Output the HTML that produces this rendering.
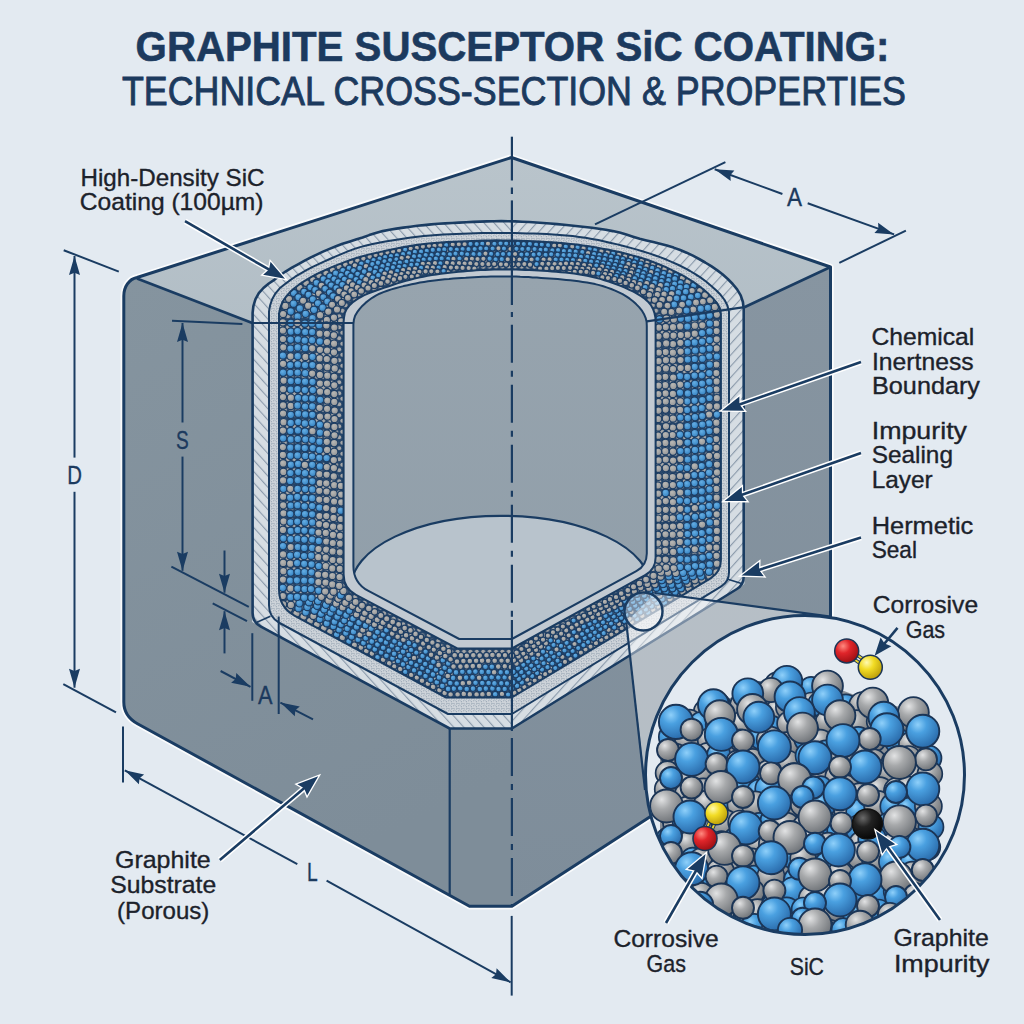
<!DOCTYPE html><html><head><meta charset="utf-8"><style>html,body{margin:0;padding:0;background:#e3eaf1;}svg{display:block;}text{font-family:"Liberation Sans",sans-serif;}</style></head><body>
<svg width="1024" height="1024" viewBox="0 0 1024 1024">
<defs>
<linearGradient id="gleft" x1="0" y1="0" x2="0.3" y2="1"><stop offset="0" stop-color="#85949f"/><stop offset="1" stop-color="#7e8d99"/></linearGradient>
<linearGradient id="gright" x1="0" y1="0" x2="0" y2="1"><stop offset="0" stop-color="#8795a1"/><stop offset="1" stop-color="#7e8d9a"/></linearGradient>
<linearGradient id="gtop" x1="0" y1="0" x2="0" y2="1"><stop offset="0" stop-color="#b9c4cb"/><stop offset="1" stop-color="#b2bec6"/></linearGradient>
<linearGradient id="gcav" x1="0" y1="0" x2="0" y2="1"><stop offset="0" stop-color="#97a4ae"/><stop offset="1" stop-color="#909ea9"/></linearGradient>
<pattern id="hatchL" patternUnits="userSpaceOnUse" width="7.5" height="8" patternTransform="rotate(-42)"><rect width="7.5" height="8" fill="#d6dde3"/><line x1="0.6" y1="0" x2="0.6" y2="8" stroke="#8292a4" stroke-width="1"/></pattern><pattern id="hatchR" patternUnits="userSpaceOnUse" width="7.5" height="8" patternTransform="rotate(42)"><rect width="7.5" height="8" fill="#d6dde3"/><line x1="0.6" y1="0" x2="0.6" y2="8" stroke="#8292a4" stroke-width="1"/></pattern>
<pattern id="stip" patternUnits="userSpaceOnUse" width="5" height="5"><rect width="5" height="5" fill="#cdd3d9"/><path d="M0.5,0.8 L2,2.2 M3.2,1 L4.4,0.2 M1,4.2 L2.6,3.4 M3.6,3 L4.6,4.4" stroke="#6e8196" stroke-width="0.6"/></pattern>
<radialGradient id="sb" cx="0.35" cy="0.3" r="0.75"><stop offset="0" stop-color="#8fd0fa"/><stop offset="0.35" stop-color="#4aa0e0"/><stop offset="1" stop-color="#2868a8"/></radialGradient>
<radialGradient id="sg" cx="0.35" cy="0.3" r="0.75"><stop offset="0" stop-color="#e2e3e4"/><stop offset="0.4" stop-color="#a7a9ab"/><stop offset="1" stop-color="#6d7176"/></radialGradient>
<radialGradient id="sr" cx="0.35" cy="0.3" r="0.75"><stop offset="0" stop-color="#ff8a80"/><stop offset="0.4" stop-color="#e0252a"/><stop offset="1" stop-color="#9a0e12"/></radialGradient>
<radialGradient id="sy" cx="0.35" cy="0.3" r="0.75"><stop offset="0" stop-color="#fffab0"/><stop offset="0.4" stop-color="#f2dc25"/><stop offset="1" stop-color="#b89a08"/></radialGradient>
<radialGradient id="sk" cx="0.35" cy="0.3" r="0.75"><stop offset="0" stop-color="#6a6a6a"/><stop offset="0.4" stop-color="#222"/><stop offset="1" stop-color="#050505"/></radialGradient>
<pattern id="cells" patternUnits="userSpaceOnUse" width="6.4" height="11"><rect width="6.4" height="11" fill="#234469"/><circle cx="3.2" cy="2.75" r="2.5" fill="#a6a7a8" stroke="#1d3d63" stroke-width="0.8"/><circle cx="0" cy="8.25" r="2.5" fill="#a6a7a8" stroke="#1d3d63" stroke-width="0.8"/><circle cx="6.4" cy="8.25" r="2.5" fill="#a6a7a8" stroke="#1d3d63" stroke-width="0.8"/></pattern>
<radialGradient id="pb" cx="0.4" cy="0.35" r="0.7"><stop offset="0" stop-color="#66aee3"/><stop offset="1" stop-color="#3280c0"/></radialGradient>
<radialGradient id="pg" cx="0.4" cy="0.35" r="0.7"><stop offset="0" stop-color="#b9b8b5"/><stop offset="1" stop-color="#929496"/></radialGradient>
<clipPath id="cb0"><path d="M252.6,313 L253.4,306 L255.4,299.3 L258.8,293.2 L263.4,288 L268.8,283.5 L274.6,279.6 L280.1,275.3 L285.9,271.3 L291.9,267.7 L298,264.3 L304.2,260.9 L310.4,257.6 L316.7,254.6 L323,251.6 L329.5,248.9 L336,246.3 L342.5,243.8 L349.2,241.7 L355.9,239.6 L362.6,237.5 L369.2,235.1 L375.8,232.9 L382.6,231.1 L389.5,229.8 L396.4,228.6 L403.3,227.6 L410.3,226.7 L417.2,225.8 L424.2,225.1 L431.2,224.4 L438.2,223.8 L445.1,223.4 L452.1,223 L459.1,222.6 L466.1,222.2 L473.1,221.9 L480.1,221.6 L487.1,221.4 L494.2,221.2 L501.2,221.1 L508.2,221.2 L515.2,221.4 L522.2,221.7 L529.2,222 L536.2,222.5 L543.2,223 L550.1,223.5 L557.1,224.1 L564.1,224.8 L571.1,225.5 L578,226.2 L585,227 L592,227.8 L598.9,228.7 L605.8,229.8 L612.7,231.1 L619.6,232.6 L626.3,234.6 L633,236.7 L639.7,238.7 L646.5,240.4 L653.3,242.1 L660.1,243.7 L666.9,245.5 L673.6,247.6 L680.2,250 L686.6,252.7 L692.9,255.7 L699.1,259 L705.2,262.5 L711.2,266.2 L717,270.1 L722.5,274.3 L727.8,279 L732.7,284 L737.1,289.4 L740.7,295.4 L742.9,302 L743.7,309 L743.7,576.8 Q743.7,584.8 736.9,589 L511.9,728.5 L449.7,728.5 L260.5,626.3 Q252.6,622.1 252.6,613.1 Z"/></clipPath>
<clipPath id="cb1"><path d="M269,311.4 L270.2,305 L272.3,298.9 L275.5,293.3 L279.7,288.3 L284.7,284.3 L289.9,280.4 L295.2,276.7 L300.8,273.3 L306.4,270.2 L312.2,267.2 L318,264.4 L323.9,261.6 L329.8,259 L335.8,256.4 L341.8,253.9 L347.8,251.4 L353.8,249.1 L360,247.1 L366.2,245.5 L372.6,244.1 L378.9,242.8 L385.3,241.6 L391.7,240.5 L398.1,239.5 L404.5,238.5 L410.9,237.6 L417.4,236.8 L423.8,236.1 L430.2,235.5 L436.7,234.9 L443.2,234.5 L449.7,234.2 L456.1,233.9 L462.6,233.7 L469.1,233.4 L475.6,233.2 L482,233 L488.5,232.9 L495,232.9 L501.5,232.9 L508,232.9 L514.5,233.1 L520.9,233.2 L527.4,233.4 L533.9,233.6 L540.4,233.8 L546.8,234.1 L553.3,234.5 L559.8,234.9 L566.2,235.4 L572.7,236.1 L579.1,236.9 L585.5,237.8 L591.9,238.9 L598.3,240.1 L604.6,241.5 L611,242.9 L617.3,244.4 L623.6,246 L629.8,247.6 L636.1,249.4 L642.3,251.2 L648.5,253.1 L654.6,255.2 L660.7,257.4 L666.8,259.8 L672.7,262.3 L678.6,265 L684.4,267.9 L690.1,271 L695.7,274.3 L701.1,277.9 L706.3,281.8 L711.3,285.9 L716.1,290.2 L720.6,294.8 L724.6,300 L727.5,305.7 L729,312 L729,572.6 Q729,581.6 721.3,586.3 L511.9,714 L448,714 L279.6,623 Q269,617.3 269,605.3 Z"/></clipPath>
<clipPath id="cb2"><path d="M279,313.8 L280.3,307.7 L282.5,301.9 L285.9,296.8 L290,292.1 L294.6,288 L299.6,284.2 L304.8,280.9 L310.1,277.7 L315.5,274.7 L321.1,272 L326.7,269.3 L332.4,266.9 L338.1,264.6 L343.9,262.4 L349.7,260.3 L355.6,258.3 L361.5,256.5 L367.5,254.9 L373.5,253.5 L379.6,252.1 L385.6,250.8 L391.7,249.5 L397.7,248.3 L403.8,247.1 L409.9,246.1 L416,245.1 L422.2,244.2 L428.3,243.5 L434.5,242.9 L440.7,242.4 L446.9,242 L453,241.7 L459.2,241.5 L465.4,241.2 L471.6,240.9 L477.8,240.7 L484,240.5 L490.2,240.4 L496.4,240.3 L502.6,240.4 L508.7,240.4 L514.9,240.6 L521.1,240.8 L527.3,241 L533.5,241.2 L539.7,241.5 L545.9,241.9 L552.1,242.3 L558.2,242.7 L564.4,243.2 L570.6,243.9 L576.7,244.6 L582.9,245.4 L589,246.3 L595.1,247.3 L601.2,248.4 L607.3,249.6 L613.3,250.8 L619.4,252.1 L625.4,253.5 L631.4,255.1 L637.4,256.7 L643.3,258.5 L649.2,260.5 L655,262.7 L660.7,265 L666.4,267.4 L672,270.1 L677.6,272.8 L683.1,275.7 L688.4,278.8 L693.7,282.1 L698.7,285.7 L703.6,289.5 L708.2,293.6 L712.6,297.9 L716.7,302.6 L719.8,308 L720.9,314 L720.9,560.1 Q720.9,572.1 710.6,578.3 L511.9,697.5 L446,697.5 L294.8,615.9 Q279,607.3 279,589.3 Z"/></clipPath>
<clipPath id="cb3"><path d="M343.6,322 L344,317.6 L344.8,313.2 L346.6,309.2 L349.3,305.6 L352.5,302.5 L356.1,299.9 L359.9,297.5 L363.8,295.4 L367.9,293.6 L372,292 L376.2,290.5 L380.4,289 L384.6,287.6 L388.9,286.2 L393.1,284.8 L397.3,283.4 L401.6,282.1 L405.9,280.9 L410.2,279.7 L414.5,278.6 L418.8,277.6 L423.2,276.7 L427.5,275.8 L431.9,275.1 L436.3,274.4 L440.8,273.8 L445.2,273.2 L449.6,272.7 L454,272.2 L458.5,271.8 L462.9,271.4 L467.3,271 L471.8,270.7 L476.2,270.3 L480.7,270.1 L485.1,269.9 L489.5,269.7 L494,269.5 L498.5,269.5 L502.9,269.4 L507.4,269.4 L511.8,269.5 L516.3,269.6 L520.7,269.7 L525.2,269.9 L529.6,270.1 L534.1,270.3 L538.5,270.5 L543,270.8 L547.4,271.1 L551.8,271.4 L556.3,271.8 L560.7,272.2 L565.2,272.6 L569.6,273.1 L574,273.6 L578.4,274.3 L582.8,275 L587.2,275.8 L591.5,276.7 L595.9,277.8 L600.2,278.9 L604.4,280.2 L608.7,281.6 L612.9,283 L617.1,284.5 L621.2,286.2 L625.3,287.9 L629.4,289.8 L633.4,291.7 L637.3,293.8 L641.1,296.2 L644.7,298.8 L648,301.7 L650.9,305.1 L653,309 L654.5,313.2 L655.4,317.6 L655.6,322 L655.6,557.5 Q655.6,569.5 645.1,575.2 L511.9,648.5 L457.3,648.5 L356,594.8 Q343.6,588.2 343.6,574.2 Z"/></clipPath>
<clipPath id="cb4"><path d="M353.4,324 L353.9,319.8 L355.1,315.8 L357.2,312.2 L359.7,308.9 L362.5,305.7 L365.5,302.9 L368.8,300.3 L372.2,297.8 L375.8,295.6 L379.5,293.7 L383.4,292.1 L387.3,290.7 L391.3,289.4 L395.4,288.2 L399.4,287.1 L403.5,286.1 L407.6,285.2 L411.6,284.3 L415.8,283.4 L419.9,282.6 L424,281.9 L428.1,281.3 L432.3,280.7 L436.5,280.2 L440.6,279.7 L444.8,279.3 L449,279 L453.2,278.6 L457.3,278.3 L461.5,278 L465.7,277.8 L469.9,277.5 L474.1,277.2 L478.3,277 L482.4,276.8 L486.6,276.7 L490.8,276.5 L495,276.4 L499.2,276.4 L503.4,276.4 L507.6,276.4 L511.8,276.5 L516,276.6 L520.2,276.8 L524.3,276.9 L528.5,277.1 L532.7,277.4 L536.9,277.6 L541.1,277.9 L545.3,278.2 L549.5,278.5 L553.6,278.8 L557.8,279.1 L562,279.5 L566.2,279.9 L570.3,280.3 L574.5,280.8 L578.7,281.3 L582.8,281.9 L587,282.5 L591.1,283.3 L595.2,284.1 L599.3,285.1 L603.3,286.3 L607.3,287.6 L611.2,289 L615.1,290.6 L618.9,292.3 L622.6,294.2 L626.3,296.4 L629.7,298.7 L633,301.3 L636.1,304.1 L639.1,307.1 L641.7,310.3 L643.9,313.9 L645.6,317.8 L646.6,321.8 L646.8,326 L646.8,553.5 Q646.8,565.5 636.3,571.2 L511.9,639 L459.2,639 L368.4,590.9 Q353.4,582.9 353.4,565.9 Z"/></clipPath>
<clipPath id="bigc"><circle cx="805" cy="775" r="158.5"/></clipPath>
<clipPath id="pileclip"><path d="M648,740 L660,715 L690,702 L713,692 L745,681 L787,668 L830,673 L872,690 L913,699 L936,716 L942,760 L945,800 L940,860 L900,940 L700,940 L650,860 Z"/></clipPath>
<clipPath id="smallc"><circle cx="643.5" cy="611.5" r="18"/></clipPath>
</defs>
<rect width="1024" height="1024" fill="#e3eaf1"/>
<path d="M123.8,500 L123.8,296 C123.8,287 129,279 137,277.5 L511.5,157.5 L830.5,267 L830.5,700 L511.9,906.2 L469.5,906.2 L137.5,723.7 C128,718.5 123.8,712 123.8,702 Z" fill="none" stroke="#ffffff" stroke-opacity="0.8" stroke-width="6.5" stroke-linejoin="round"/>
<path d="M137,277.5 L511.5,157.5 L830.5,267 L744.35,307.2 L252.3,323 Z" fill="url(#gtop)"/>
<path d="M744.35,307.2 L830.5,267 L830.5,700 L511.9,906.2 L510.5,906.2 L510.5,728.5 L744.35,584 Z" fill="url(#gright)"/>
<path d="M137,278.5 L252.3,323 L252.3,622 L449.7,728.5 L512.3,728.5 L512.3,906.2 L469.5,906.2 L137.5,723.7 C128,718.5 123.8,712 123.8,702 L123.8,296 C123.8,287 129,280 137,278.5 Z" fill="url(#gleft)"/>
<path d="M252.3,323 L137,278.5 M830.5,267 L744.35,307.2" fill="none" stroke="#1a3c62" stroke-width="2.8"/>
<path d="M123.8,500 L123.8,296 C123.8,287 129,279 137,277.5 L511.5,157.5 L830.5,267 L830.5,700 L511.9,906.2 L469.5,906.2 L137.5,723.7 C128,718.5 123.8,712 123.8,702 Z" fill="none" stroke="#1a3c62" stroke-width="3" stroke-linejoin="round"/>
<line x1="449.7" y1="728.5" x2="449.7" y2="894.5" stroke="#1a3c62" stroke-width="2.2"/>
<g clip-path="url(#cb0)"><rect x="240" y="200" width="272" height="540" fill="url(#hatchL)"/><rect x="512" y="200" width="240" height="540" fill="url(#hatchR)"/></g>
<path d="M269,311.4 L270.2,305 L272.3,298.9 L275.5,293.3 L279.7,288.3 L284.7,284.3 L289.9,280.4 L295.2,276.7 L300.8,273.3 L306.4,270.2 L312.2,267.2 L318,264.4 L323.9,261.6 L329.8,259 L335.8,256.4 L341.8,253.9 L347.8,251.4 L353.8,249.1 L360,247.1 L366.2,245.5 L372.6,244.1 L378.9,242.8 L385.3,241.6 L391.7,240.5 L398.1,239.5 L404.5,238.5 L410.9,237.6 L417.4,236.8 L423.8,236.1 L430.2,235.5 L436.7,234.9 L443.2,234.5 L449.7,234.2 L456.1,233.9 L462.6,233.7 L469.1,233.4 L475.6,233.2 L482,233 L488.5,232.9 L495,232.9 L501.5,232.9 L508,232.9 L514.5,233.1 L520.9,233.2 L527.4,233.4 L533.9,233.6 L540.4,233.8 L546.8,234.1 L553.3,234.5 L559.8,234.9 L566.2,235.4 L572.7,236.1 L579.1,236.9 L585.5,237.8 L591.9,238.9 L598.3,240.1 L604.6,241.5 L611,242.9 L617.3,244.4 L623.6,246 L629.8,247.6 L636.1,249.4 L642.3,251.2 L648.5,253.1 L654.6,255.2 L660.7,257.4 L666.8,259.8 L672.7,262.3 L678.6,265 L684.4,267.9 L690.1,271 L695.7,274.3 L701.1,277.9 L706.3,281.8 L711.3,285.9 L716.1,290.2 L720.6,294.8 L724.6,300 L727.5,305.7 L729,312 L729,572.6 Q729,581.6 721.3,586.3 L511.9,714 L448,714 L279.6,623 Q269,617.3 269,605.3 Z" fill="url(#stip)"/>
<path d="M279,313.8 L280.3,307.7 L282.5,301.9 L285.9,296.8 L290,292.1 L294.6,288 L299.6,284.2 L304.8,280.9 L310.1,277.7 L315.5,274.7 L321.1,272 L326.7,269.3 L332.4,266.9 L338.1,264.6 L343.9,262.4 L349.7,260.3 L355.6,258.3 L361.5,256.5 L367.5,254.9 L373.5,253.5 L379.6,252.1 L385.6,250.8 L391.7,249.5 L397.7,248.3 L403.8,247.1 L409.9,246.1 L416,245.1 L422.2,244.2 L428.3,243.5 L434.5,242.9 L440.7,242.4 L446.9,242 L453,241.7 L459.2,241.5 L465.4,241.2 L471.6,240.9 L477.8,240.7 L484,240.5 L490.2,240.4 L496.4,240.3 L502.6,240.4 L508.7,240.4 L514.9,240.6 L521.1,240.8 L527.3,241 L533.5,241.2 L539.7,241.5 L545.9,241.9 L552.1,242.3 L558.2,242.7 L564.4,243.2 L570.6,243.9 L576.7,244.6 L582.9,245.4 L589,246.3 L595.1,247.3 L601.2,248.4 L607.3,249.6 L613.3,250.8 L619.4,252.1 L625.4,253.5 L631.4,255.1 L637.4,256.7 L643.3,258.5 L649.2,260.5 L655,262.7 L660.7,265 L666.4,267.4 L672,270.1 L677.6,272.8 L683.1,275.7 L688.4,278.8 L693.7,282.1 L698.7,285.7 L703.6,289.5 L708.2,293.6 L712.6,297.9 L716.7,302.6 L719.8,308 L720.9,314 L720.9,560.1 Q720.9,572.1 710.6,578.3 L511.9,697.5 L446,697.5 L294.8,615.9 Q279,607.3 279,589.3 Z" fill="url(#cells)"/>
<g clip-path="url(#cb2)">
<circle cx="283.1" cy="314" r="3.7" fill="url(#pg)" stroke="#1d3d63" stroke-width="1.2"/>
<circle cx="285.3" cy="305.9" r="3.7" fill="url(#pg)" stroke="#1d3d63" stroke-width="1.2"/>
<circle cx="289" cy="298.9" r="3.6" fill="url(#pg)" stroke="#1d3d63" stroke-width="1.2"/>
<circle cx="293.8" cy="292.9" r="3.6" fill="url(#pb)" stroke="#1d3d63" stroke-width="1.2"/>
<circle cx="299.7" cy="287.7" r="3.5" fill="url(#pg)" stroke="#1d3d63" stroke-width="1.2"/>
<circle cx="306.1" cy="282.9" r="3.4" fill="url(#pg)" stroke="#1d3d63" stroke-width="1.2"/>
<circle cx="312.8" cy="279.6" r="3.3" fill="url(#pg)" stroke="#1d3d63" stroke-width="1.2"/>
<circle cx="319.1" cy="275.6" r="3.3" fill="url(#pg)" stroke="#1d3d63" stroke-width="1.2"/>
<circle cx="326" cy="273" r="3.2" fill="url(#pg)" stroke="#1d3d63" stroke-width="1.2"/>
<circle cx="332.4" cy="269.7" r="3.1" fill="url(#pg)" stroke="#1d3d63" stroke-width="1.2"/>
<circle cx="339.1" cy="266.8" r="3.1" fill="url(#pg)" stroke="#1d3d63" stroke-width="1.2"/>
<circle cx="345.4" cy="264.5" r="3" fill="url(#pg)" stroke="#1d3d63" stroke-width="1.2"/>
<circle cx="351.1" cy="262.1" r="2.9" fill="url(#pg)" stroke="#1d3d63" stroke-width="1.2"/>
<circle cx="357.4" cy="260.5" r="2.9" fill="url(#pg)" stroke="#1d3d63" stroke-width="1.2"/>
<circle cx="363.4" cy="258.5" r="2.8" fill="url(#pg)" stroke="#1d3d63" stroke-width="1.2"/>
<circle cx="369.7" cy="256.7" r="2.8" fill="url(#pg)" stroke="#1d3d63" stroke-width="1.2"/>
<circle cx="375.6" cy="255.1" r="2.7" fill="url(#pg)" stroke="#1d3d63" stroke-width="1.2"/>
<circle cx="381.2" cy="253.9" r="2.7" fill="url(#pg)" stroke="#1d3d63" stroke-width="1.2"/>
<circle cx="387.5" cy="252.8" r="2.7" fill="url(#pg)" stroke="#1d3d63" stroke-width="1.2"/>
<circle cx="393.1" cy="251.7" r="2.7" fill="url(#pg)" stroke="#1d3d63" stroke-width="1.2"/>
<circle cx="399.1" cy="250.4" r="2.7" fill="url(#pg)" stroke="#1d3d63" stroke-width="1.2"/>
<circle cx="405.2" cy="249.7" r="2.7" fill="url(#pb)" stroke="#1d3d63" stroke-width="1.2"/>
<circle cx="410.7" cy="248.6" r="2.7" fill="url(#pg)" stroke="#1d3d63" stroke-width="1.2"/>
<circle cx="416.8" cy="247.9" r="2.7" fill="url(#pg)" stroke="#1d3d63" stroke-width="1.2"/>
<circle cx="422.9" cy="246.6" r="2.7" fill="url(#pg)" stroke="#1d3d63" stroke-width="1.2"/>
<circle cx="429" cy="245.8" r="2.7" fill="url(#pg)" stroke="#1d3d63" stroke-width="1.2"/>
<circle cx="434.5" cy="245.8" r="2.7" fill="url(#pg)" stroke="#1d3d63" stroke-width="1.2"/>
<circle cx="440.3" cy="245.2" r="2.7" fill="url(#pg)" stroke="#1d3d63" stroke-width="1.2"/>
<circle cx="446.2" cy="245" r="2.7" fill="url(#pb)" stroke="#1d3d63" stroke-width="1.2"/>
<circle cx="452.7" cy="244.6" r="2.7" fill="url(#pg)" stroke="#1d3d63" stroke-width="1.2"/>
<circle cx="458.8" cy="244.2" r="2.7" fill="url(#pg)" stroke="#1d3d63" stroke-width="1.2"/>
<circle cx="464.6" cy="244.2" r="2.7" fill="url(#pg)" stroke="#1d3d63" stroke-width="1.2"/>
<circle cx="470.5" cy="243.9" r="2.7" fill="url(#pb)" stroke="#1d3d63" stroke-width="1.2"/>
<circle cx="476.7" cy="244.1" r="2.7" fill="url(#pb)" stroke="#1d3d63" stroke-width="1.2"/>
<circle cx="482.3" cy="243.7" r="2.7" fill="url(#pb)" stroke="#1d3d63" stroke-width="1.2"/>
<circle cx="488" cy="243.7" r="2.7" fill="url(#pg)" stroke="#1d3d63" stroke-width="1.2"/>
<circle cx="494.4" cy="243.8" r="2.7" fill="url(#pb)" stroke="#1d3d63" stroke-width="1.2"/>
<circle cx="500.6" cy="243.3" r="2.7" fill="url(#pb)" stroke="#1d3d63" stroke-width="1.2"/>
<circle cx="506.2" cy="243.6" r="2.7" fill="url(#pb)" stroke="#1d3d63" stroke-width="1.2"/>
<circle cx="511.9" cy="243.6" r="2.7" fill="url(#pb)" stroke="#1d3d63" stroke-width="1.2"/>
<circle cx="518" cy="243.5" r="2.7" fill="url(#pb)" stroke="#1d3d63" stroke-width="1.2"/>
<circle cx="523.8" cy="244.1" r="2.7" fill="url(#pb)" stroke="#1d3d63" stroke-width="1.2"/>
<circle cx="529.9" cy="243.9" r="2.7" fill="url(#pb)" stroke="#1d3d63" stroke-width="1.2"/>
<circle cx="536.1" cy="244.6" r="2.7" fill="url(#pb)" stroke="#1d3d63" stroke-width="1.2"/>
<circle cx="541.8" cy="244.6" r="2.7" fill="url(#pb)" stroke="#1d3d63" stroke-width="1.2"/>
<circle cx="548.1" cy="245.2" r="2.7" fill="url(#pb)" stroke="#1d3d63" stroke-width="1.2"/>
<circle cx="554.3" cy="245.5" r="2.7" fill="url(#pg)" stroke="#1d3d63" stroke-width="1.2"/>
<circle cx="559.8" cy="245.6" r="2.7" fill="url(#pg)" stroke="#1d3d63" stroke-width="1.2"/>
<circle cx="565.8" cy="246.5" r="2.7" fill="url(#pb)" stroke="#1d3d63" stroke-width="1.2"/>
<circle cx="572.3" cy="246.5" r="2.7" fill="url(#pg)" stroke="#1d3d63" stroke-width="1.2"/>
<circle cx="577.6" cy="247.2" r="2.7" fill="url(#pb)" stroke="#1d3d63" stroke-width="1.2"/>
<circle cx="583.6" cy="248.2" r="2.7" fill="url(#pg)" stroke="#1d3d63" stroke-width="1.2"/>
<circle cx="589.8" cy="248.8" r="2.7" fill="url(#pb)" stroke="#1d3d63" stroke-width="1.2"/>
<circle cx="595.2" cy="249.9" r="2.7" fill="url(#pb)" stroke="#1d3d63" stroke-width="1.2"/>
<circle cx="601.4" cy="251" r="2.7" fill="url(#pg)" stroke="#1d3d63" stroke-width="1.2"/>
<circle cx="607.7" cy="252.2" r="2.7" fill="url(#pg)" stroke="#1d3d63" stroke-width="1.2"/>
<circle cx="613.2" cy="253.3" r="2.7" fill="url(#pb)" stroke="#1d3d63" stroke-width="1.2"/>
<circle cx="619.2" cy="254.1" r="2.7" fill="url(#pg)" stroke="#1d3d63" stroke-width="1.2"/>
<circle cx="625.2" cy="256" r="2.7" fill="url(#pg)" stroke="#1d3d63" stroke-width="1.2"/>
<circle cx="631" cy="257.5" r="2.7" fill="url(#pg)" stroke="#1d3d63" stroke-width="1.2"/>
<circle cx="636.4" cy="258.7" r="2.7" fill="url(#pb)" stroke="#1d3d63" stroke-width="1.2"/>
<circle cx="641.9" cy="260.7" r="2.7" fill="url(#pg)" stroke="#1d3d63" stroke-width="1.2"/>
<circle cx="647.5" cy="262.1" r="2.7" fill="url(#pg)" stroke="#1d3d63" stroke-width="1.2"/>
<circle cx="653.3" cy="264.3" r="2.8" fill="url(#pg)" stroke="#1d3d63" stroke-width="1.2"/>
<circle cx="659.1" cy="266.5" r="2.8" fill="url(#pg)" stroke="#1d3d63" stroke-width="1.2"/>
<circle cx="664.6" cy="269.1" r="2.9" fill="url(#pg)" stroke="#1d3d63" stroke-width="1.2"/>
<circle cx="670.4" cy="272" r="2.9" fill="url(#pg)" stroke="#1d3d63" stroke-width="1.2"/>
<circle cx="676.1" cy="275.4" r="3" fill="url(#pb)" stroke="#1d3d63" stroke-width="1.2"/>
<circle cx="682.4" cy="278" r="3.1" fill="url(#pg)" stroke="#1d3d63" stroke-width="1.2"/>
<circle cx="688" cy="281.7" r="3.2" fill="url(#pg)" stroke="#1d3d63" stroke-width="1.2"/>
<circle cx="693.8" cy="285.4" r="3.2" fill="url(#pb)" stroke="#1d3d63" stroke-width="1.2"/>
<circle cx="699.9" cy="290.6" r="3.3" fill="url(#pg)" stroke="#1d3d63" stroke-width="1.2"/>
<circle cx="705.1" cy="295.1" r="3.5" fill="url(#pg)" stroke="#1d3d63" stroke-width="1.2"/>
<circle cx="710.1" cy="300.3" r="3.6" fill="url(#pg)" stroke="#1d3d63" stroke-width="1.2"/>
<circle cx="714.8" cy="306.9" r="3.7" fill="url(#pg)" stroke="#1d3d63" stroke-width="1.2"/>
<circle cx="716.9" cy="314.6" r="3.7" fill="url(#pg)" stroke="#1d3d63" stroke-width="1.2"/>
<circle cx="716.2" cy="323.5" r="3.7" fill="url(#pg)" stroke="#1d3d63" stroke-width="1.2"/>
<circle cx="716.6" cy="331.1" r="3.7" fill="url(#pg)" stroke="#1d3d63" stroke-width="1.2"/>
<circle cx="716.7" cy="339.3" r="3.7" fill="url(#pg)" stroke="#1d3d63" stroke-width="1.2"/>
<circle cx="716.6" cy="348.4" r="3.7" fill="url(#pg)" stroke="#1d3d63" stroke-width="1.2"/>
<circle cx="716.9" cy="356.5" r="3.7" fill="url(#pb)" stroke="#1d3d63" stroke-width="1.2"/>
<circle cx="716.4" cy="364.5" r="3.7" fill="url(#pg)" stroke="#1d3d63" stroke-width="1.2"/>
<circle cx="716.3" cy="373.1" r="3.7" fill="url(#pg)" stroke="#1d3d63" stroke-width="1.2"/>
<circle cx="716.6" cy="381.4" r="3.7" fill="url(#pg)" stroke="#1d3d63" stroke-width="1.2"/>
<circle cx="716.5" cy="389.3" r="3.7" fill="url(#pg)" stroke="#1d3d63" stroke-width="1.2"/>
<circle cx="716.9" cy="398.2" r="3.7" fill="url(#pg)" stroke="#1d3d63" stroke-width="1.2"/>
<circle cx="716.9" cy="406.4" r="3.7" fill="url(#pg)" stroke="#1d3d63" stroke-width="1.2"/>
<circle cx="716.9" cy="414.6" r="3.7" fill="url(#pb)" stroke="#1d3d63" stroke-width="1.2"/>
<circle cx="716.4" cy="422.7" r="3.7" fill="url(#pg)" stroke="#1d3d63" stroke-width="1.2"/>
<circle cx="716.5" cy="430.6" r="3.7" fill="url(#pg)" stroke="#1d3d63" stroke-width="1.2"/>
<circle cx="716.2" cy="439.1" r="3.7" fill="url(#pg)" stroke="#1d3d63" stroke-width="1.2"/>
<circle cx="716.4" cy="447.8" r="3.7" fill="url(#pg)" stroke="#1d3d63" stroke-width="1.2"/>
<circle cx="717" cy="455.9" r="3.7" fill="url(#pg)" stroke="#1d3d63" stroke-width="1.2"/>
<circle cx="717" cy="464.6" r="3.7" fill="url(#pg)" stroke="#1d3d63" stroke-width="1.2"/>
<circle cx="717" cy="472.4" r="3.7" fill="url(#pg)" stroke="#1d3d63" stroke-width="1.2"/>
<circle cx="716.4" cy="480.6" r="3.7" fill="url(#pg)" stroke="#1d3d63" stroke-width="1.2"/>
<circle cx="716.4" cy="488.9" r="3.7" fill="url(#pg)" stroke="#1d3d63" stroke-width="1.2"/>
<circle cx="716.7" cy="497.7" r="3.7" fill="url(#pg)" stroke="#1d3d63" stroke-width="1.2"/>
<circle cx="716.9" cy="505.7" r="3.7" fill="url(#pb)" stroke="#1d3d63" stroke-width="1.2"/>
<circle cx="716.7" cy="514.3" r="3.7" fill="url(#pg)" stroke="#1d3d63" stroke-width="1.2"/>
<circle cx="716.3" cy="522.5" r="3.7" fill="url(#pg)" stroke="#1d3d63" stroke-width="1.2"/>
<circle cx="716.9" cy="530.9" r="3.7" fill="url(#pg)" stroke="#1d3d63" stroke-width="1.2"/>
<circle cx="716.8" cy="538.9" r="3.7" fill="url(#pg)" stroke="#1d3d63" stroke-width="1.2"/>
<circle cx="716.3" cy="547.5" r="3.7" fill="url(#pg)" stroke="#1d3d63" stroke-width="1.2"/>
<circle cx="716.5" cy="555.8" r="3.7" fill="url(#pg)" stroke="#1d3d63" stroke-width="1.2"/>
<circle cx="717" cy="563.7" r="3.7" fill="url(#pg)" stroke="#1d3d63" stroke-width="1.2"/>
<circle cx="716.4" cy="572.4" r="3.7" fill="url(#pg)" stroke="#1d3d63" stroke-width="1.2"/>
<circle cx="709.6" cy="575.9" r="3.7" fill="url(#pg)" stroke="#1d3d63" stroke-width="1.2"/>
<circle cx="702.2" cy="580" r="3.6" fill="url(#pg)" stroke="#1d3d63" stroke-width="1.2"/>
<circle cx="696" cy="584.6" r="3.5" fill="url(#pg)" stroke="#1d3d63" stroke-width="1.2"/>
<circle cx="688.8" cy="588.6" r="3.4" fill="url(#pg)" stroke="#1d3d63" stroke-width="1.2"/>
<circle cx="683" cy="592.3" r="3.3" fill="url(#pg)" stroke="#1d3d63" stroke-width="1.2"/>
<circle cx="676.3" cy="595.9" r="3.2" fill="url(#pg)" stroke="#1d3d63" stroke-width="1.2"/>
<circle cx="670.1" cy="599.1" r="3.1" fill="url(#pg)" stroke="#1d3d63" stroke-width="1.2"/>
<circle cx="664.9" cy="603.1" r="3" fill="url(#pb)" stroke="#1d3d63" stroke-width="1.2"/>
<circle cx="658.9" cy="606.7" r="2.9" fill="url(#pg)" stroke="#1d3d63" stroke-width="1.2"/>
<circle cx="653.3" cy="610" r="2.9" fill="url(#pg)" stroke="#1d3d63" stroke-width="1.2"/>
<circle cx="648.2" cy="612.7" r="2.8" fill="url(#pb)" stroke="#1d3d63" stroke-width="1.2"/>
<circle cx="642.4" cy="615.9" r="2.8" fill="url(#pg)" stroke="#1d3d63" stroke-width="1.2"/>
<circle cx="637.1" cy="619.2" r="2.7" fill="url(#pb)" stroke="#1d3d63" stroke-width="1.2"/>
<circle cx="631.9" cy="622.1" r="2.7" fill="url(#pg)" stroke="#1d3d63" stroke-width="1.2"/>
<circle cx="626.7" cy="625.6" r="2.7" fill="url(#pg)" stroke="#1d3d63" stroke-width="1.2"/>
<circle cx="621.7" cy="628.2" r="2.7" fill="url(#pg)" stroke="#1d3d63" stroke-width="1.2"/>
<circle cx="616.7" cy="631.6" r="2.7" fill="url(#pg)" stroke="#1d3d63" stroke-width="1.2"/>
<circle cx="611.4" cy="634.7" r="2.7" fill="url(#pg)" stroke="#1d3d63" stroke-width="1.2"/>
<circle cx="606.4" cy="637.4" r="2.7" fill="url(#pg)" stroke="#1d3d63" stroke-width="1.2"/>
<circle cx="601.2" cy="640" r="2.7" fill="url(#pg)" stroke="#1d3d63" stroke-width="1.2"/>
<circle cx="596" cy="643.2" r="2.7" fill="url(#pg)" stroke="#1d3d63" stroke-width="1.2"/>
<circle cx="590.5" cy="646.7" r="2.7" fill="url(#pg)" stroke="#1d3d63" stroke-width="1.2"/>
<circle cx="585.5" cy="649.5" r="2.7" fill="url(#pg)" stroke="#1d3d63" stroke-width="1.2"/>
<circle cx="580.9" cy="652.7" r="2.7" fill="url(#pg)" stroke="#1d3d63" stroke-width="1.2"/>
<circle cx="575.4" cy="655.7" r="2.7" fill="url(#pb)" stroke="#1d3d63" stroke-width="1.2"/>
<circle cx="570.5" cy="659" r="2.7" fill="url(#pg)" stroke="#1d3d63" stroke-width="1.2"/>
<circle cx="565" cy="661.9" r="2.7" fill="url(#pg)" stroke="#1d3d63" stroke-width="1.2"/>
<circle cx="560" cy="664.8" r="2.7" fill="url(#pb)" stroke="#1d3d63" stroke-width="1.2"/>
<circle cx="555.3" cy="668.1" r="2.7" fill="url(#pb)" stroke="#1d3d63" stroke-width="1.2"/>
<circle cx="550" cy="671.4" r="2.7" fill="url(#pg)" stroke="#1d3d63" stroke-width="1.2"/>
<circle cx="545.2" cy="674.2" r="2.7" fill="url(#pg)" stroke="#1d3d63" stroke-width="1.2"/>
<circle cx="539.9" cy="677.4" r="2.7" fill="url(#pg)" stroke="#1d3d63" stroke-width="1.2"/>
<circle cx="534.7" cy="680.6" r="2.7" fill="url(#pg)" stroke="#1d3d63" stroke-width="1.2"/>
<circle cx="529.5" cy="683.6" r="2.7" fill="url(#pg)" stroke="#1d3d63" stroke-width="1.2"/>
<circle cx="524.4" cy="687.1" r="2.7" fill="url(#pg)" stroke="#1d3d63" stroke-width="1.2"/>
<circle cx="519.3" cy="690.1" r="2.8" fill="url(#pg)" stroke="#1d3d63" stroke-width="1.2"/>
<circle cx="514.3" cy="692.8" r="2.8" fill="url(#pg)" stroke="#1d3d63" stroke-width="1.2"/>
<circle cx="508.1" cy="694.6" r="2.8" fill="url(#pb)" stroke="#1d3d63" stroke-width="1.2"/>
<circle cx="502" cy="693.9" r="2.8" fill="url(#pg)" stroke="#1d3d63" stroke-width="1.2"/>
<circle cx="495.2" cy="694.2" r="2.9" fill="url(#pb)" stroke="#1d3d63" stroke-width="1.2"/>
<circle cx="488.8" cy="694" r="2.9" fill="url(#pg)" stroke="#1d3d63" stroke-width="1.2"/>
<circle cx="482.4" cy="694.4" r="2.9" fill="url(#pg)" stroke="#1d3d63" stroke-width="1.2"/>
<circle cx="476.6" cy="694.5" r="2.9" fill="url(#pg)" stroke="#1d3d63" stroke-width="1.2"/>
<circle cx="469.8" cy="694.4" r="2.9" fill="url(#pg)" stroke="#1d3d63" stroke-width="1.2"/>
<circle cx="463.8" cy="693.9" r="2.9" fill="url(#pg)" stroke="#1d3d63" stroke-width="1.2"/>
<circle cx="457.6" cy="694.6" r="2.9" fill="url(#pg)" stroke="#1d3d63" stroke-width="1.2"/>
<circle cx="450.6" cy="694.6" r="2.9" fill="url(#pg)" stroke="#1d3d63" stroke-width="1.2"/>
<circle cx="444.6" cy="693.1" r="2.9" fill="url(#pg)" stroke="#1d3d63" stroke-width="1.2"/>
<circle cx="439.4" cy="690.3" r="2.9" fill="url(#pg)" stroke="#1d3d63" stroke-width="1.2"/>
<circle cx="433.1" cy="686.9" r="2.9" fill="url(#pg)" stroke="#1d3d63" stroke-width="1.2"/>
<circle cx="427.8" cy="683.8" r="2.9" fill="url(#pg)" stroke="#1d3d63" stroke-width="1.2"/>
<circle cx="422" cy="680.8" r="2.9" fill="url(#pg)" stroke="#1d3d63" stroke-width="1.2"/>
<circle cx="416.8" cy="677.6" r="2.8" fill="url(#pg)" stroke="#1d3d63" stroke-width="1.2"/>
<circle cx="411.2" cy="674.9" r="2.8" fill="url(#pg)" stroke="#1d3d63" stroke-width="1.2"/>
<circle cx="405.2" cy="671.9" r="2.8" fill="url(#pb)" stroke="#1d3d63" stroke-width="1.2"/>
<circle cx="400.2" cy="669" r="2.8" fill="url(#pg)" stroke="#1d3d63" stroke-width="1.2"/>
<circle cx="394.2" cy="666.4" r="2.8" fill="url(#pg)" stroke="#1d3d63" stroke-width="1.2"/>
<circle cx="389.2" cy="663.4" r="2.9" fill="url(#pg)" stroke="#1d3d63" stroke-width="1.2"/>
<circle cx="383.1" cy="659.8" r="2.9" fill="url(#pg)" stroke="#1d3d63" stroke-width="1.2"/>
<circle cx="377.4" cy="657.2" r="2.9" fill="url(#pb)" stroke="#1d3d63" stroke-width="1.2"/>
<circle cx="371.9" cy="653.6" r="2.9" fill="url(#pg)" stroke="#1d3d63" stroke-width="1.2"/>
<circle cx="366.3" cy="651.2" r="3" fill="url(#pg)" stroke="#1d3d63" stroke-width="1.2"/>
<circle cx="360.9" cy="647.5" r="3" fill="url(#pg)" stroke="#1d3d63" stroke-width="1.2"/>
<circle cx="354.4" cy="644.9" r="3.1" fill="url(#pg)" stroke="#1d3d63" stroke-width="1.2"/>
<circle cx="348.8" cy="641.5" r="3.1" fill="url(#pb)" stroke="#1d3d63" stroke-width="1.2"/>
<circle cx="342.3" cy="637.7" r="3.2" fill="url(#pg)" stroke="#1d3d63" stroke-width="1.2"/>
<circle cx="336.6" cy="634.6" r="3.2" fill="url(#pb)" stroke="#1d3d63" stroke-width="1.2"/>
<circle cx="329.8" cy="631.7" r="3.3" fill="url(#pg)" stroke="#1d3d63" stroke-width="1.2"/>
<circle cx="323.8" cy="628.1" r="3.4" fill="url(#pg)" stroke="#1d3d63" stroke-width="1.2"/>
<circle cx="316.8" cy="624.6" r="3.5" fill="url(#pg)" stroke="#1d3d63" stroke-width="1.2"/>
<circle cx="310" cy="620.9" r="3.6" fill="url(#pg)" stroke="#1d3d63" stroke-width="1.2"/>
<circle cx="303.4" cy="616.8" r="3.6" fill="url(#pg)" stroke="#1d3d63" stroke-width="1.2"/>
<circle cx="296.4" cy="613.5" r="3.7" fill="url(#pg)" stroke="#1d3d63" stroke-width="1.2"/>
<circle cx="288.9" cy="609" r="3.7" fill="url(#pg)" stroke="#1d3d63" stroke-width="1.2"/>
<circle cx="283.1" cy="604.4" r="3.7" fill="url(#pg)" stroke="#1d3d63" stroke-width="1.2"/>
<circle cx="282.8" cy="596" r="3.7" fill="url(#pg)" stroke="#1d3d63" stroke-width="1.2"/>
<circle cx="282.8" cy="587.8" r="3.7" fill="url(#pb)" stroke="#1d3d63" stroke-width="1.2"/>
<circle cx="283" cy="579.6" r="3.7" fill="url(#pg)" stroke="#1d3d63" stroke-width="1.2"/>
<circle cx="283.4" cy="571.2" r="3.7" fill="url(#pg)" stroke="#1d3d63" stroke-width="1.2"/>
<circle cx="283.2" cy="562.9" r="3.7" fill="url(#pg)" stroke="#1d3d63" stroke-width="1.2"/>
<circle cx="283.1" cy="554.4" r="3.7" fill="url(#pg)" stroke="#1d3d63" stroke-width="1.2"/>
<circle cx="283" cy="546.1" r="3.7" fill="url(#pb)" stroke="#1d3d63" stroke-width="1.2"/>
<circle cx="283.4" cy="538.3" r="3.7" fill="url(#pb)" stroke="#1d3d63" stroke-width="1.2"/>
<circle cx="283" cy="529.9" r="3.7" fill="url(#pg)" stroke="#1d3d63" stroke-width="1.2"/>
<circle cx="283.6" cy="521.3" r="3.7" fill="url(#pg)" stroke="#1d3d63" stroke-width="1.2"/>
<circle cx="283.5" cy="513.3" r="3.7" fill="url(#pg)" stroke="#1d3d63" stroke-width="1.2"/>
<circle cx="283.2" cy="505.3" r="3.7" fill="url(#pg)" stroke="#1d3d63" stroke-width="1.2"/>
<circle cx="283.2" cy="496.7" r="3.7" fill="url(#pg)" stroke="#1d3d63" stroke-width="1.2"/>
<circle cx="283.4" cy="488.8" r="3.7" fill="url(#pb)" stroke="#1d3d63" stroke-width="1.2"/>
<circle cx="283.1" cy="480.4" r="3.7" fill="url(#pg)" stroke="#1d3d63" stroke-width="1.2"/>
<circle cx="283.4" cy="471.9" r="3.7" fill="url(#pg)" stroke="#1d3d63" stroke-width="1.2"/>
<circle cx="283.2" cy="463.4" r="3.7" fill="url(#pg)" stroke="#1d3d63" stroke-width="1.2"/>
<circle cx="282.9" cy="454.9" r="3.7" fill="url(#pg)" stroke="#1d3d63" stroke-width="1.2"/>
<circle cx="282.9" cy="447.1" r="3.7" fill="url(#pg)" stroke="#1d3d63" stroke-width="1.2"/>
<circle cx="283.1" cy="438.3" r="3.7" fill="url(#pb)" stroke="#1d3d63" stroke-width="1.2"/>
<circle cx="283" cy="430.6" r="3.7" fill="url(#pg)" stroke="#1d3d63" stroke-width="1.2"/>
<circle cx="283.6" cy="422.2" r="3.7" fill="url(#pg)" stroke="#1d3d63" stroke-width="1.2"/>
<circle cx="283.1" cy="413.5" r="3.7" fill="url(#pg)" stroke="#1d3d63" stroke-width="1.2"/>
<circle cx="283.1" cy="405.4" r="3.7" fill="url(#pg)" stroke="#1d3d63" stroke-width="1.2"/>
<circle cx="283" cy="397.1" r="3.7" fill="url(#pg)" stroke="#1d3d63" stroke-width="1.2"/>
<circle cx="283.1" cy="389.2" r="3.7" fill="url(#pg)" stroke="#1d3d63" stroke-width="1.2"/>
<circle cx="283.7" cy="380.6" r="3.7" fill="url(#pg)" stroke="#1d3d63" stroke-width="1.2"/>
<circle cx="283.1" cy="372.6" r="3.7" fill="url(#pb)" stroke="#1d3d63" stroke-width="1.2"/>
<circle cx="283.1" cy="363.8" r="3.7" fill="url(#pg)" stroke="#1d3d63" stroke-width="1.2"/>
<circle cx="282.9" cy="355.5" r="3.7" fill="url(#pb)" stroke="#1d3d63" stroke-width="1.2"/>
<circle cx="283.3" cy="347.3" r="3.7" fill="url(#pg)" stroke="#1d3d63" stroke-width="1.2"/>
<circle cx="283" cy="339" r="3.7" fill="url(#pg)" stroke="#1d3d63" stroke-width="1.2"/>
<circle cx="282.9" cy="330.5" r="3.7" fill="url(#pg)" stroke="#1d3d63" stroke-width="1.2"/>
<circle cx="282.9" cy="322.3" r="3.7" fill="url(#pg)" stroke="#1d3d63" stroke-width="1.2"/>
<circle cx="290.7" cy="311.4" r="3.7" fill="url(#pb)" stroke="#1d3d63" stroke-width="1.2"/>
<circle cx="293.6" cy="303.7" r="3.7" fill="url(#pb)" stroke="#1d3d63" stroke-width="1.2"/>
<circle cx="298.4" cy="297.3" r="3.6" fill="url(#pb)" stroke="#1d3d63" stroke-width="1.2"/>
<circle cx="304.1" cy="291.7" r="3.5" fill="url(#pb)" stroke="#1d3d63" stroke-width="1.2"/>
<circle cx="310.3" cy="287.2" r="3.4" fill="url(#pb)" stroke="#1d3d63" stroke-width="1.2"/>
<circle cx="316.5" cy="282.7" r="3.4" fill="url(#pb)" stroke="#1d3d63" stroke-width="1.2"/>
<circle cx="323.4" cy="278.9" r="3.3" fill="url(#pb)" stroke="#1d3d63" stroke-width="1.2"/>
<circle cx="329.8" cy="276" r="3.2" fill="url(#pb)" stroke="#1d3d63" stroke-width="1.2"/>
<circle cx="335.7" cy="273.2" r="3.2" fill="url(#pb)" stroke="#1d3d63" stroke-width="1.2"/>
<circle cx="342.9" cy="270.4" r="3.1" fill="url(#pb)" stroke="#1d3d63" stroke-width="1.2"/>
<circle cx="349.1" cy="268.2" r="3" fill="url(#pb)" stroke="#1d3d63" stroke-width="1.2"/>
<circle cx="354.9" cy="265.6" r="2.9" fill="url(#pg)" stroke="#1d3d63" stroke-width="1.2"/>
<circle cx="361.4" cy="263.7" r="2.9" fill="url(#pb)" stroke="#1d3d63" stroke-width="1.2"/>
<circle cx="367.7" cy="261.8" r="2.8" fill="url(#pb)" stroke="#1d3d63" stroke-width="1.2"/>
<circle cx="373.6" cy="260.3" r="2.8" fill="url(#pb)" stroke="#1d3d63" stroke-width="1.2"/>
<circle cx="379.6" cy="258.7" r="2.7" fill="url(#pb)" stroke="#1d3d63" stroke-width="1.2"/>
<circle cx="385.2" cy="257" r="2.7" fill="url(#pb)" stroke="#1d3d63" stroke-width="1.2"/>
<circle cx="391" cy="256.1" r="2.7" fill="url(#pb)" stroke="#1d3d63" stroke-width="1.2"/>
<circle cx="396.9" cy="255.4" r="2.7" fill="url(#pb)" stroke="#1d3d63" stroke-width="1.2"/>
<circle cx="403.1" cy="254.2" r="2.7" fill="url(#pb)" stroke="#1d3d63" stroke-width="1.2"/>
<circle cx="409.1" cy="253.3" r="2.7" fill="url(#pb)" stroke="#1d3d63" stroke-width="1.2"/>
<circle cx="414.9" cy="251.9" r="2.7" fill="url(#pb)" stroke="#1d3d63" stroke-width="1.2"/>
<circle cx="421.1" cy="251.7" r="2.7" fill="url(#pb)" stroke="#1d3d63" stroke-width="1.2"/>
<circle cx="426.8" cy="250.9" r="2.7" fill="url(#pb)" stroke="#1d3d63" stroke-width="1.2"/>
<circle cx="432.8" cy="249.9" r="2.7" fill="url(#pb)" stroke="#1d3d63" stroke-width="1.2"/>
<circle cx="438.9" cy="249.7" r="2.7" fill="url(#pb)" stroke="#1d3d63" stroke-width="1.2"/>
<circle cx="444.3" cy="249.4" r="2.7" fill="url(#pb)" stroke="#1d3d63" stroke-width="1.2"/>
<circle cx="450.8" cy="249.1" r="2.7" fill="url(#pb)" stroke="#1d3d63" stroke-width="1.2"/>
<circle cx="456.8" cy="249.6" r="2.7" fill="url(#pb)" stroke="#1d3d63" stroke-width="1.2"/>
<circle cx="462.6" cy="249" r="2.7" fill="url(#pb)" stroke="#1d3d63" stroke-width="1.2"/>
<circle cx="468.5" cy="249.2" r="2.7" fill="url(#pb)" stroke="#1d3d63" stroke-width="1.2"/>
<circle cx="474.7" cy="249" r="2.7" fill="url(#pb)" stroke="#1d3d63" stroke-width="1.2"/>
<circle cx="480.6" cy="248.4" r="2.7" fill="url(#pb)" stroke="#1d3d63" stroke-width="1.2"/>
<circle cx="486.2" cy="248.5" r="2.7" fill="url(#pb)" stroke="#1d3d63" stroke-width="1.2"/>
<circle cx="492.6" cy="248.5" r="2.7" fill="url(#pb)" stroke="#1d3d63" stroke-width="1.2"/>
<circle cx="498.5" cy="248.3" r="2.7" fill="url(#pg)" stroke="#1d3d63" stroke-width="1.2"/>
<circle cx="504" cy="248.5" r="2.7" fill="url(#pb)" stroke="#1d3d63" stroke-width="1.2"/>
<circle cx="510.5" cy="249" r="2.7" fill="url(#pg)" stroke="#1d3d63" stroke-width="1.2"/>
<circle cx="516.5" cy="248.8" r="2.7" fill="url(#pb)" stroke="#1d3d63" stroke-width="1.2"/>
<circle cx="522.3" cy="249" r="2.7" fill="url(#pb)" stroke="#1d3d63" stroke-width="1.2"/>
<circle cx="528.3" cy="248.9" r="2.7" fill="url(#pb)" stroke="#1d3d63" stroke-width="1.2"/>
<circle cx="534.6" cy="249.1" r="2.7" fill="url(#pb)" stroke="#1d3d63" stroke-width="1.2"/>
<circle cx="540.6" cy="249.8" r="2.7" fill="url(#pb)" stroke="#1d3d63" stroke-width="1.2"/>
<circle cx="545.8" cy="249.7" r="2.7" fill="url(#pb)" stroke="#1d3d63" stroke-width="1.2"/>
<circle cx="552.4" cy="250.3" r="2.7" fill="url(#pb)" stroke="#1d3d63" stroke-width="1.2"/>
<circle cx="558.1" cy="250.1" r="2.7" fill="url(#pb)" stroke="#1d3d63" stroke-width="1.2"/>
<circle cx="563.9" cy="251" r="2.7" fill="url(#pb)" stroke="#1d3d63" stroke-width="1.2"/>
<circle cx="569.8" cy="251.2" r="2.7" fill="url(#pb)" stroke="#1d3d63" stroke-width="1.2"/>
<circle cx="575.7" cy="251.7" r="2.7" fill="url(#pb)" stroke="#1d3d63" stroke-width="1.2"/>
<circle cx="582.3" cy="252" r="2.7" fill="url(#pb)" stroke="#1d3d63" stroke-width="1.2"/>
<circle cx="588.1" cy="253.1" r="2.7" fill="url(#pg)" stroke="#1d3d63" stroke-width="1.2"/>
<circle cx="594.1" cy="254.1" r="2.7" fill="url(#pb)" stroke="#1d3d63" stroke-width="1.2"/>
<circle cx="599.5" cy="255.1" r="2.7" fill="url(#pb)" stroke="#1d3d63" stroke-width="1.2"/>
<circle cx="605.6" cy="255.4" r="2.7" fill="url(#pb)" stroke="#1d3d63" stroke-width="1.2"/>
<circle cx="611.1" cy="256.8" r="2.7" fill="url(#pb)" stroke="#1d3d63" stroke-width="1.2"/>
<circle cx="617.3" cy="257.9" r="2.7" fill="url(#pb)" stroke="#1d3d63" stroke-width="1.2"/>
<circle cx="622.9" cy="259.2" r="2.7" fill="url(#pb)" stroke="#1d3d63" stroke-width="1.2"/>
<circle cx="628.9" cy="261" r="2.7" fill="url(#pb)" stroke="#1d3d63" stroke-width="1.2"/>
<circle cx="634.4" cy="262.5" r="2.7" fill="url(#pb)" stroke="#1d3d63" stroke-width="1.2"/>
<circle cx="640.8" cy="263.7" r="2.7" fill="url(#pb)" stroke="#1d3d63" stroke-width="1.2"/>
<circle cx="646.5" cy="266.2" r="2.8" fill="url(#pg)" stroke="#1d3d63" stroke-width="1.2"/>
<circle cx="652.2" cy="268" r="2.8" fill="url(#pb)" stroke="#1d3d63" stroke-width="1.2"/>
<circle cx="657.5" cy="270.5" r="2.9" fill="url(#pb)" stroke="#1d3d63" stroke-width="1.2"/>
<circle cx="663.8" cy="273.3" r="2.9" fill="url(#pb)" stroke="#1d3d63" stroke-width="1.2"/>
<circle cx="669.1" cy="276" r="3" fill="url(#pb)" stroke="#1d3d63" stroke-width="1.2"/>
<circle cx="674.8" cy="278.8" r="3.1" fill="url(#pb)" stroke="#1d3d63" stroke-width="1.2"/>
<circle cx="680.5" cy="282.8" r="3.1" fill="url(#pb)" stroke="#1d3d63" stroke-width="1.2"/>
<circle cx="686.4" cy="286.8" r="3.2" fill="url(#pb)" stroke="#1d3d63" stroke-width="1.2"/>
<circle cx="692" cy="290.6" r="3.3" fill="url(#pg)" stroke="#1d3d63" stroke-width="1.2"/>
<circle cx="697.7" cy="295.5" r="3.4" fill="url(#pb)" stroke="#1d3d63" stroke-width="1.2"/>
<circle cx="702.9" cy="301.6" r="3.5" fill="url(#pg)" stroke="#1d3d63" stroke-width="1.2"/>
<circle cx="707.8" cy="307.8" r="3.6" fill="url(#pb)" stroke="#1d3d63" stroke-width="1.2"/>
<circle cx="709.6" cy="315.6" r="3.7" fill="url(#pb)" stroke="#1d3d63" stroke-width="1.2"/>
<circle cx="709.7" cy="323.5" r="3.7" fill="url(#pb)" stroke="#1d3d63" stroke-width="1.2"/>
<circle cx="709.5" cy="331.4" r="3.7" fill="url(#pb)" stroke="#1d3d63" stroke-width="1.2"/>
<circle cx="709.6" cy="340" r="3.7" fill="url(#pb)" stroke="#1d3d63" stroke-width="1.2"/>
<circle cx="709.6" cy="348.5" r="3.7" fill="url(#pb)" stroke="#1d3d63" stroke-width="1.2"/>
<circle cx="709.2" cy="356.3" r="3.7" fill="url(#pb)" stroke="#1d3d63" stroke-width="1.2"/>
<circle cx="709.7" cy="364.7" r="3.7" fill="url(#pb)" stroke="#1d3d63" stroke-width="1.2"/>
<circle cx="709.3" cy="373.1" r="3.7" fill="url(#pb)" stroke="#1d3d63" stroke-width="1.2"/>
<circle cx="709.2" cy="381.8" r="3.7" fill="url(#pb)" stroke="#1d3d63" stroke-width="1.2"/>
<circle cx="709.7" cy="389.7" r="3.7" fill="url(#pb)" stroke="#1d3d63" stroke-width="1.2"/>
<circle cx="709.5" cy="398" r="3.7" fill="url(#pb)" stroke="#1d3d63" stroke-width="1.2"/>
<circle cx="709.4" cy="406.4" r="3.7" fill="url(#pg)" stroke="#1d3d63" stroke-width="1.2"/>
<circle cx="709.1" cy="414.5" r="3.7" fill="url(#pg)" stroke="#1d3d63" stroke-width="1.2"/>
<circle cx="709.1" cy="423.4" r="3.7" fill="url(#pb)" stroke="#1d3d63" stroke-width="1.2"/>
<circle cx="709.3" cy="431.1" r="3.7" fill="url(#pb)" stroke="#1d3d63" stroke-width="1.2"/>
<circle cx="709.6" cy="440.1" r="3.7" fill="url(#pb)" stroke="#1d3d63" stroke-width="1.2"/>
<circle cx="709.3" cy="447.7" r="3.7" fill="url(#pb)" stroke="#1d3d63" stroke-width="1.2"/>
<circle cx="709.1" cy="455.9" r="3.7" fill="url(#pg)" stroke="#1d3d63" stroke-width="1.2"/>
<circle cx="709.2" cy="464.2" r="3.7" fill="url(#pb)" stroke="#1d3d63" stroke-width="1.2"/>
<circle cx="709.1" cy="472.7" r="3.7" fill="url(#pb)" stroke="#1d3d63" stroke-width="1.2"/>
<circle cx="709.4" cy="481.5" r="3.7" fill="url(#pb)" stroke="#1d3d63" stroke-width="1.2"/>
<circle cx="709.5" cy="489.4" r="3.7" fill="url(#pb)" stroke="#1d3d63" stroke-width="1.2"/>
<circle cx="709.2" cy="497.8" r="3.7" fill="url(#pb)" stroke="#1d3d63" stroke-width="1.2"/>
<circle cx="709.2" cy="505.9" r="3.7" fill="url(#pb)" stroke="#1d3d63" stroke-width="1.2"/>
<circle cx="708.9" cy="514.2" r="3.7" fill="url(#pb)" stroke="#1d3d63" stroke-width="1.2"/>
<circle cx="709.7" cy="522.4" r="3.7" fill="url(#pb)" stroke="#1d3d63" stroke-width="1.2"/>
<circle cx="709.3" cy="531.1" r="3.7" fill="url(#pb)" stroke="#1d3d63" stroke-width="1.2"/>
<circle cx="709.6" cy="539" r="3.7" fill="url(#pb)" stroke="#1d3d63" stroke-width="1.2"/>
<circle cx="709.1" cy="547.4" r="3.7" fill="url(#pg)" stroke="#1d3d63" stroke-width="1.2"/>
<circle cx="709.2" cy="555.8" r="3.7" fill="url(#pb)" stroke="#1d3d63" stroke-width="1.2"/>
<circle cx="709.7" cy="564.4" r="3.7" fill="url(#pb)" stroke="#1d3d63" stroke-width="1.2"/>
<circle cx="709" cy="571.7" r="3.7" fill="url(#pb)" stroke="#1d3d63" stroke-width="1.2"/>
<circle cx="701.2" cy="576.3" r="3.7" fill="url(#pb)" stroke="#1d3d63" stroke-width="1.2"/>
<circle cx="694.9" cy="580.2" r="3.6" fill="url(#pg)" stroke="#1d3d63" stroke-width="1.2"/>
<circle cx="687.9" cy="583.8" r="3.5" fill="url(#pg)" stroke="#1d3d63" stroke-width="1.2"/>
<circle cx="681.1" cy="588.5" r="3.4" fill="url(#pb)" stroke="#1d3d63" stroke-width="1.2"/>
<circle cx="675.1" cy="592.2" r="3.2" fill="url(#pb)" stroke="#1d3d63" stroke-width="1.2"/>
<circle cx="669" cy="595.4" r="3.1" fill="url(#pb)" stroke="#1d3d63" stroke-width="1.2"/>
<circle cx="662.3" cy="598.9" r="3" fill="url(#pb)" stroke="#1d3d63" stroke-width="1.2"/>
<circle cx="656.9" cy="602.7" r="3" fill="url(#pb)" stroke="#1d3d63" stroke-width="1.2"/>
<circle cx="651.6" cy="606.1" r="2.9" fill="url(#pb)" stroke="#1d3d63" stroke-width="1.2"/>
<circle cx="645.8" cy="609.4" r="2.8" fill="url(#pb)" stroke="#1d3d63" stroke-width="1.2"/>
<circle cx="640.3" cy="612.3" r="2.8" fill="url(#pb)" stroke="#1d3d63" stroke-width="1.2"/>
<circle cx="634.6" cy="615.6" r="2.7" fill="url(#pb)" stroke="#1d3d63" stroke-width="1.2"/>
<circle cx="629.5" cy="618.7" r="2.7" fill="url(#pg)" stroke="#1d3d63" stroke-width="1.2"/>
<circle cx="624.6" cy="621.2" r="2.7" fill="url(#pb)" stroke="#1d3d63" stroke-width="1.2"/>
<circle cx="619" cy="624.1" r="2.7" fill="url(#pg)" stroke="#1d3d63" stroke-width="1.2"/>
<circle cx="614.2" cy="627.4" r="2.7" fill="url(#pb)" stroke="#1d3d63" stroke-width="1.2"/>
<circle cx="608.6" cy="629.8" r="2.7" fill="url(#pg)" stroke="#1d3d63" stroke-width="1.2"/>
<circle cx="603.7" cy="633.2" r="2.7" fill="url(#pb)" stroke="#1d3d63" stroke-width="1.2"/>
<circle cx="598.5" cy="635.9" r="2.7" fill="url(#pb)" stroke="#1d3d63" stroke-width="1.2"/>
<circle cx="593.4" cy="638.7" r="2.7" fill="url(#pb)" stroke="#1d3d63" stroke-width="1.2"/>
<circle cx="588" cy="642.1" r="2.7" fill="url(#pb)" stroke="#1d3d63" stroke-width="1.2"/>
<circle cx="583.4" cy="645.2" r="2.7" fill="url(#pb)" stroke="#1d3d63" stroke-width="1.2"/>
<circle cx="578.2" cy="648.1" r="2.7" fill="url(#pb)" stroke="#1d3d63" stroke-width="1.2"/>
<circle cx="572.6" cy="651" r="2.7" fill="url(#pb)" stroke="#1d3d63" stroke-width="1.2"/>
<circle cx="568" cy="654.5" r="2.7" fill="url(#pb)" stroke="#1d3d63" stroke-width="1.2"/>
<circle cx="562.4" cy="657" r="2.7" fill="url(#pg)" stroke="#1d3d63" stroke-width="1.2"/>
<circle cx="557.5" cy="660.7" r="2.7" fill="url(#pb)" stroke="#1d3d63" stroke-width="1.2"/>
<circle cx="552.3" cy="663.5" r="2.7" fill="url(#pb)" stroke="#1d3d63" stroke-width="1.2"/>
<circle cx="547.4" cy="667.2" r="2.7" fill="url(#pb)" stroke="#1d3d63" stroke-width="1.2"/>
<circle cx="542" cy="669.6" r="2.7" fill="url(#pb)" stroke="#1d3d63" stroke-width="1.2"/>
<circle cx="537" cy="673.1" r="2.7" fill="url(#pb)" stroke="#1d3d63" stroke-width="1.2"/>
<circle cx="532.2" cy="676.1" r="2.7" fill="url(#pb)" stroke="#1d3d63" stroke-width="1.2"/>
<circle cx="527.2" cy="679.7" r="2.7" fill="url(#pg)" stroke="#1d3d63" stroke-width="1.2"/>
<circle cx="521.8" cy="682.4" r="2.8" fill="url(#pb)" stroke="#1d3d63" stroke-width="1.2"/>
<circle cx="517" cy="685.7" r="2.8" fill="url(#pb)" stroke="#1d3d63" stroke-width="1.2"/>
<circle cx="511.5" cy="688.5" r="2.8" fill="url(#pb)" stroke="#1d3d63" stroke-width="1.2"/>
<circle cx="504.7" cy="688.9" r="2.8" fill="url(#pb)" stroke="#1d3d63" stroke-width="1.2"/>
<circle cx="498.5" cy="689" r="2.8" fill="url(#pb)" stroke="#1d3d63" stroke-width="1.2"/>
<circle cx="492.4" cy="688.4" r="2.9" fill="url(#pb)" stroke="#1d3d63" stroke-width="1.2"/>
<circle cx="485.8" cy="688.6" r="2.9" fill="url(#pb)" stroke="#1d3d63" stroke-width="1.2"/>
<circle cx="479.8" cy="689" r="2.9" fill="url(#pb)" stroke="#1d3d63" stroke-width="1.2"/>
<circle cx="473" cy="688.6" r="2.9" fill="url(#pb)" stroke="#1d3d63" stroke-width="1.2"/>
<circle cx="466.7" cy="689" r="2.9" fill="url(#pb)" stroke="#1d3d63" stroke-width="1.2"/>
<circle cx="460.2" cy="688.3" r="2.9" fill="url(#pb)" stroke="#1d3d63" stroke-width="1.2"/>
<circle cx="453.8" cy="688.6" r="2.9" fill="url(#pb)" stroke="#1d3d63" stroke-width="1.2"/>
<circle cx="448.1" cy="688.9" r="2.9" fill="url(#pb)" stroke="#1d3d63" stroke-width="1.2"/>
<circle cx="442.3" cy="685.9" r="2.9" fill="url(#pb)" stroke="#1d3d63" stroke-width="1.2"/>
<circle cx="436.8" cy="682.2" r="2.9" fill="url(#pb)" stroke="#1d3d63" stroke-width="1.2"/>
<circle cx="430.6" cy="679.7" r="2.9" fill="url(#pb)" stroke="#1d3d63" stroke-width="1.2"/>
<circle cx="425.5" cy="676" r="2.9" fill="url(#pb)" stroke="#1d3d63" stroke-width="1.2"/>
<circle cx="419.9" cy="673.2" r="2.8" fill="url(#pb)" stroke="#1d3d63" stroke-width="1.2"/>
<circle cx="414.1" cy="670.2" r="2.8" fill="url(#pb)" stroke="#1d3d63" stroke-width="1.2"/>
<circle cx="408.4" cy="667" r="2.8" fill="url(#pb)" stroke="#1d3d63" stroke-width="1.2"/>
<circle cx="403" cy="664.3" r="2.8" fill="url(#pb)" stroke="#1d3d63" stroke-width="1.2"/>
<circle cx="398" cy="661.1" r="2.8" fill="url(#pb)" stroke="#1d3d63" stroke-width="1.2"/>
<circle cx="392.4" cy="658.2" r="2.9" fill="url(#pb)" stroke="#1d3d63" stroke-width="1.2"/>
<circle cx="386.4" cy="655.7" r="2.9" fill="url(#pb)" stroke="#1d3d63" stroke-width="1.2"/>
<circle cx="381.1" cy="652.4" r="2.9" fill="url(#pb)" stroke="#1d3d63" stroke-width="1.2"/>
<circle cx="374.8" cy="649.3" r="3" fill="url(#pb)" stroke="#1d3d63" stroke-width="1.2"/>
<circle cx="369.3" cy="646.6" r="3" fill="url(#pb)" stroke="#1d3d63" stroke-width="1.2"/>
<circle cx="363.4" cy="643" r="3" fill="url(#pb)" stroke="#1d3d63" stroke-width="1.2"/>
<circle cx="358" cy="639.6" r="3.1" fill="url(#pb)" stroke="#1d3d63" stroke-width="1.2"/>
<circle cx="351.6" cy="637" r="3.1" fill="url(#pb)" stroke="#1d3d63" stroke-width="1.2"/>
<circle cx="345.8" cy="633.1" r="3.2" fill="url(#pb)" stroke="#1d3d63" stroke-width="1.2"/>
<circle cx="339" cy="629.7" r="3.3" fill="url(#pb)" stroke="#1d3d63" stroke-width="1.2"/>
<circle cx="333.3" cy="626.4" r="3.3" fill="url(#pb)" stroke="#1d3d63" stroke-width="1.2"/>
<circle cx="326.7" cy="623.4" r="3.4" fill="url(#pb)" stroke="#1d3d63" stroke-width="1.2"/>
<circle cx="319.7" cy="619.3" r="3.5" fill="url(#pb)" stroke="#1d3d63" stroke-width="1.2"/>
<circle cx="313.3" cy="616" r="3.6" fill="url(#pg)" stroke="#1d3d63" stroke-width="1.2"/>
<circle cx="305.7" cy="612.3" r="3.7" fill="url(#pb)" stroke="#1d3d63" stroke-width="1.2"/>
<circle cx="298.5" cy="608.2" r="3.7" fill="url(#pb)" stroke="#1d3d63" stroke-width="1.2"/>
<circle cx="290.9" cy="604.9" r="3.7" fill="url(#pg)" stroke="#1d3d63" stroke-width="1.2"/>
<circle cx="290.5" cy="597.2" r="3.7" fill="url(#pb)" stroke="#1d3d63" stroke-width="1.2"/>
<circle cx="290.5" cy="588.4" r="3.7" fill="url(#pg)" stroke="#1d3d63" stroke-width="1.2"/>
<circle cx="290" cy="580.5" r="3.7" fill="url(#pb)" stroke="#1d3d63" stroke-width="1.2"/>
<circle cx="290.6" cy="572.6" r="3.7" fill="url(#pb)" stroke="#1d3d63" stroke-width="1.2"/>
<circle cx="290.2" cy="563.7" r="3.7" fill="url(#pg)" stroke="#1d3d63" stroke-width="1.2"/>
<circle cx="290.3" cy="555.6" r="3.7" fill="url(#pb)" stroke="#1d3d63" stroke-width="1.2"/>
<circle cx="290.7" cy="547" r="3.7" fill="url(#pg)" stroke="#1d3d63" stroke-width="1.2"/>
<circle cx="290.6" cy="539.2" r="3.7" fill="url(#pb)" stroke="#1d3d63" stroke-width="1.2"/>
<circle cx="290.7" cy="530.9" r="3.7" fill="url(#pb)" stroke="#1d3d63" stroke-width="1.2"/>
<circle cx="290.5" cy="522.3" r="3.7" fill="url(#pb)" stroke="#1d3d63" stroke-width="1.2"/>
<circle cx="290.3" cy="514" r="3.7" fill="url(#pb)" stroke="#1d3d63" stroke-width="1.2"/>
<circle cx="290.7" cy="505.5" r="3.7" fill="url(#pb)" stroke="#1d3d63" stroke-width="1.2"/>
<circle cx="290.2" cy="497.7" r="3.7" fill="url(#pb)" stroke="#1d3d63" stroke-width="1.2"/>
<circle cx="290.3" cy="488.8" r="3.7" fill="url(#pg)" stroke="#1d3d63" stroke-width="1.2"/>
<circle cx="290.2" cy="480.9" r="3.7" fill="url(#pb)" stroke="#1d3d63" stroke-width="1.2"/>
<circle cx="290.4" cy="473" r="3.7" fill="url(#pb)" stroke="#1d3d63" stroke-width="1.2"/>
<circle cx="290.9" cy="464.7" r="3.7" fill="url(#pb)" stroke="#1d3d63" stroke-width="1.2"/>
<circle cx="290.4" cy="455.7" r="3.7" fill="url(#pb)" stroke="#1d3d63" stroke-width="1.2"/>
<circle cx="290.3" cy="447.7" r="3.7" fill="url(#pb)" stroke="#1d3d63" stroke-width="1.2"/>
<circle cx="290.8" cy="439.4" r="3.7" fill="url(#pb)" stroke="#1d3d63" stroke-width="1.2"/>
<circle cx="290.4" cy="431" r="3.7" fill="url(#pb)" stroke="#1d3d63" stroke-width="1.2"/>
<circle cx="290.7" cy="422.9" r="3.7" fill="url(#pb)" stroke="#1d3d63" stroke-width="1.2"/>
<circle cx="290.8" cy="414.8" r="3.7" fill="url(#pb)" stroke="#1d3d63" stroke-width="1.2"/>
<circle cx="290.7" cy="405.9" r="3.7" fill="url(#pg)" stroke="#1d3d63" stroke-width="1.2"/>
<circle cx="290.9" cy="397.7" r="3.7" fill="url(#pg)" stroke="#1d3d63" stroke-width="1.2"/>
<circle cx="290.7" cy="389.5" r="3.7" fill="url(#pb)" stroke="#1d3d63" stroke-width="1.2"/>
<circle cx="290.8" cy="381.1" r="3.7" fill="url(#pb)" stroke="#1d3d63" stroke-width="1.2"/>
<circle cx="290.4" cy="372.8" r="3.7" fill="url(#pb)" stroke="#1d3d63" stroke-width="1.2"/>
<circle cx="290.3" cy="365" r="3.7" fill="url(#pb)" stroke="#1d3d63" stroke-width="1.2"/>
<circle cx="290.6" cy="356.3" r="3.7" fill="url(#pg)" stroke="#1d3d63" stroke-width="1.2"/>
<circle cx="290.5" cy="348.5" r="3.7" fill="url(#pb)" stroke="#1d3d63" stroke-width="1.2"/>
<circle cx="290.6" cy="339.6" r="3.7" fill="url(#pb)" stroke="#1d3d63" stroke-width="1.2"/>
<circle cx="290.8" cy="331.6" r="3.7" fill="url(#pb)" stroke="#1d3d63" stroke-width="1.2"/>
<circle cx="290.9" cy="322.9" r="3.7" fill="url(#pb)" stroke="#1d3d63" stroke-width="1.2"/>
<circle cx="297.6" cy="316.4" r="3.7" fill="url(#pb)" stroke="#1d3d63" stroke-width="1.2"/>
<circle cx="299.8" cy="308.4" r="3.7" fill="url(#pb)" stroke="#1d3d63" stroke-width="1.2"/>
<circle cx="303.1" cy="300.8" r="3.6" fill="url(#pg)" stroke="#1d3d63" stroke-width="1.2"/>
<circle cx="308.5" cy="294.7" r="3.5" fill="url(#pb)" stroke="#1d3d63" stroke-width="1.2"/>
<circle cx="315.2" cy="290" r="3.5" fill="url(#pb)" stroke="#1d3d63" stroke-width="1.2"/>
<circle cx="321.5" cy="285.6" r="3.4" fill="url(#pg)" stroke="#1d3d63" stroke-width="1.2"/>
<circle cx="328" cy="282" r="3.3" fill="url(#pb)" stroke="#1d3d63" stroke-width="1.2"/>
<circle cx="334.1" cy="279" r="3.2" fill="url(#pb)" stroke="#1d3d63" stroke-width="1.2"/>
<circle cx="341.1" cy="275.5" r="3.2" fill="url(#pb)" stroke="#1d3d63" stroke-width="1.2"/>
<circle cx="347.4" cy="273.2" r="3.1" fill="url(#pb)" stroke="#1d3d63" stroke-width="1.2"/>
<circle cx="353.5" cy="270.6" r="3" fill="url(#pb)" stroke="#1d3d63" stroke-width="1.2"/>
<circle cx="359.7" cy="268.2" r="3" fill="url(#pb)" stroke="#1d3d63" stroke-width="1.2"/>
<circle cx="366" cy="266.3" r="2.9" fill="url(#pg)" stroke="#1d3d63" stroke-width="1.2"/>
<circle cx="372.4" cy="264.2" r="2.8" fill="url(#pb)" stroke="#1d3d63" stroke-width="1.2"/>
<circle cx="378" cy="262.8" r="2.8" fill="url(#pb)" stroke="#1d3d63" stroke-width="1.2"/>
<circle cx="384.5" cy="261.3" r="2.7" fill="url(#pb)" stroke="#1d3d63" stroke-width="1.2"/>
<circle cx="390.1" cy="260.1" r="2.7" fill="url(#pb)" stroke="#1d3d63" stroke-width="1.2"/>
<circle cx="396.4" cy="259.4" r="2.7" fill="url(#pb)" stroke="#1d3d63" stroke-width="1.2"/>
<circle cx="401.7" cy="258.1" r="2.7" fill="url(#pg)" stroke="#1d3d63" stroke-width="1.2"/>
<circle cx="407.9" cy="257.5" r="2.7" fill="url(#pg)" stroke="#1d3d63" stroke-width="1.2"/>
<circle cx="414" cy="256.4" r="2.7" fill="url(#pb)" stroke="#1d3d63" stroke-width="1.2"/>
<circle cx="419.6" cy="256.1" r="2.7" fill="url(#pb)" stroke="#1d3d63" stroke-width="1.2"/>
<circle cx="425.7" cy="255.1" r="2.7" fill="url(#pb)" stroke="#1d3d63" stroke-width="1.2"/>
<circle cx="431.6" cy="255.2" r="2.7" fill="url(#pb)" stroke="#1d3d63" stroke-width="1.2"/>
<circle cx="437.6" cy="254.5" r="2.7" fill="url(#pb)" stroke="#1d3d63" stroke-width="1.2"/>
<circle cx="443.6" cy="254.1" r="2.7" fill="url(#pb)" stroke="#1d3d63" stroke-width="1.2"/>
<circle cx="449.9" cy="254.4" r="2.7" fill="url(#pb)" stroke="#1d3d63" stroke-width="1.2"/>
<circle cx="455.5" cy="253.7" r="2.7" fill="url(#pb)" stroke="#1d3d63" stroke-width="1.2"/>
<circle cx="461.8" cy="253.7" r="2.7" fill="url(#pb)" stroke="#1d3d63" stroke-width="1.2"/>
<circle cx="467.2" cy="254.3" r="2.7" fill="url(#pb)" stroke="#1d3d63" stroke-width="1.2"/>
<circle cx="473.5" cy="254.2" r="2.7" fill="url(#pb)" stroke="#1d3d63" stroke-width="1.2"/>
<circle cx="479.5" cy="254.2" r="2.7" fill="url(#pb)" stroke="#1d3d63" stroke-width="1.2"/>
<circle cx="485.5" cy="253.6" r="2.7" fill="url(#pg)" stroke="#1d3d63" stroke-width="1.2"/>
<circle cx="491.1" cy="253.9" r="2.7" fill="url(#pb)" stroke="#1d3d63" stroke-width="1.2"/>
<circle cx="497.6" cy="254.2" r="2.7" fill="url(#pb)" stroke="#1d3d63" stroke-width="1.2"/>
<circle cx="503.1" cy="254.1" r="2.7" fill="url(#pb)" stroke="#1d3d63" stroke-width="1.2"/>
<circle cx="509.3" cy="254.1" r="2.7" fill="url(#pb)" stroke="#1d3d63" stroke-width="1.2"/>
<circle cx="515.1" cy="254" r="2.7" fill="url(#pg)" stroke="#1d3d63" stroke-width="1.2"/>
<circle cx="521.4" cy="254.6" r="2.7" fill="url(#pb)" stroke="#1d3d63" stroke-width="1.2"/>
<circle cx="527" cy="254.3" r="2.7" fill="url(#pb)" stroke="#1d3d63" stroke-width="1.2"/>
<circle cx="533.6" cy="254.7" r="2.7" fill="url(#pb)" stroke="#1d3d63" stroke-width="1.2"/>
<circle cx="539.1" cy="254.1" r="2.7" fill="url(#pb)" stroke="#1d3d63" stroke-width="1.2"/>
<circle cx="545.6" cy="254.9" r="2.7" fill="url(#pb)" stroke="#1d3d63" stroke-width="1.2"/>
<circle cx="551.2" cy="254.3" r="2.7" fill="url(#pb)" stroke="#1d3d63" stroke-width="1.2"/>
<circle cx="557.6" cy="254.8" r="2.7" fill="url(#pb)" stroke="#1d3d63" stroke-width="1.2"/>
<circle cx="563.5" cy="255.2" r="2.7" fill="url(#pb)" stroke="#1d3d63" stroke-width="1.2"/>
<circle cx="569.4" cy="255.2" r="2.7" fill="url(#pb)" stroke="#1d3d63" stroke-width="1.2"/>
<circle cx="575.3" cy="255.7" r="2.7" fill="url(#pb)" stroke="#1d3d63" stroke-width="1.2"/>
<circle cx="581" cy="256.8" r="2.7" fill="url(#pb)" stroke="#1d3d63" stroke-width="1.2"/>
<circle cx="587.3" cy="256.9" r="2.7" fill="url(#pb)" stroke="#1d3d63" stroke-width="1.2"/>
<circle cx="592.7" cy="257.8" r="2.7" fill="url(#pb)" stroke="#1d3d63" stroke-width="1.2"/>
<circle cx="598.9" cy="258.6" r="2.7" fill="url(#pb)" stroke="#1d3d63" stroke-width="1.2"/>
<circle cx="604.5" cy="259.4" r="2.7" fill="url(#pb)" stroke="#1d3d63" stroke-width="1.2"/>
<circle cx="610.8" cy="260.9" r="2.7" fill="url(#pb)" stroke="#1d3d63" stroke-width="1.2"/>
<circle cx="616.2" cy="261.7" r="2.7" fill="url(#pb)" stroke="#1d3d63" stroke-width="1.2"/>
<circle cx="622.6" cy="262.6" r="2.7" fill="url(#pb)" stroke="#1d3d63" stroke-width="1.2"/>
<circle cx="628.4" cy="264" r="2.7" fill="url(#pg)" stroke="#1d3d63" stroke-width="1.2"/>
<circle cx="634" cy="266" r="2.7" fill="url(#pg)" stroke="#1d3d63" stroke-width="1.2"/>
<circle cx="639.8" cy="267.6" r="2.8" fill="url(#pb)" stroke="#1d3d63" stroke-width="1.2"/>
<circle cx="645.3" cy="269.9" r="2.8" fill="url(#pb)" stroke="#1d3d63" stroke-width="1.2"/>
<circle cx="651.1" cy="272.3" r="2.8" fill="url(#pg)" stroke="#1d3d63" stroke-width="1.2"/>
<circle cx="656.8" cy="274.6" r="2.9" fill="url(#pb)" stroke="#1d3d63" stroke-width="1.2"/>
<circle cx="662.3" cy="277.6" r="3" fill="url(#pb)" stroke="#1d3d63" stroke-width="1.2"/>
<circle cx="668.5" cy="280.3" r="3" fill="url(#pb)" stroke="#1d3d63" stroke-width="1.2"/>
<circle cx="674.6" cy="284.1" r="3.1" fill="url(#pb)" stroke="#1d3d63" stroke-width="1.2"/>
<circle cx="680.1" cy="287.4" r="3.2" fill="url(#pb)" stroke="#1d3d63" stroke-width="1.2"/>
<circle cx="685.7" cy="291.8" r="3.3" fill="url(#pb)" stroke="#1d3d63" stroke-width="1.2"/>
<circle cx="690.8" cy="297" r="3.4" fill="url(#pb)" stroke="#1d3d63" stroke-width="1.2"/>
<circle cx="696" cy="302.5" r="3.5" fill="url(#pg)" stroke="#1d3d63" stroke-width="1.2"/>
<circle cx="700.7" cy="308.7" r="3.7" fill="url(#pb)" stroke="#1d3d63" stroke-width="1.2"/>
<circle cx="702.4" cy="316.5" r="3.7" fill="url(#pb)" stroke="#1d3d63" stroke-width="1.2"/>
<circle cx="702.3" cy="325.3" r="3.7" fill="url(#pg)" stroke="#1d3d63" stroke-width="1.2"/>
<circle cx="702.1" cy="333" r="3.7" fill="url(#pb)" stroke="#1d3d63" stroke-width="1.2"/>
<circle cx="702.1" cy="341.6" r="3.7" fill="url(#pb)" stroke="#1d3d63" stroke-width="1.2"/>
<circle cx="702.5" cy="349.7" r="3.7" fill="url(#pb)" stroke="#1d3d63" stroke-width="1.2"/>
<circle cx="702.4" cy="358.7" r="3.7" fill="url(#pb)" stroke="#1d3d63" stroke-width="1.2"/>
<circle cx="702.3" cy="366.9" r="3.7" fill="url(#pb)" stroke="#1d3d63" stroke-width="1.2"/>
<circle cx="701.8" cy="375.3" r="3.7" fill="url(#pb)" stroke="#1d3d63" stroke-width="1.2"/>
<circle cx="702.1" cy="383.6" r="3.7" fill="url(#pb)" stroke="#1d3d63" stroke-width="1.2"/>
<circle cx="702.4" cy="391.2" r="3.7" fill="url(#pb)" stroke="#1d3d63" stroke-width="1.2"/>
<circle cx="702.3" cy="400.1" r="3.7" fill="url(#pb)" stroke="#1d3d63" stroke-width="1.2"/>
<circle cx="701.7" cy="408" r="3.7" fill="url(#pb)" stroke="#1d3d63" stroke-width="1.2"/>
<circle cx="702.2" cy="416.1" r="3.7" fill="url(#pb)" stroke="#1d3d63" stroke-width="1.2"/>
<circle cx="702.3" cy="424.5" r="3.7" fill="url(#pb)" stroke="#1d3d63" stroke-width="1.2"/>
<circle cx="702.3" cy="432.7" r="3.7" fill="url(#pb)" stroke="#1d3d63" stroke-width="1.2"/>
<circle cx="702" cy="441.6" r="3.7" fill="url(#pg)" stroke="#1d3d63" stroke-width="1.2"/>
<circle cx="701.8" cy="449.4" r="3.7" fill="url(#pb)" stroke="#1d3d63" stroke-width="1.2"/>
<circle cx="702" cy="457.8" r="3.7" fill="url(#pb)" stroke="#1d3d63" stroke-width="1.2"/>
<circle cx="701.6" cy="466" r="3.7" fill="url(#pb)" stroke="#1d3d63" stroke-width="1.2"/>
<circle cx="701.7" cy="474.9" r="3.7" fill="url(#pb)" stroke="#1d3d63" stroke-width="1.2"/>
<circle cx="702.1" cy="483.1" r="3.7" fill="url(#pb)" stroke="#1d3d63" stroke-width="1.2"/>
<circle cx="701.7" cy="491.3" r="3.7" fill="url(#pb)" stroke="#1d3d63" stroke-width="1.2"/>
<circle cx="701.7" cy="499.4" r="3.7" fill="url(#pb)" stroke="#1d3d63" stroke-width="1.2"/>
<circle cx="702.1" cy="507.6" r="3.7" fill="url(#pb)" stroke="#1d3d63" stroke-width="1.2"/>
<circle cx="702.3" cy="516" r="3.7" fill="url(#pb)" stroke="#1d3d63" stroke-width="1.2"/>
<circle cx="702.1" cy="524.6" r="3.7" fill="url(#pg)" stroke="#1d3d63" stroke-width="1.2"/>
<circle cx="701.7" cy="533" r="3.7" fill="url(#pb)" stroke="#1d3d63" stroke-width="1.2"/>
<circle cx="702.1" cy="540.8" r="3.7" fill="url(#pb)" stroke="#1d3d63" stroke-width="1.2"/>
<circle cx="702.2" cy="549" r="3.7" fill="url(#pb)" stroke="#1d3d63" stroke-width="1.2"/>
<circle cx="702.4" cy="557.6" r="3.7" fill="url(#pb)" stroke="#1d3d63" stroke-width="1.2"/>
<circle cx="702" cy="566" r="3.7" fill="url(#pb)" stroke="#1d3d63" stroke-width="1.2"/>
<circle cx="699.8" cy="572.4" r="3.7" fill="url(#pb)" stroke="#1d3d63" stroke-width="1.2"/>
<circle cx="692.9" cy="576.3" r="3.6" fill="url(#pb)" stroke="#1d3d63" stroke-width="1.2"/>
<circle cx="686" cy="580.5" r="3.6" fill="url(#pb)" stroke="#1d3d63" stroke-width="1.2"/>
<circle cx="679" cy="585.1" r="3.4" fill="url(#pb)" stroke="#1d3d63" stroke-width="1.2"/>
<circle cx="672.5" cy="588.6" r="3.3" fill="url(#pb)" stroke="#1d3d63" stroke-width="1.2"/>
<circle cx="666" cy="591.8" r="3.2" fill="url(#pb)" stroke="#1d3d63" stroke-width="1.2"/>
<circle cx="659.7" cy="595.5" r="3.1" fill="url(#pg)" stroke="#1d3d63" stroke-width="1.2"/>
<circle cx="654.2" cy="599.2" r="3" fill="url(#pb)" stroke="#1d3d63" stroke-width="1.2"/>
<circle cx="648.4" cy="602.9" r="2.9" fill="url(#pb)" stroke="#1d3d63" stroke-width="1.2"/>
<circle cx="642.5" cy="605.7" r="2.9" fill="url(#pb)" stroke="#1d3d63" stroke-width="1.2"/>
<circle cx="637.5" cy="608.6" r="2.8" fill="url(#pb)" stroke="#1d3d63" stroke-width="1.2"/>
<circle cx="631.6" cy="611.9" r="2.7" fill="url(#pg)" stroke="#1d3d63" stroke-width="1.2"/>
<circle cx="626.4" cy="614.9" r="2.7" fill="url(#pb)" stroke="#1d3d63" stroke-width="1.2"/>
<circle cx="621.2" cy="618" r="2.7" fill="url(#pb)" stroke="#1d3d63" stroke-width="1.2"/>
<circle cx="616.2" cy="620.5" r="2.7" fill="url(#pb)" stroke="#1d3d63" stroke-width="1.2"/>
<circle cx="611" cy="623.5" r="2.7" fill="url(#pb)" stroke="#1d3d63" stroke-width="1.2"/>
<circle cx="605.3" cy="626.8" r="2.7" fill="url(#pb)" stroke="#1d3d63" stroke-width="1.2"/>
<circle cx="600.2" cy="629" r="2.7" fill="url(#pb)" stroke="#1d3d63" stroke-width="1.2"/>
<circle cx="594.8" cy="632.3" r="2.7" fill="url(#pb)" stroke="#1d3d63" stroke-width="1.2"/>
<circle cx="590.2" cy="635.4" r="2.7" fill="url(#pb)" stroke="#1d3d63" stroke-width="1.2"/>
<circle cx="584.7" cy="637.9" r="2.7" fill="url(#pb)" stroke="#1d3d63" stroke-width="1.2"/>
<circle cx="579.2" cy="641.2" r="2.7" fill="url(#pb)" stroke="#1d3d63" stroke-width="1.2"/>
<circle cx="574.5" cy="644" r="2.7" fill="url(#pg)" stroke="#1d3d63" stroke-width="1.2"/>
<circle cx="569.4" cy="647.1" r="2.7" fill="url(#pb)" stroke="#1d3d63" stroke-width="1.2"/>
<circle cx="564.5" cy="650.5" r="2.7" fill="url(#pb)" stroke="#1d3d63" stroke-width="1.2"/>
<circle cx="558.9" cy="653.8" r="2.7" fill="url(#pb)" stroke="#1d3d63" stroke-width="1.2"/>
<circle cx="553.7" cy="656.6" r="2.7" fill="url(#pb)" stroke="#1d3d63" stroke-width="1.2"/>
<circle cx="548.9" cy="659.6" r="2.7" fill="url(#pb)" stroke="#1d3d63" stroke-width="1.2"/>
<circle cx="543.6" cy="663.2" r="2.7" fill="url(#pb)" stroke="#1d3d63" stroke-width="1.2"/>
<circle cx="538.5" cy="666.3" r="2.7" fill="url(#pb)" stroke="#1d3d63" stroke-width="1.2"/>
<circle cx="534.2" cy="669.2" r="2.7" fill="url(#pb)" stroke="#1d3d63" stroke-width="1.2"/>
<circle cx="528.6" cy="672.7" r="2.7" fill="url(#pb)" stroke="#1d3d63" stroke-width="1.2"/>
<circle cx="523.7" cy="676" r="2.7" fill="url(#pb)" stroke="#1d3d63" stroke-width="1.2"/>
<circle cx="518.8" cy="678.8" r="2.8" fill="url(#pb)" stroke="#1d3d63" stroke-width="1.2"/>
<circle cx="513.2" cy="682.2" r="2.8" fill="url(#pb)" stroke="#1d3d63" stroke-width="1.2"/>
<circle cx="507" cy="683.5" r="2.8" fill="url(#pb)" stroke="#1d3d63" stroke-width="1.2"/>
<circle cx="501.3" cy="683.3" r="2.8" fill="url(#pb)" stroke="#1d3d63" stroke-width="1.2"/>
<circle cx="494.4" cy="683.4" r="2.9" fill="url(#pb)" stroke="#1d3d63" stroke-width="1.2"/>
<circle cx="488.6" cy="683" r="2.9" fill="url(#pb)" stroke="#1d3d63" stroke-width="1.2"/>
<circle cx="482.3" cy="683" r="2.9" fill="url(#pb)" stroke="#1d3d63" stroke-width="1.2"/>
<circle cx="475.5" cy="682.8" r="2.9" fill="url(#pb)" stroke="#1d3d63" stroke-width="1.2"/>
<circle cx="469.1" cy="682.7" r="2.9" fill="url(#pg)" stroke="#1d3d63" stroke-width="1.2"/>
<circle cx="462.8" cy="683.3" r="2.9" fill="url(#pg)" stroke="#1d3d63" stroke-width="1.2"/>
<circle cx="456.7" cy="683.5" r="2.9" fill="url(#pb)" stroke="#1d3d63" stroke-width="1.2"/>
<circle cx="450.3" cy="683" r="2.9" fill="url(#pb)" stroke="#1d3d63" stroke-width="1.2"/>
<circle cx="444.5" cy="680.4" r="2.9" fill="url(#pb)" stroke="#1d3d63" stroke-width="1.2"/>
<circle cx="439" cy="677.4" r="2.9" fill="url(#pb)" stroke="#1d3d63" stroke-width="1.2"/>
<circle cx="433" cy="674.4" r="2.9" fill="url(#pb)" stroke="#1d3d63" stroke-width="1.2"/>
<circle cx="427.9" cy="671.1" r="2.9" fill="url(#pb)" stroke="#1d3d63" stroke-width="1.2"/>
<circle cx="422.3" cy="667.9" r="2.8" fill="url(#pb)" stroke="#1d3d63" stroke-width="1.2"/>
<circle cx="416.3" cy="665.1" r="2.8" fill="url(#pb)" stroke="#1d3d63" stroke-width="1.2"/>
<circle cx="411.1" cy="662.7" r="2.8" fill="url(#pb)" stroke="#1d3d63" stroke-width="1.2"/>
<circle cx="405.6" cy="659.2" r="2.8" fill="url(#pb)" stroke="#1d3d63" stroke-width="1.2"/>
<circle cx="400.2" cy="656.3" r="2.8" fill="url(#pb)" stroke="#1d3d63" stroke-width="1.2"/>
<circle cx="394.1" cy="653.8" r="2.9" fill="url(#pb)" stroke="#1d3d63" stroke-width="1.2"/>
<circle cx="388.8" cy="650.6" r="2.9" fill="url(#pb)" stroke="#1d3d63" stroke-width="1.2"/>
<circle cx="383.2" cy="647.8" r="2.9" fill="url(#pb)" stroke="#1d3d63" stroke-width="1.2"/>
<circle cx="377.4" cy="644.6" r="3" fill="url(#pb)" stroke="#1d3d63" stroke-width="1.2"/>
<circle cx="371.8" cy="641.5" r="3" fill="url(#pb)" stroke="#1d3d63" stroke-width="1.2"/>
<circle cx="365.7" cy="638.2" r="3" fill="url(#pb)" stroke="#1d3d63" stroke-width="1.2"/>
<circle cx="359.9" cy="634.7" r="3.1" fill="url(#pg)" stroke="#1d3d63" stroke-width="1.2"/>
<circle cx="353.5" cy="631.7" r="3.2" fill="url(#pb)" stroke="#1d3d63" stroke-width="1.2"/>
<circle cx="347.2" cy="628.6" r="3.2" fill="url(#pb)" stroke="#1d3d63" stroke-width="1.2"/>
<circle cx="341" cy="624.5" r="3.3" fill="url(#pb)" stroke="#1d3d63" stroke-width="1.2"/>
<circle cx="334.5" cy="621.8" r="3.4" fill="url(#pb)" stroke="#1d3d63" stroke-width="1.2"/>
<circle cx="328" cy="617.6" r="3.5" fill="url(#pb)" stroke="#1d3d63" stroke-width="1.2"/>
<circle cx="321" cy="613.8" r="3.6" fill="url(#pb)" stroke="#1d3d63" stroke-width="1.2"/>
<circle cx="314.5" cy="610.6" r="3.7" fill="url(#pb)" stroke="#1d3d63" stroke-width="1.2"/>
<circle cx="307.3" cy="607" r="3.7" fill="url(#pb)" stroke="#1d3d63" stroke-width="1.2"/>
<circle cx="299.4" cy="603.3" r="3.7" fill="url(#pb)" stroke="#1d3d63" stroke-width="1.2"/>
<circle cx="297.1" cy="596.8" r="3.7" fill="url(#pb)" stroke="#1d3d63" stroke-width="1.2"/>
<circle cx="297.5" cy="588.6" r="3.7" fill="url(#pb)" stroke="#1d3d63" stroke-width="1.2"/>
<circle cx="296.9" cy="580.3" r="3.7" fill="url(#pb)" stroke="#1d3d63" stroke-width="1.2"/>
<circle cx="297.7" cy="572" r="3.7" fill="url(#pb)" stroke="#1d3d63" stroke-width="1.2"/>
<circle cx="297.1" cy="563.1" r="3.7" fill="url(#pb)" stroke="#1d3d63" stroke-width="1.2"/>
<circle cx="297.1" cy="554.7" r="3.7" fill="url(#pb)" stroke="#1d3d63" stroke-width="1.2"/>
<circle cx="297.8" cy="547" r="3.7" fill="url(#pb)" stroke="#1d3d63" stroke-width="1.2"/>
<circle cx="297.6" cy="538.7" r="3.7" fill="url(#pb)" stroke="#1d3d63" stroke-width="1.2"/>
<circle cx="297.7" cy="530" r="3.7" fill="url(#pb)" stroke="#1d3d63" stroke-width="1.2"/>
<circle cx="297.3" cy="521.6" r="3.7" fill="url(#pb)" stroke="#1d3d63" stroke-width="1.2"/>
<circle cx="297.9" cy="513.3" r="3.7" fill="url(#pb)" stroke="#1d3d63" stroke-width="1.2"/>
<circle cx="297.5" cy="505.2" r="3.7" fill="url(#pb)" stroke="#1d3d63" stroke-width="1.2"/>
<circle cx="297.3" cy="496.8" r="3.7" fill="url(#pb)" stroke="#1d3d63" stroke-width="1.2"/>
<circle cx="297.6" cy="488.9" r="3.7" fill="url(#pb)" stroke="#1d3d63" stroke-width="1.2"/>
<circle cx="297.7" cy="480.2" r="3.7" fill="url(#pb)" stroke="#1d3d63" stroke-width="1.2"/>
<circle cx="298.2" cy="472.1" r="3.7" fill="url(#pb)" stroke="#1d3d63" stroke-width="1.2"/>
<circle cx="298.1" cy="463.9" r="3.7" fill="url(#pb)" stroke="#1d3d63" stroke-width="1.2"/>
<circle cx="297.5" cy="455.4" r="3.7" fill="url(#pb)" stroke="#1d3d63" stroke-width="1.2"/>
<circle cx="297.8" cy="447.4" r="3.7" fill="url(#pb)" stroke="#1d3d63" stroke-width="1.2"/>
<circle cx="297.7" cy="439" r="3.7" fill="url(#pb)" stroke="#1d3d63" stroke-width="1.2"/>
<circle cx="297.9" cy="430.4" r="3.7" fill="url(#pb)" stroke="#1d3d63" stroke-width="1.2"/>
<circle cx="298.2" cy="422" r="3.7" fill="url(#pb)" stroke="#1d3d63" stroke-width="1.2"/>
<circle cx="298.2" cy="413.7" r="3.7" fill="url(#pb)" stroke="#1d3d63" stroke-width="1.2"/>
<circle cx="297.5" cy="405.4" r="3.7" fill="url(#pb)" stroke="#1d3d63" stroke-width="1.2"/>
<circle cx="298.1" cy="397.8" r="3.7" fill="url(#pb)" stroke="#1d3d63" stroke-width="1.2"/>
<circle cx="297.5" cy="389.1" r="3.7" fill="url(#pb)" stroke="#1d3d63" stroke-width="1.2"/>
<circle cx="297.9" cy="381" r="3.7" fill="url(#pb)" stroke="#1d3d63" stroke-width="1.2"/>
<circle cx="297.6" cy="372.5" r="3.7" fill="url(#pb)" stroke="#1d3d63" stroke-width="1.2"/>
<circle cx="297.7" cy="364.4" r="3.7" fill="url(#pb)" stroke="#1d3d63" stroke-width="1.2"/>
<circle cx="297.7" cy="356.2" r="3.7" fill="url(#pb)" stroke="#1d3d63" stroke-width="1.2"/>
<circle cx="297.7" cy="347.4" r="3.7" fill="url(#pb)" stroke="#1d3d63" stroke-width="1.2"/>
<circle cx="298" cy="339.3" r="3.7" fill="url(#pb)" stroke="#1d3d63" stroke-width="1.2"/>
<circle cx="297.5" cy="331.1" r="3.7" fill="url(#pb)" stroke="#1d3d63" stroke-width="1.2"/>
<circle cx="297.4" cy="322.9" r="3.7" fill="url(#pg)" stroke="#1d3d63" stroke-width="1.2"/>
<circle cx="305.6" cy="313.8" r="3.7" fill="url(#pb)" stroke="#1d3d63" stroke-width="1.2"/>
<circle cx="308.2" cy="305.7" r="3.7" fill="url(#pg)" stroke="#1d3d63" stroke-width="1.2"/>
<circle cx="312.8" cy="299.2" r="3.6" fill="url(#pb)" stroke="#1d3d63" stroke-width="1.2"/>
<circle cx="318.9" cy="293.4" r="3.5" fill="url(#pg)" stroke="#1d3d63" stroke-width="1.2"/>
<circle cx="325.2" cy="288.8" r="3.4" fill="url(#pb)" stroke="#1d3d63" stroke-width="1.2"/>
<circle cx="331.2" cy="285.1" r="3.3" fill="url(#pb)" stroke="#1d3d63" stroke-width="1.2"/>
<circle cx="338.3" cy="281.9" r="3.3" fill="url(#pb)" stroke="#1d3d63" stroke-width="1.2"/>
<circle cx="344.5" cy="279.3" r="3.2" fill="url(#pb)" stroke="#1d3d63" stroke-width="1.2"/>
<circle cx="350.9" cy="276.2" r="3.1" fill="url(#pb)" stroke="#1d3d63" stroke-width="1.2"/>
<circle cx="357.6" cy="274.1" r="3" fill="url(#pb)" stroke="#1d3d63" stroke-width="1.2"/>
<circle cx="364.2" cy="271.7" r="3" fill="url(#pb)" stroke="#1d3d63" stroke-width="1.2"/>
<circle cx="370" cy="269.2" r="2.9" fill="url(#pb)" stroke="#1d3d63" stroke-width="1.2"/>
<circle cx="376" cy="267.8" r="2.8" fill="url(#pb)" stroke="#1d3d63" stroke-width="1.2"/>
<circle cx="382.5" cy="266.2" r="2.8" fill="url(#pb)" stroke="#1d3d63" stroke-width="1.2"/>
<circle cx="388.1" cy="264.7" r="2.7" fill="url(#pb)" stroke="#1d3d63" stroke-width="1.2"/>
<circle cx="394.5" cy="263.7" r="2.7" fill="url(#pb)" stroke="#1d3d63" stroke-width="1.2"/>
<circle cx="399.9" cy="262.6" r="2.7" fill="url(#pb)" stroke="#1d3d63" stroke-width="1.2"/>
<circle cx="406.5" cy="261.6" r="2.7" fill="url(#pb)" stroke="#1d3d63" stroke-width="1.2"/>
<circle cx="411.8" cy="260.9" r="2.7" fill="url(#pb)" stroke="#1d3d63" stroke-width="1.2"/>
<circle cx="418.2" cy="260.6" r="2.7" fill="url(#pb)" stroke="#1d3d63" stroke-width="1.2"/>
<circle cx="423.7" cy="259.5" r="2.7" fill="url(#pb)" stroke="#1d3d63" stroke-width="1.2"/>
<circle cx="429.7" cy="259.1" r="2.7" fill="url(#pb)" stroke="#1d3d63" stroke-width="1.2"/>
<circle cx="435.9" cy="258.6" r="2.7" fill="url(#pb)" stroke="#1d3d63" stroke-width="1.2"/>
<circle cx="441.7" cy="258.4" r="2.7" fill="url(#pb)" stroke="#1d3d63" stroke-width="1.2"/>
<circle cx="448.2" cy="258.8" r="2.7" fill="url(#pb)" stroke="#1d3d63" stroke-width="1.2"/>
<circle cx="453.5" cy="258.9" r="2.7" fill="url(#pg)" stroke="#1d3d63" stroke-width="1.2"/>
<circle cx="459.5" cy="258.6" r="2.7" fill="url(#pb)" stroke="#1d3d63" stroke-width="1.2"/>
<circle cx="466.2" cy="259" r="2.7" fill="url(#pg)" stroke="#1d3d63" stroke-width="1.2"/>
<circle cx="471.9" cy="258.8" r="2.7" fill="url(#pg)" stroke="#1d3d63" stroke-width="1.2"/>
<circle cx="477.5" cy="259.1" r="2.7" fill="url(#pg)" stroke="#1d3d63" stroke-width="1.2"/>
<circle cx="483.4" cy="258.8" r="2.7" fill="url(#pg)" stroke="#1d3d63" stroke-width="1.2"/>
<circle cx="489.6" cy="258.7" r="2.7" fill="url(#pb)" stroke="#1d3d63" stroke-width="1.2"/>
<circle cx="495.6" cy="259.4" r="2.7" fill="url(#pb)" stroke="#1d3d63" stroke-width="1.2"/>
<circle cx="501.8" cy="259.2" r="2.7" fill="url(#pb)" stroke="#1d3d63" stroke-width="1.2"/>
<circle cx="507.7" cy="259.3" r="2.7" fill="url(#pg)" stroke="#1d3d63" stroke-width="1.2"/>
<circle cx="513.3" cy="259.4" r="2.7" fill="url(#pg)" stroke="#1d3d63" stroke-width="1.2"/>
<circle cx="519.5" cy="259.6" r="2.7" fill="url(#pg)" stroke="#1d3d63" stroke-width="1.2"/>
<circle cx="525.9" cy="259.3" r="2.7" fill="url(#pb)" stroke="#1d3d63" stroke-width="1.2"/>
<circle cx="531.6" cy="259.5" r="2.7" fill="url(#pg)" stroke="#1d3d63" stroke-width="1.2"/>
<circle cx="537.4" cy="259.1" r="2.7" fill="url(#pb)" stroke="#1d3d63" stroke-width="1.2"/>
<circle cx="543.6" cy="259.6" r="2.7" fill="url(#pg)" stroke="#1d3d63" stroke-width="1.2"/>
<circle cx="549.6" cy="259.4" r="2.7" fill="url(#pg)" stroke="#1d3d63" stroke-width="1.2"/>
<circle cx="555.7" cy="259.5" r="2.7" fill="url(#pb)" stroke="#1d3d63" stroke-width="1.2"/>
<circle cx="561.5" cy="259.5" r="2.7" fill="url(#pb)" stroke="#1d3d63" stroke-width="1.2"/>
<circle cx="567.2" cy="259.9" r="2.7" fill="url(#pb)" stroke="#1d3d63" stroke-width="1.2"/>
<circle cx="573" cy="260" r="2.7" fill="url(#pb)" stroke="#1d3d63" stroke-width="1.2"/>
<circle cx="579.5" cy="260.7" r="2.7" fill="url(#pg)" stroke="#1d3d63" stroke-width="1.2"/>
<circle cx="585.3" cy="260.8" r="2.7" fill="url(#pb)" stroke="#1d3d63" stroke-width="1.2"/>
<circle cx="591.1" cy="261.6" r="2.7" fill="url(#pb)" stroke="#1d3d63" stroke-width="1.2"/>
<circle cx="597.2" cy="262.2" r="2.7" fill="url(#pb)" stroke="#1d3d63" stroke-width="1.2"/>
<circle cx="603.2" cy="263.5" r="2.7" fill="url(#pb)" stroke="#1d3d63" stroke-width="1.2"/>
<circle cx="608.7" cy="264.2" r="2.7" fill="url(#pb)" stroke="#1d3d63" stroke-width="1.2"/>
<circle cx="615" cy="265" r="2.7" fill="url(#pb)" stroke="#1d3d63" stroke-width="1.2"/>
<circle cx="620.7" cy="266.7" r="2.7" fill="url(#pb)" stroke="#1d3d63" stroke-width="1.2"/>
<circle cx="626.1" cy="267.7" r="2.7" fill="url(#pg)" stroke="#1d3d63" stroke-width="1.2"/>
<circle cx="632" cy="269.6" r="2.7" fill="url(#pg)" stroke="#1d3d63" stroke-width="1.2"/>
<circle cx="638.4" cy="271.2" r="2.8" fill="url(#pb)" stroke="#1d3d63" stroke-width="1.2"/>
<circle cx="643.4" cy="273.4" r="2.8" fill="url(#pb)" stroke="#1d3d63" stroke-width="1.2"/>
<circle cx="649.5" cy="276" r="2.9" fill="url(#pb)" stroke="#1d3d63" stroke-width="1.2"/>
<circle cx="655.3" cy="278.6" r="3" fill="url(#pb)" stroke="#1d3d63" stroke-width="1.2"/>
<circle cx="661.4" cy="281.4" r="3" fill="url(#pb)" stroke="#1d3d63" stroke-width="1.2"/>
<circle cx="666.9" cy="285" r="3.1" fill="url(#pb)" stroke="#1d3d63" stroke-width="1.2"/>
<circle cx="672.5" cy="288.5" r="3.2" fill="url(#pb)" stroke="#1d3d63" stroke-width="1.2"/>
<circle cx="678.3" cy="292.8" r="3.3" fill="url(#pb)" stroke="#1d3d63" stroke-width="1.2"/>
<circle cx="683.5" cy="298" r="3.4" fill="url(#pb)" stroke="#1d3d63" stroke-width="1.2"/>
<circle cx="688.8" cy="302.8" r="3.5" fill="url(#pb)" stroke="#1d3d63" stroke-width="1.2"/>
<circle cx="693.2" cy="309.5" r="3.6" fill="url(#pg)" stroke="#1d3d63" stroke-width="1.2"/>
<circle cx="694.7" cy="317.3" r="3.7" fill="url(#pb)" stroke="#1d3d63" stroke-width="1.2"/>
<circle cx="694.8" cy="325.7" r="3.7" fill="url(#pg)" stroke="#1d3d63" stroke-width="1.2"/>
<circle cx="694.7" cy="333.7" r="3.7" fill="url(#pg)" stroke="#1d3d63" stroke-width="1.2"/>
<circle cx="694.6" cy="342.4" r="3.7" fill="url(#pb)" stroke="#1d3d63" stroke-width="1.2"/>
<circle cx="695.2" cy="350.5" r="3.7" fill="url(#pb)" stroke="#1d3d63" stroke-width="1.2"/>
<circle cx="694.6" cy="359" r="3.7" fill="url(#pb)" stroke="#1d3d63" stroke-width="1.2"/>
<circle cx="694.7" cy="366.8" r="3.7" fill="url(#pb)" stroke="#1d3d63" stroke-width="1.2"/>
<circle cx="694.5" cy="375.6" r="3.7" fill="url(#pb)" stroke="#1d3d63" stroke-width="1.2"/>
<circle cx="695" cy="383.8" r="3.7" fill="url(#pb)" stroke="#1d3d63" stroke-width="1.2"/>
<circle cx="694.7" cy="392" r="3.7" fill="url(#pb)" stroke="#1d3d63" stroke-width="1.2"/>
<circle cx="694.5" cy="400.6" r="3.7" fill="url(#pb)" stroke="#1d3d63" stroke-width="1.2"/>
<circle cx="694.6" cy="408.7" r="3.7" fill="url(#pb)" stroke="#1d3d63" stroke-width="1.2"/>
<circle cx="695" cy="417.1" r="3.7" fill="url(#pb)" stroke="#1d3d63" stroke-width="1.2"/>
<circle cx="694.7" cy="425" r="3.7" fill="url(#pb)" stroke="#1d3d63" stroke-width="1.2"/>
<circle cx="694.8" cy="433.2" r="3.7" fill="url(#pb)" stroke="#1d3d63" stroke-width="1.2"/>
<circle cx="695" cy="441.7" r="3.7" fill="url(#pb)" stroke="#1d3d63" stroke-width="1.2"/>
<circle cx="695" cy="449.9" r="3.7" fill="url(#pb)" stroke="#1d3d63" stroke-width="1.2"/>
<circle cx="694.6" cy="458.2" r="3.7" fill="url(#pb)" stroke="#1d3d63" stroke-width="1.2"/>
<circle cx="694.7" cy="466.4" r="3.7" fill="url(#pg)" stroke="#1d3d63" stroke-width="1.2"/>
<circle cx="694.3" cy="475.1" r="3.7" fill="url(#pb)" stroke="#1d3d63" stroke-width="1.2"/>
<circle cx="694.5" cy="483.1" r="3.7" fill="url(#pb)" stroke="#1d3d63" stroke-width="1.2"/>
<circle cx="694.5" cy="491.6" r="3.7" fill="url(#pb)" stroke="#1d3d63" stroke-width="1.2"/>
<circle cx="694.6" cy="500" r="3.7" fill="url(#pb)" stroke="#1d3d63" stroke-width="1.2"/>
<circle cx="694.8" cy="508.1" r="3.7" fill="url(#pg)" stroke="#1d3d63" stroke-width="1.2"/>
<circle cx="695" cy="516.8" r="3.7" fill="url(#pb)" stroke="#1d3d63" stroke-width="1.2"/>
<circle cx="694.3" cy="525" r="3.7" fill="url(#pb)" stroke="#1d3d63" stroke-width="1.2"/>
<circle cx="695" cy="533.3" r="3.7" fill="url(#pb)" stroke="#1d3d63" stroke-width="1.2"/>
<circle cx="694.4" cy="541.6" r="3.7" fill="url(#pb)" stroke="#1d3d63" stroke-width="1.2"/>
<circle cx="694.8" cy="549.3" r="3.7" fill="url(#pg)" stroke="#1d3d63" stroke-width="1.2"/>
<circle cx="694.3" cy="558.3" r="3.7" fill="url(#pb)" stroke="#1d3d63" stroke-width="1.2"/>
<circle cx="695" cy="566.1" r="3.7" fill="url(#pb)" stroke="#1d3d63" stroke-width="1.2"/>
<circle cx="691.6" cy="572.4" r="3.7" fill="url(#pb)" stroke="#1d3d63" stroke-width="1.2"/>
<circle cx="684.5" cy="576.9" r="3.6" fill="url(#pb)" stroke="#1d3d63" stroke-width="1.2"/>
<circle cx="677.7" cy="580.3" r="3.5" fill="url(#pb)" stroke="#1d3d63" stroke-width="1.2"/>
<circle cx="671.4" cy="584.7" r="3.4" fill="url(#pb)" stroke="#1d3d63" stroke-width="1.2"/>
<circle cx="664.3" cy="588.6" r="3.3" fill="url(#pb)" stroke="#1d3d63" stroke-width="1.2"/>
<circle cx="658.4" cy="592.2" r="3.2" fill="url(#pb)" stroke="#1d3d63" stroke-width="1.2"/>
<circle cx="652.4" cy="595.8" r="3.1" fill="url(#pb)" stroke="#1d3d63" stroke-width="1.2"/>
<circle cx="646.6" cy="599.1" r="3" fill="url(#pb)" stroke="#1d3d63" stroke-width="1.2"/>
<circle cx="640.5" cy="602.3" r="2.9" fill="url(#pb)" stroke="#1d3d63" stroke-width="1.2"/>
<circle cx="635.2" cy="605.5" r="2.8" fill="url(#pb)" stroke="#1d3d63" stroke-width="1.2"/>
<circle cx="629.7" cy="608.7" r="2.8" fill="url(#pb)" stroke="#1d3d63" stroke-width="1.2"/>
<circle cx="624.4" cy="611.1" r="2.7" fill="url(#pb)" stroke="#1d3d63" stroke-width="1.2"/>
<circle cx="618.8" cy="613.8" r="2.7" fill="url(#pb)" stroke="#1d3d63" stroke-width="1.2"/>
<circle cx="613.7" cy="616.5" r="2.7" fill="url(#pb)" stroke="#1d3d63" stroke-width="1.2"/>
<circle cx="608.3" cy="619.3" r="2.7" fill="url(#pb)" stroke="#1d3d63" stroke-width="1.2"/>
<circle cx="603" cy="622.3" r="2.7" fill="url(#pb)" stroke="#1d3d63" stroke-width="1.2"/>
<circle cx="597.8" cy="625.4" r="2.7" fill="url(#pb)" stroke="#1d3d63" stroke-width="1.2"/>
<circle cx="592.1" cy="628.2" r="2.7" fill="url(#pb)" stroke="#1d3d63" stroke-width="1.2"/>
<circle cx="587.2" cy="630.8" r="2.7" fill="url(#pb)" stroke="#1d3d63" stroke-width="1.2"/>
<circle cx="582.1" cy="634" r="2.7" fill="url(#pb)" stroke="#1d3d63" stroke-width="1.2"/>
<circle cx="576.7" cy="636.6" r="2.7" fill="url(#pg)" stroke="#1d3d63" stroke-width="1.2"/>
<circle cx="572" cy="639.3" r="2.7" fill="url(#pb)" stroke="#1d3d63" stroke-width="1.2"/>
<circle cx="566.6" cy="642.8" r="2.7" fill="url(#pb)" stroke="#1d3d63" stroke-width="1.2"/>
<circle cx="561" cy="645.9" r="2.7" fill="url(#pb)" stroke="#1d3d63" stroke-width="1.2"/>
<circle cx="556.5" cy="649.4" r="2.7" fill="url(#pg)" stroke="#1d3d63" stroke-width="1.2"/>
<circle cx="551.2" cy="652.6" r="2.7" fill="url(#pb)" stroke="#1d3d63" stroke-width="1.2"/>
<circle cx="546.3" cy="655.5" r="2.7" fill="url(#pb)" stroke="#1d3d63" stroke-width="1.2"/>
<circle cx="541.6" cy="658.4" r="2.7" fill="url(#pb)" stroke="#1d3d63" stroke-width="1.2"/>
<circle cx="536.5" cy="662.2" r="2.7" fill="url(#pb)" stroke="#1d3d63" stroke-width="1.2"/>
<circle cx="531.2" cy="665.6" r="2.7" fill="url(#pb)" stroke="#1d3d63" stroke-width="1.2"/>
<circle cx="526.2" cy="668.6" r="2.7" fill="url(#pb)" stroke="#1d3d63" stroke-width="1.2"/>
<circle cx="521.2" cy="672" r="2.8" fill="url(#pb)" stroke="#1d3d63" stroke-width="1.2"/>
<circle cx="515.8" cy="675" r="2.8" fill="url(#pb)" stroke="#1d3d63" stroke-width="1.2"/>
<circle cx="510.5" cy="677.7" r="2.8" fill="url(#pg)" stroke="#1d3d63" stroke-width="1.2"/>
<circle cx="504.6" cy="677.4" r="2.8" fill="url(#pb)" stroke="#1d3d63" stroke-width="1.2"/>
<circle cx="498.3" cy="677.5" r="2.9" fill="url(#pb)" stroke="#1d3d63" stroke-width="1.2"/>
<circle cx="491.7" cy="677.3" r="2.9" fill="url(#pb)" stroke="#1d3d63" stroke-width="1.2"/>
<circle cx="485.4" cy="677.9" r="2.9" fill="url(#pb)" stroke="#1d3d63" stroke-width="1.2"/>
<circle cx="479.1" cy="677.7" r="2.9" fill="url(#pg)" stroke="#1d3d63" stroke-width="1.2"/>
<circle cx="472.5" cy="677.4" r="2.9" fill="url(#pb)" stroke="#1d3d63" stroke-width="1.2"/>
<circle cx="466.1" cy="677.6" r="2.9" fill="url(#pb)" stroke="#1d3d63" stroke-width="1.2"/>
<circle cx="459.9" cy="677.8" r="2.9" fill="url(#pg)" stroke="#1d3d63" stroke-width="1.2"/>
<circle cx="453.1" cy="677.9" r="2.9" fill="url(#pb)" stroke="#1d3d63" stroke-width="1.2"/>
<circle cx="447.8" cy="676" r="2.9" fill="url(#pg)" stroke="#1d3d63" stroke-width="1.2"/>
<circle cx="441.5" cy="672.6" r="2.9" fill="url(#pb)" stroke="#1d3d63" stroke-width="1.2"/>
<circle cx="435.9" cy="669.5" r="2.9" fill="url(#pb)" stroke="#1d3d63" stroke-width="1.2"/>
<circle cx="431" cy="666.8" r="2.9" fill="url(#pb)" stroke="#1d3d63" stroke-width="1.2"/>
<circle cx="425.2" cy="663.9" r="2.8" fill="url(#pb)" stroke="#1d3d63" stroke-width="1.2"/>
<circle cx="419.9" cy="660.8" r="2.8" fill="url(#pb)" stroke="#1d3d63" stroke-width="1.2"/>
<circle cx="414.1" cy="657.9" r="2.8" fill="url(#pg)" stroke="#1d3d63" stroke-width="1.2"/>
<circle cx="408.7" cy="654.9" r="2.8" fill="url(#pb)" stroke="#1d3d63" stroke-width="1.2"/>
<circle cx="403.1" cy="651.6" r="2.9" fill="url(#pb)" stroke="#1d3d63" stroke-width="1.2"/>
<circle cx="397.5" cy="648.8" r="2.9" fill="url(#pb)" stroke="#1d3d63" stroke-width="1.2"/>
<circle cx="392" cy="645.5" r="2.9" fill="url(#pb)" stroke="#1d3d63" stroke-width="1.2"/>
<circle cx="385.9" cy="642.4" r="2.9" fill="url(#pb)" stroke="#1d3d63" stroke-width="1.2"/>
<circle cx="380.7" cy="640.1" r="3" fill="url(#pb)" stroke="#1d3d63" stroke-width="1.2"/>
<circle cx="374.8" cy="636.5" r="3" fill="url(#pb)" stroke="#1d3d63" stroke-width="1.2"/>
<circle cx="369" cy="633.7" r="3.1" fill="url(#pg)" stroke="#1d3d63" stroke-width="1.2"/>
<circle cx="362.8" cy="630.1" r="3.1" fill="url(#pg)" stroke="#1d3d63" stroke-width="1.2"/>
<circle cx="356.5" cy="626.9" r="3.2" fill="url(#pb)" stroke="#1d3d63" stroke-width="1.2"/>
<circle cx="350.3" cy="623.6" r="3.3" fill="url(#pb)" stroke="#1d3d63" stroke-width="1.2"/>
<circle cx="344.2" cy="620.6" r="3.3" fill="url(#pb)" stroke="#1d3d63" stroke-width="1.2"/>
<circle cx="337.2" cy="616.8" r="3.4" fill="url(#pb)" stroke="#1d3d63" stroke-width="1.2"/>
<circle cx="330.5" cy="612.8" r="3.5" fill="url(#pb)" stroke="#1d3d63" stroke-width="1.2"/>
<circle cx="324.2" cy="609.5" r="3.6" fill="url(#pb)" stroke="#1d3d63" stroke-width="1.2"/>
<circle cx="317.1" cy="605.8" r="3.7" fill="url(#pb)" stroke="#1d3d63" stroke-width="1.2"/>
<circle cx="309" cy="602.2" r="3.7" fill="url(#pb)" stroke="#1d3d63" stroke-width="1.2"/>
<circle cx="304.2" cy="597.7" r="3.7" fill="url(#pb)" stroke="#1d3d63" stroke-width="1.2"/>
<circle cx="304.6" cy="589.1" r="3.7" fill="url(#pb)" stroke="#1d3d63" stroke-width="1.2"/>
<circle cx="304.2" cy="580.5" r="3.7" fill="url(#pb)" stroke="#1d3d63" stroke-width="1.2"/>
<circle cx="304.5" cy="572.2" r="3.7" fill="url(#pb)" stroke="#1d3d63" stroke-width="1.2"/>
<circle cx="304.2" cy="563.8" r="3.7" fill="url(#pb)" stroke="#1d3d63" stroke-width="1.2"/>
<circle cx="304.1" cy="556" r="3.7" fill="url(#pb)" stroke="#1d3d63" stroke-width="1.2"/>
<circle cx="304.3" cy="547.9" r="3.7" fill="url(#pb)" stroke="#1d3d63" stroke-width="1.2"/>
<circle cx="304.3" cy="539.6" r="3.7" fill="url(#pb)" stroke="#1d3d63" stroke-width="1.2"/>
<circle cx="304.4" cy="530.6" r="3.7" fill="url(#pb)" stroke="#1d3d63" stroke-width="1.2"/>
<circle cx="305" cy="522.5" r="3.7" fill="url(#pb)" stroke="#1d3d63" stroke-width="1.2"/>
<circle cx="305" cy="514.1" r="3.7" fill="url(#pb)" stroke="#1d3d63" stroke-width="1.2"/>
<circle cx="304.5" cy="506.3" r="3.7" fill="url(#pb)" stroke="#1d3d63" stroke-width="1.2"/>
<circle cx="305.1" cy="498.1" r="3.7" fill="url(#pb)" stroke="#1d3d63" stroke-width="1.2"/>
<circle cx="305.2" cy="489.1" r="3.7" fill="url(#pb)" stroke="#1d3d63" stroke-width="1.2"/>
<circle cx="305.1" cy="481.3" r="3.7" fill="url(#pb)" stroke="#1d3d63" stroke-width="1.2"/>
<circle cx="305" cy="473.2" r="3.7" fill="url(#pb)" stroke="#1d3d63" stroke-width="1.2"/>
<circle cx="304.9" cy="464.9" r="3.7" fill="url(#pg)" stroke="#1d3d63" stroke-width="1.2"/>
<circle cx="305.3" cy="455.9" r="3.7" fill="url(#pb)" stroke="#1d3d63" stroke-width="1.2"/>
<circle cx="304.8" cy="448.1" r="3.7" fill="url(#pb)" stroke="#1d3d63" stroke-width="1.2"/>
<circle cx="305.4" cy="439.3" r="3.7" fill="url(#pb)" stroke="#1d3d63" stroke-width="1.2"/>
<circle cx="305" cy="431.6" r="3.7" fill="url(#pb)" stroke="#1d3d63" stroke-width="1.2"/>
<circle cx="304.9" cy="423.4" r="3.7" fill="url(#pb)" stroke="#1d3d63" stroke-width="1.2"/>
<circle cx="305.2" cy="414.4" r="3.7" fill="url(#pb)" stroke="#1d3d63" stroke-width="1.2"/>
<circle cx="305.1" cy="406.5" r="3.7" fill="url(#pb)" stroke="#1d3d63" stroke-width="1.2"/>
<circle cx="305.2" cy="398.3" r="3.7" fill="url(#pb)" stroke="#1d3d63" stroke-width="1.2"/>
<circle cx="304.9" cy="390.1" r="3.7" fill="url(#pb)" stroke="#1d3d63" stroke-width="1.2"/>
<circle cx="305.1" cy="381.7" r="3.7" fill="url(#pb)" stroke="#1d3d63" stroke-width="1.2"/>
<circle cx="305.3" cy="373.2" r="3.7" fill="url(#pb)" stroke="#1d3d63" stroke-width="1.2"/>
<circle cx="305.1" cy="365.2" r="3.7" fill="url(#pb)" stroke="#1d3d63" stroke-width="1.2"/>
<circle cx="305.5" cy="356.9" r="3.7" fill="url(#pg)" stroke="#1d3d63" stroke-width="1.2"/>
<circle cx="305.2" cy="348.2" r="3.7" fill="url(#pb)" stroke="#1d3d63" stroke-width="1.2"/>
<circle cx="304.7" cy="340.5" r="3.7" fill="url(#pb)" stroke="#1d3d63" stroke-width="1.2"/>
<circle cx="305.2" cy="332" r="3.7" fill="url(#pb)" stroke="#1d3d63" stroke-width="1.2"/>
<circle cx="304.9" cy="323.6" r="3.7" fill="url(#pb)" stroke="#1d3d63" stroke-width="1.2"/>
<circle cx="312.5" cy="318.2" r="3.7" fill="url(#pb)" stroke="#1d3d63" stroke-width="1.2"/>
<circle cx="314" cy="309.8" r="3.7" fill="url(#pb)" stroke="#1d3d63" stroke-width="1.2"/>
<circle cx="317.9" cy="303.2" r="3.6" fill="url(#pb)" stroke="#1d3d63" stroke-width="1.2"/>
<circle cx="323.3" cy="297.1" r="3.5" fill="url(#pb)" stroke="#1d3d63" stroke-width="1.2"/>
<circle cx="329.7" cy="292.5" r="3.4" fill="url(#pb)" stroke="#1d3d63" stroke-width="1.2"/>
<circle cx="336.3" cy="288" r="3.4" fill="url(#pb)" stroke="#1d3d63" stroke-width="1.2"/>
<circle cx="342.3" cy="284.6" r="3.3" fill="url(#pb)" stroke="#1d3d63" stroke-width="1.2"/>
<circle cx="349.2" cy="281.8" r="3.2" fill="url(#pg)" stroke="#1d3d63" stroke-width="1.2"/>
<circle cx="356.1" cy="279.4" r="3.1" fill="url(#pb)" stroke="#1d3d63" stroke-width="1.2"/>
<circle cx="361.9" cy="277" r="3" fill="url(#pb)" stroke="#1d3d63" stroke-width="1.2"/>
<circle cx="368.9" cy="274.8" r="3" fill="url(#pg)" stroke="#1d3d63" stroke-width="1.2"/>
<circle cx="374.9" cy="272.1" r="2.9" fill="url(#pb)" stroke="#1d3d63" stroke-width="1.2"/>
<circle cx="381.2" cy="270.7" r="2.8" fill="url(#pb)" stroke="#1d3d63" stroke-width="1.2"/>
<circle cx="387.2" cy="269.3" r="2.8" fill="url(#pb)" stroke="#1d3d63" stroke-width="1.2"/>
<circle cx="393" cy="267.4" r="2.7" fill="url(#pb)" stroke="#1d3d63" stroke-width="1.2"/>
<circle cx="399.1" cy="266.9" r="2.7" fill="url(#pb)" stroke="#1d3d63" stroke-width="1.2"/>
<circle cx="404.7" cy="266" r="2.7" fill="url(#pb)" stroke="#1d3d63" stroke-width="1.2"/>
<circle cx="411.3" cy="264.9" r="2.7" fill="url(#pb)" stroke="#1d3d63" stroke-width="1.2"/>
<circle cx="417" cy="264.7" r="2.7" fill="url(#pb)" stroke="#1d3d63" stroke-width="1.2"/>
<circle cx="422.8" cy="263.8" r="2.7" fill="url(#pg)" stroke="#1d3d63" stroke-width="1.2"/>
<circle cx="428.6" cy="263.8" r="2.7" fill="url(#pg)" stroke="#1d3d63" stroke-width="1.2"/>
<circle cx="435" cy="263.2" r="2.7" fill="url(#pg)" stroke="#1d3d63" stroke-width="1.2"/>
<circle cx="440.4" cy="263.3" r="2.7" fill="url(#pb)" stroke="#1d3d63" stroke-width="1.2"/>
<circle cx="446.9" cy="262.8" r="2.7" fill="url(#pg)" stroke="#1d3d63" stroke-width="1.2"/>
<circle cx="452.7" cy="263.4" r="2.7" fill="url(#pg)" stroke="#1d3d63" stroke-width="1.2"/>
<circle cx="459" cy="263.2" r="2.7" fill="url(#pg)" stroke="#1d3d63" stroke-width="1.2"/>
<circle cx="464.6" cy="263.5" r="2.7" fill="url(#pg)" stroke="#1d3d63" stroke-width="1.2"/>
<circle cx="470.3" cy="263.4" r="2.7" fill="url(#pg)" stroke="#1d3d63" stroke-width="1.2"/>
<circle cx="476.3" cy="264.1" r="2.7" fill="url(#pg)" stroke="#1d3d63" stroke-width="1.2"/>
<circle cx="482.4" cy="264.1" r="2.7" fill="url(#pg)" stroke="#1d3d63" stroke-width="1.2"/>
<circle cx="488.4" cy="264.2" r="2.7" fill="url(#pg)" stroke="#1d3d63" stroke-width="1.2"/>
<circle cx="494.2" cy="264" r="2.7" fill="url(#pg)" stroke="#1d3d63" stroke-width="1.2"/>
<circle cx="500.9" cy="264.3" r="2.7" fill="url(#pg)" stroke="#1d3d63" stroke-width="1.2"/>
<circle cx="506.1" cy="264.6" r="2.7" fill="url(#pg)" stroke="#1d3d63" stroke-width="1.2"/>
<circle cx="512.6" cy="264.3" r="2.7" fill="url(#pg)" stroke="#1d3d63" stroke-width="1.2"/>
<circle cx="518.5" cy="264.4" r="2.7" fill="url(#pg)" stroke="#1d3d63" stroke-width="1.2"/>
<circle cx="524.4" cy="264.1" r="2.7" fill="url(#pg)" stroke="#1d3d63" stroke-width="1.2"/>
<circle cx="530" cy="264.7" r="2.7" fill="url(#pg)" stroke="#1d3d63" stroke-width="1.2"/>
<circle cx="536.6" cy="264.1" r="2.7" fill="url(#pb)" stroke="#1d3d63" stroke-width="1.2"/>
<circle cx="542.3" cy="263.8" r="2.7" fill="url(#pg)" stroke="#1d3d63" stroke-width="1.2"/>
<circle cx="548.5" cy="263.8" r="2.7" fill="url(#pg)" stroke="#1d3d63" stroke-width="1.2"/>
<circle cx="554.6" cy="264" r="2.7" fill="url(#pg)" stroke="#1d3d63" stroke-width="1.2"/>
<circle cx="560.5" cy="264.2" r="2.7" fill="url(#pg)" stroke="#1d3d63" stroke-width="1.2"/>
<circle cx="566" cy="263.6" r="2.7" fill="url(#pg)" stroke="#1d3d63" stroke-width="1.2"/>
<circle cx="571.9" cy="263.9" r="2.7" fill="url(#pg)" stroke="#1d3d63" stroke-width="1.2"/>
<circle cx="577.8" cy="264.1" r="2.7" fill="url(#pg)" stroke="#1d3d63" stroke-width="1.2"/>
<circle cx="584.1" cy="265.1" r="2.7" fill="url(#pg)" stroke="#1d3d63" stroke-width="1.2"/>
<circle cx="590" cy="265.7" r="2.7" fill="url(#pg)" stroke="#1d3d63" stroke-width="1.2"/>
<circle cx="596.3" cy="265.6" r="2.7" fill="url(#pb)" stroke="#1d3d63" stroke-width="1.2"/>
<circle cx="602" cy="266.6" r="2.7" fill="url(#pg)" stroke="#1d3d63" stroke-width="1.2"/>
<circle cx="607.5" cy="267.9" r="2.7" fill="url(#pb)" stroke="#1d3d63" stroke-width="1.2"/>
<circle cx="613.5" cy="268.6" r="2.7" fill="url(#pb)" stroke="#1d3d63" stroke-width="1.2"/>
<circle cx="619.7" cy="270.1" r="2.7" fill="url(#pb)" stroke="#1d3d63" stroke-width="1.2"/>
<circle cx="625.5" cy="271.1" r="2.7" fill="url(#pb)" stroke="#1d3d63" stroke-width="1.2"/>
<circle cx="631.1" cy="272.7" r="2.8" fill="url(#pg)" stroke="#1d3d63" stroke-width="1.2"/>
<circle cx="637.3" cy="275.3" r="2.8" fill="url(#pb)" stroke="#1d3d63" stroke-width="1.2"/>
<circle cx="642.5" cy="276.9" r="2.9" fill="url(#pb)" stroke="#1d3d63" stroke-width="1.2"/>
<circle cx="648.3" cy="279.7" r="2.9" fill="url(#pb)" stroke="#1d3d63" stroke-width="1.2"/>
<circle cx="654.6" cy="283" r="3" fill="url(#pb)" stroke="#1d3d63" stroke-width="1.2"/>
<circle cx="660.4" cy="285.4" r="3.1" fill="url(#pg)" stroke="#1d3d63" stroke-width="1.2"/>
<circle cx="666.2" cy="289.6" r="3.2" fill="url(#pb)" stroke="#1d3d63" stroke-width="1.2"/>
<circle cx="671.7" cy="294" r="3.3" fill="url(#pg)" stroke="#1d3d63" stroke-width="1.2"/>
<circle cx="676.5" cy="298.3" r="3.4" fill="url(#pb)" stroke="#1d3d63" stroke-width="1.2"/>
<circle cx="682.1" cy="304.6" r="3.5" fill="url(#pg)" stroke="#1d3d63" stroke-width="1.2"/>
<circle cx="686.5" cy="310.5" r="3.6" fill="url(#pb)" stroke="#1d3d63" stroke-width="1.2"/>
<circle cx="687.9" cy="318.7" r="3.7" fill="url(#pb)" stroke="#1d3d63" stroke-width="1.2"/>
<circle cx="687.3" cy="326.5" r="3.7" fill="url(#pb)" stroke="#1d3d63" stroke-width="1.2"/>
<circle cx="687.4" cy="334.7" r="3.7" fill="url(#pg)" stroke="#1d3d63" stroke-width="1.2"/>
<circle cx="687.6" cy="343" r="3.7" fill="url(#pb)" stroke="#1d3d63" stroke-width="1.2"/>
<circle cx="687.4" cy="351.3" r="3.7" fill="url(#pb)" stroke="#1d3d63" stroke-width="1.2"/>
<circle cx="687.7" cy="359.5" r="3.7" fill="url(#pb)" stroke="#1d3d63" stroke-width="1.2"/>
<circle cx="687.7" cy="367.9" r="3.7" fill="url(#pg)" stroke="#1d3d63" stroke-width="1.2"/>
<circle cx="687.1" cy="376.8" r="3.7" fill="url(#pb)" stroke="#1d3d63" stroke-width="1.2"/>
<circle cx="687.3" cy="385.1" r="3.7" fill="url(#pb)" stroke="#1d3d63" stroke-width="1.2"/>
<circle cx="687.8" cy="393.4" r="3.7" fill="url(#pb)" stroke="#1d3d63" stroke-width="1.2"/>
<circle cx="687.2" cy="401.3" r="3.7" fill="url(#pb)" stroke="#1d3d63" stroke-width="1.2"/>
<circle cx="687.1" cy="410" r="3.7" fill="url(#pb)" stroke="#1d3d63" stroke-width="1.2"/>
<circle cx="687.7" cy="418.1" r="3.7" fill="url(#pb)" stroke="#1d3d63" stroke-width="1.2"/>
<circle cx="687.4" cy="426.2" r="3.7" fill="url(#pb)" stroke="#1d3d63" stroke-width="1.2"/>
<circle cx="687.7" cy="434.6" r="3.7" fill="url(#pb)" stroke="#1d3d63" stroke-width="1.2"/>
<circle cx="687.5" cy="442.6" r="3.7" fill="url(#pb)" stroke="#1d3d63" stroke-width="1.2"/>
<circle cx="687.2" cy="450.8" r="3.7" fill="url(#pb)" stroke="#1d3d63" stroke-width="1.2"/>
<circle cx="687.6" cy="459.5" r="3.7" fill="url(#pb)" stroke="#1d3d63" stroke-width="1.2"/>
<circle cx="687.1" cy="468.1" r="3.7" fill="url(#pb)" stroke="#1d3d63" stroke-width="1.2"/>
<circle cx="687.2" cy="476" r="3.7" fill="url(#pg)" stroke="#1d3d63" stroke-width="1.2"/>
<circle cx="687.1" cy="484.2" r="3.7" fill="url(#pb)" stroke="#1d3d63" stroke-width="1.2"/>
<circle cx="687.7" cy="492.5" r="3.7" fill="url(#pb)" stroke="#1d3d63" stroke-width="1.2"/>
<circle cx="687.1" cy="501" r="3.7" fill="url(#pb)" stroke="#1d3d63" stroke-width="1.2"/>
<circle cx="687.3" cy="509.6" r="3.7" fill="url(#pb)" stroke="#1d3d63" stroke-width="1.2"/>
<circle cx="687.1" cy="518" r="3.7" fill="url(#pb)" stroke="#1d3d63" stroke-width="1.2"/>
<circle cx="687" cy="526.2" r="3.7" fill="url(#pb)" stroke="#1d3d63" stroke-width="1.2"/>
<circle cx="687.5" cy="534" r="3.7" fill="url(#pb)" stroke="#1d3d63" stroke-width="1.2"/>
<circle cx="687.4" cy="542.3" r="3.7" fill="url(#pb)" stroke="#1d3d63" stroke-width="1.2"/>
<circle cx="687.2" cy="550.5" r="3.7" fill="url(#pb)" stroke="#1d3d63" stroke-width="1.2"/>
<circle cx="687.3" cy="559.5" r="3.7" fill="url(#pb)" stroke="#1d3d63" stroke-width="1.2"/>
<circle cx="688" cy="567.7" r="3.7" fill="url(#pb)" stroke="#1d3d63" stroke-width="1.2"/>
<circle cx="683.1" cy="572.8" r="3.7" fill="url(#pb)" stroke="#1d3d63" stroke-width="1.2"/>
<circle cx="676.6" cy="576.5" r="3.6" fill="url(#pb)" stroke="#1d3d63" stroke-width="1.2"/>
<circle cx="669.5" cy="580.6" r="3.5" fill="url(#pg)" stroke="#1d3d63" stroke-width="1.2"/>
<circle cx="663" cy="584.3" r="3.4" fill="url(#pb)" stroke="#1d3d63" stroke-width="1.2"/>
<circle cx="656.4" cy="588.2" r="3.2" fill="url(#pb)" stroke="#1d3d63" stroke-width="1.2"/>
<circle cx="649.7" cy="591.6" r="3.1" fill="url(#pb)" stroke="#1d3d63" stroke-width="1.2"/>
<circle cx="644.2" cy="595.4" r="3" fill="url(#pb)" stroke="#1d3d63" stroke-width="1.2"/>
<circle cx="637.9" cy="598.7" r="2.9" fill="url(#pb)" stroke="#1d3d63" stroke-width="1.2"/>
<circle cx="632.9" cy="601.7" r="2.9" fill="url(#pb)" stroke="#1d3d63" stroke-width="1.2"/>
<circle cx="627.1" cy="604.7" r="2.8" fill="url(#pb)" stroke="#1d3d63" stroke-width="1.2"/>
<circle cx="621.3" cy="608.1" r="2.7" fill="url(#pb)" stroke="#1d3d63" stroke-width="1.2"/>
<circle cx="616.4" cy="610.4" r="2.7" fill="url(#pb)" stroke="#1d3d63" stroke-width="1.2"/>
<circle cx="610.5" cy="613" r="2.7" fill="url(#pb)" stroke="#1d3d63" stroke-width="1.2"/>
<circle cx="605.5" cy="615.9" r="2.7" fill="url(#pb)" stroke="#1d3d63" stroke-width="1.2"/>
<circle cx="599.9" cy="618.3" r="2.7" fill="url(#pg)" stroke="#1d3d63" stroke-width="1.2"/>
<circle cx="594.8" cy="621.4" r="2.7" fill="url(#pb)" stroke="#1d3d63" stroke-width="1.2"/>
<circle cx="589.6" cy="624" r="2.7" fill="url(#pb)" stroke="#1d3d63" stroke-width="1.2"/>
<circle cx="583.9" cy="626.4" r="2.7" fill="url(#pb)" stroke="#1d3d63" stroke-width="1.2"/>
<circle cx="579" cy="629.5" r="2.7" fill="url(#pg)" stroke="#1d3d63" stroke-width="1.2"/>
<circle cx="573.8" cy="632.1" r="2.7" fill="url(#pb)" stroke="#1d3d63" stroke-width="1.2"/>
<circle cx="568.7" cy="635.3" r="2.7" fill="url(#pg)" stroke="#1d3d63" stroke-width="1.2"/>
<circle cx="563.6" cy="638.8" r="2.7" fill="url(#pg)" stroke="#1d3d63" stroke-width="1.2"/>
<circle cx="558.2" cy="641.3" r="2.7" fill="url(#pb)" stroke="#1d3d63" stroke-width="1.2"/>
<circle cx="553.5" cy="644.9" r="2.7" fill="url(#pb)" stroke="#1d3d63" stroke-width="1.2"/>
<circle cx="548.5" cy="648" r="2.7" fill="url(#pb)" stroke="#1d3d63" stroke-width="1.2"/>
<circle cx="543" cy="651.7" r="2.7" fill="url(#pb)" stroke="#1d3d63" stroke-width="1.2"/>
<circle cx="538.2" cy="654.6" r="2.7" fill="url(#pg)" stroke="#1d3d63" stroke-width="1.2"/>
<circle cx="533.3" cy="658.3" r="2.7" fill="url(#pb)" stroke="#1d3d63" stroke-width="1.2"/>
<circle cx="528" cy="661.5" r="2.7" fill="url(#pb)" stroke="#1d3d63" stroke-width="1.2"/>
<circle cx="523.3" cy="664.8" r="2.7" fill="url(#pb)" stroke="#1d3d63" stroke-width="1.2"/>
<circle cx="517.9" cy="668.3" r="2.8" fill="url(#pb)" stroke="#1d3d63" stroke-width="1.2"/>
<circle cx="513.3" cy="671.7" r="2.8" fill="url(#pb)" stroke="#1d3d63" stroke-width="1.2"/>
<circle cx="506.9" cy="672.3" r="2.8" fill="url(#pb)" stroke="#1d3d63" stroke-width="1.2"/>
<circle cx="500.7" cy="672.2" r="2.8" fill="url(#pb)" stroke="#1d3d63" stroke-width="1.2"/>
<circle cx="494.1" cy="672.3" r="2.9" fill="url(#pg)" stroke="#1d3d63" stroke-width="1.2"/>
<circle cx="488.5" cy="671.9" r="2.9" fill="url(#pb)" stroke="#1d3d63" stroke-width="1.2"/>
<circle cx="481.8" cy="671.9" r="2.9" fill="url(#pb)" stroke="#1d3d63" stroke-width="1.2"/>
<circle cx="475.4" cy="671.6" r="2.9" fill="url(#pb)" stroke="#1d3d63" stroke-width="1.2"/>
<circle cx="469.4" cy="671.8" r="2.9" fill="url(#pb)" stroke="#1d3d63" stroke-width="1.2"/>
<circle cx="462.3" cy="671.7" r="2.9" fill="url(#pb)" stroke="#1d3d63" stroke-width="1.2"/>
<circle cx="456" cy="672.4" r="2.9" fill="url(#pb)" stroke="#1d3d63" stroke-width="1.2"/>
<circle cx="449.7" cy="670.8" r="2.9" fill="url(#pb)" stroke="#1d3d63" stroke-width="1.2"/>
<circle cx="444.7" cy="667.7" r="2.9" fill="url(#pb)" stroke="#1d3d63" stroke-width="1.2"/>
<circle cx="438.5" cy="664.9" r="2.9" fill="url(#pg)" stroke="#1d3d63" stroke-width="1.2"/>
<circle cx="433.4" cy="661.8" r="2.9" fill="url(#pb)" stroke="#1d3d63" stroke-width="1.2"/>
<circle cx="427.9" cy="658.5" r="2.8" fill="url(#pb)" stroke="#1d3d63" stroke-width="1.2"/>
<circle cx="422.5" cy="656" r="2.8" fill="url(#pb)" stroke="#1d3d63" stroke-width="1.2"/>
<circle cx="416.3" cy="652.6" r="2.8" fill="url(#pb)" stroke="#1d3d63" stroke-width="1.2"/>
<circle cx="411.1" cy="649.9" r="2.8" fill="url(#pb)" stroke="#1d3d63" stroke-width="1.2"/>
<circle cx="405.4" cy="646.7" r="2.9" fill="url(#pb)" stroke="#1d3d63" stroke-width="1.2"/>
<circle cx="399.9" cy="643.7" r="2.9" fill="url(#pb)" stroke="#1d3d63" stroke-width="1.2"/>
<circle cx="394.5" cy="641.3" r="2.9" fill="url(#pb)" stroke="#1d3d63" stroke-width="1.2"/>
<circle cx="388.4" cy="638" r="2.9" fill="url(#pb)" stroke="#1d3d63" stroke-width="1.2"/>
<circle cx="383.2" cy="634.6" r="3" fill="url(#pb)" stroke="#1d3d63" stroke-width="1.2"/>
<circle cx="377.4" cy="632.1" r="3" fill="url(#pb)" stroke="#1d3d63" stroke-width="1.2"/>
<circle cx="371.2" cy="628.6" r="3.1" fill="url(#pb)" stroke="#1d3d63" stroke-width="1.2"/>
<circle cx="365.5" cy="625.4" r="3.2" fill="url(#pb)" stroke="#1d3d63" stroke-width="1.2"/>
<circle cx="359" cy="622.4" r="3.2" fill="url(#pb)" stroke="#1d3d63" stroke-width="1.2"/>
<circle cx="353" cy="618.6" r="3.3" fill="url(#pb)" stroke="#1d3d63" stroke-width="1.2"/>
<circle cx="346.1" cy="615.1" r="3.4" fill="url(#pb)" stroke="#1d3d63" stroke-width="1.2"/>
<circle cx="339.6" cy="612.1" r="3.5" fill="url(#pb)" stroke="#1d3d63" stroke-width="1.2"/>
<circle cx="333.1" cy="608.4" r="3.6" fill="url(#pb)" stroke="#1d3d63" stroke-width="1.2"/>
<circle cx="326" cy="604.8" r="3.7" fill="url(#pb)" stroke="#1d3d63" stroke-width="1.2"/>
<circle cx="318" cy="601.1" r="3.7" fill="url(#pb)" stroke="#1d3d63" stroke-width="1.2"/>
<circle cx="311.5" cy="597.8" r="3.7" fill="url(#pb)" stroke="#1d3d63" stroke-width="1.2"/>
<circle cx="311" cy="589.1" r="3.7" fill="url(#pb)" stroke="#1d3d63" stroke-width="1.2"/>
<circle cx="311.4" cy="580.8" r="3.7" fill="url(#pb)" stroke="#1d3d63" stroke-width="1.2"/>
<circle cx="311.5" cy="572.3" r="3.7" fill="url(#pb)" stroke="#1d3d63" stroke-width="1.2"/>
<circle cx="311.5" cy="564.3" r="3.7" fill="url(#pb)" stroke="#1d3d63" stroke-width="1.2"/>
<circle cx="311.2" cy="555.7" r="3.7" fill="url(#pb)" stroke="#1d3d63" stroke-width="1.2"/>
<circle cx="312.1" cy="547.9" r="3.7" fill="url(#pb)" stroke="#1d3d63" stroke-width="1.2"/>
<circle cx="312.2" cy="539.5" r="3.7" fill="url(#pb)" stroke="#1d3d63" stroke-width="1.2"/>
<circle cx="312.1" cy="531.4" r="3.7" fill="url(#pb)" stroke="#1d3d63" stroke-width="1.2"/>
<circle cx="312.3" cy="522.4" r="3.7" fill="url(#pb)" stroke="#1d3d63" stroke-width="1.2"/>
<circle cx="312.1" cy="514.3" r="3.7" fill="url(#pb)" stroke="#1d3d63" stroke-width="1.2"/>
<circle cx="312.2" cy="506" r="3.7" fill="url(#pb)" stroke="#1d3d63" stroke-width="1.2"/>
<circle cx="312.2" cy="498.2" r="3.7" fill="url(#pb)" stroke="#1d3d63" stroke-width="1.2"/>
<circle cx="312.3" cy="489.4" r="3.7" fill="url(#pb)" stroke="#1d3d63" stroke-width="1.2"/>
<circle cx="312.3" cy="481.3" r="3.7" fill="url(#pb)" stroke="#1d3d63" stroke-width="1.2"/>
<circle cx="312.7" cy="472.8" r="3.7" fill="url(#pb)" stroke="#1d3d63" stroke-width="1.2"/>
<circle cx="312.2" cy="464.8" r="3.7" fill="url(#pb)" stroke="#1d3d63" stroke-width="1.2"/>
<circle cx="312.1" cy="456.5" r="3.7" fill="url(#pb)" stroke="#1d3d63" stroke-width="1.2"/>
<circle cx="312.8" cy="448.1" r="3.7" fill="url(#pb)" stroke="#1d3d63" stroke-width="1.2"/>
<circle cx="312.3" cy="439.8" r="3.7" fill="url(#pb)" stroke="#1d3d63" stroke-width="1.2"/>
<circle cx="312.5" cy="431.2" r="3.7" fill="url(#pg)" stroke="#1d3d63" stroke-width="1.2"/>
<circle cx="312.2" cy="422.9" r="3.7" fill="url(#pb)" stroke="#1d3d63" stroke-width="1.2"/>
<circle cx="312.3" cy="414.8" r="3.7" fill="url(#pb)" stroke="#1d3d63" stroke-width="1.2"/>
<circle cx="312.3" cy="406.4" r="3.7" fill="url(#pb)" stroke="#1d3d63" stroke-width="1.2"/>
<circle cx="312.2" cy="398.3" r="3.7" fill="url(#pb)" stroke="#1d3d63" stroke-width="1.2"/>
<circle cx="312.8" cy="390.1" r="3.7" fill="url(#pb)" stroke="#1d3d63" stroke-width="1.2"/>
<circle cx="312.5" cy="381.8" r="3.7" fill="url(#pb)" stroke="#1d3d63" stroke-width="1.2"/>
<circle cx="312.2" cy="373.6" r="3.7" fill="url(#pg)" stroke="#1d3d63" stroke-width="1.2"/>
<circle cx="312.4" cy="365.1" r="3.7" fill="url(#pb)" stroke="#1d3d63" stroke-width="1.2"/>
<circle cx="312.5" cy="356.8" r="3.7" fill="url(#pb)" stroke="#1d3d63" stroke-width="1.2"/>
<circle cx="312.2" cy="348.3" r="3.7" fill="url(#pg)" stroke="#1d3d63" stroke-width="1.2"/>
<circle cx="312.1" cy="340.2" r="3.7" fill="url(#pb)" stroke="#1d3d63" stroke-width="1.2"/>
<circle cx="312.2" cy="332" r="3.7" fill="url(#pb)" stroke="#1d3d63" stroke-width="1.2"/>
<circle cx="311.9" cy="323.5" r="3.7" fill="url(#pb)" stroke="#1d3d63" stroke-width="1.2"/>
<circle cx="320.1" cy="315.2" r="3.7" fill="url(#pg)" stroke="#1d3d63" stroke-width="1.2"/>
<circle cx="322.6" cy="307.7" r="3.7" fill="url(#pb)" stroke="#1d3d63" stroke-width="1.2"/>
<circle cx="327.3" cy="301.6" r="3.6" fill="url(#pb)" stroke="#1d3d63" stroke-width="1.2"/>
<circle cx="333.2" cy="296.1" r="3.5" fill="url(#pb)" stroke="#1d3d63" stroke-width="1.2"/>
<circle cx="339.4" cy="291.3" r="3.4" fill="url(#pg)" stroke="#1d3d63" stroke-width="1.2"/>
<circle cx="346.6" cy="288" r="3.3" fill="url(#pg)" stroke="#1d3d63" stroke-width="1.2"/>
<circle cx="352.6" cy="284.9" r="3.2" fill="url(#pg)" stroke="#1d3d63" stroke-width="1.2"/>
<circle cx="359.5" cy="282.5" r="3.1" fill="url(#pb)" stroke="#1d3d63" stroke-width="1.2"/>
<circle cx="365.8" cy="279.6" r="3.1" fill="url(#pg)" stroke="#1d3d63" stroke-width="1.2"/>
<circle cx="372.8" cy="277.8" r="3" fill="url(#pb)" stroke="#1d3d63" stroke-width="1.2"/>
<circle cx="378.4" cy="275.3" r="2.9" fill="url(#pb)" stroke="#1d3d63" stroke-width="1.2"/>
<circle cx="384.7" cy="273.7" r="2.8" fill="url(#pg)" stroke="#1d3d63" stroke-width="1.2"/>
<circle cx="391" cy="272.4" r="2.8" fill="url(#pg)" stroke="#1d3d63" stroke-width="1.2"/>
<circle cx="397.2" cy="270.9" r="2.7" fill="url(#pb)" stroke="#1d3d63" stroke-width="1.2"/>
<circle cx="403.1" cy="270.1" r="2.7" fill="url(#pg)" stroke="#1d3d63" stroke-width="1.2"/>
<circle cx="409.1" cy="269.2" r="2.7" fill="url(#pg)" stroke="#1d3d63" stroke-width="1.2"/>
<circle cx="415.1" cy="268.8" r="2.7" fill="url(#pg)" stroke="#1d3d63" stroke-width="1.2"/>
<circle cx="421.1" cy="267.8" r="2.7" fill="url(#pb)" stroke="#1d3d63" stroke-width="1.2"/>
<circle cx="427.1" cy="267.3" r="2.7" fill="url(#pg)" stroke="#1d3d63" stroke-width="1.2"/>
<circle cx="432.9" cy="267.5" r="2.7" fill="url(#pg)" stroke="#1d3d63" stroke-width="1.2"/>
<circle cx="438.7" cy="267.6" r="2.7" fill="url(#pb)" stroke="#1d3d63" stroke-width="1.2"/>
<circle cx="444.7" cy="267.2" r="2.7" fill="url(#pg)" stroke="#1d3d63" stroke-width="1.2"/>
<circle cx="450.9" cy="267.6" r="2.7" fill="url(#pg)" stroke="#1d3d63" stroke-width="1.2"/>
<circle cx="456.7" cy="267.5" r="2.7" fill="url(#pg)" stroke="#1d3d63" stroke-width="1.2"/>
<circle cx="462.6" cy="267.9" r="2.7" fill="url(#pg)" stroke="#1d3d63" stroke-width="1.2"/>
<circle cx="468.7" cy="268.1" r="2.7" fill="url(#pg)" stroke="#1d3d63" stroke-width="1.2"/>
<circle cx="474.4" cy="268.7" r="2.7" fill="url(#pg)" stroke="#1d3d63" stroke-width="1.2"/>
<circle cx="540.1" cy="268.6" r="2.7" fill="url(#pg)" stroke="#1d3d63" stroke-width="1.2"/>
<circle cx="546.4" cy="268.7" r="2.7" fill="url(#pg)" stroke="#1d3d63" stroke-width="1.2"/>
<circle cx="552.2" cy="268.2" r="2.7" fill="url(#pg)" stroke="#1d3d63" stroke-width="1.2"/>
<circle cx="557.9" cy="267.9" r="2.7" fill="url(#pg)" stroke="#1d3d63" stroke-width="1.2"/>
<circle cx="563.8" cy="268.1" r="2.7" fill="url(#pg)" stroke="#1d3d63" stroke-width="1.2"/>
<circle cx="570.1" cy="267.8" r="2.7" fill="url(#pg)" stroke="#1d3d63" stroke-width="1.2"/>
<circle cx="576.4" cy="268.1" r="2.7" fill="url(#pg)" stroke="#1d3d63" stroke-width="1.2"/>
<circle cx="582.3" cy="268.8" r="2.7" fill="url(#pg)" stroke="#1d3d63" stroke-width="1.2"/>
<circle cx="588.4" cy="268.6" r="2.7" fill="url(#pg)" stroke="#1d3d63" stroke-width="1.2"/>
<circle cx="593.9" cy="269.7" r="2.7" fill="url(#pg)" stroke="#1d3d63" stroke-width="1.2"/>
<circle cx="599.5" cy="269.6" r="2.7" fill="url(#pg)" stroke="#1d3d63" stroke-width="1.2"/>
<circle cx="605.9" cy="270.8" r="2.7" fill="url(#pg)" stroke="#1d3d63" stroke-width="1.2"/>
<circle cx="612" cy="271.9" r="2.7" fill="url(#pg)" stroke="#1d3d63" stroke-width="1.2"/>
<circle cx="617.6" cy="273.3" r="2.7" fill="url(#pb)" stroke="#1d3d63" stroke-width="1.2"/>
<circle cx="623.4" cy="274.4" r="2.7" fill="url(#pb)" stroke="#1d3d63" stroke-width="1.2"/>
<circle cx="629.3" cy="276.1" r="2.8" fill="url(#pg)" stroke="#1d3d63" stroke-width="1.2"/>
<circle cx="634.8" cy="278.4" r="2.8" fill="url(#pb)" stroke="#1d3d63" stroke-width="1.2"/>
<circle cx="640.6" cy="281.1" r="2.9" fill="url(#pb)" stroke="#1d3d63" stroke-width="1.2"/>
<circle cx="646.7" cy="283.5" r="3" fill="url(#pg)" stroke="#1d3d63" stroke-width="1.2"/>
<circle cx="652.1" cy="286.4" r="3.1" fill="url(#pg)" stroke="#1d3d63" stroke-width="1.2"/>
<circle cx="658.2" cy="289.9" r="3.2" fill="url(#pg)" stroke="#1d3d63" stroke-width="1.2"/>
<circle cx="664" cy="294.2" r="3.2" fill="url(#pg)" stroke="#1d3d63" stroke-width="1.2"/>
<circle cx="669.6" cy="298.8" r="3.4" fill="url(#pg)" stroke="#1d3d63" stroke-width="1.2"/>
<circle cx="674.2" cy="304.5" r="3.5" fill="url(#pb)" stroke="#1d3d63" stroke-width="1.2"/>
<circle cx="679.1" cy="310.6" r="3.6" fill="url(#pg)" stroke="#1d3d63" stroke-width="1.2"/>
<circle cx="680.8" cy="318.6" r="3.7" fill="url(#pb)" stroke="#1d3d63" stroke-width="1.2"/>
<circle cx="680.1" cy="326.4" r="3.7" fill="url(#pg)" stroke="#1d3d63" stroke-width="1.2"/>
<circle cx="680.7" cy="335.1" r="3.7" fill="url(#pg)" stroke="#1d3d63" stroke-width="1.2"/>
<circle cx="680.3" cy="342.8" r="3.7" fill="url(#pg)" stroke="#1d3d63" stroke-width="1.2"/>
<circle cx="680.6" cy="351.6" r="3.7" fill="url(#pg)" stroke="#1d3d63" stroke-width="1.2"/>
<circle cx="680.5" cy="360.1" r="3.7" fill="url(#pg)" stroke="#1d3d63" stroke-width="1.2"/>
<circle cx="680.6" cy="368" r="3.7" fill="url(#pg)" stroke="#1d3d63" stroke-width="1.2"/>
<circle cx="680" cy="376.2" r="3.7" fill="url(#pb)" stroke="#1d3d63" stroke-width="1.2"/>
<circle cx="680.2" cy="384.6" r="3.7" fill="url(#pg)" stroke="#1d3d63" stroke-width="1.2"/>
<circle cx="680" cy="392.7" r="3.7" fill="url(#pb)" stroke="#1d3d63" stroke-width="1.2"/>
<circle cx="680.3" cy="401.3" r="3.7" fill="url(#pg)" stroke="#1d3d63" stroke-width="1.2"/>
<circle cx="680.1" cy="409.9" r="3.7" fill="url(#pg)" stroke="#1d3d63" stroke-width="1.2"/>
<circle cx="680.3" cy="417.5" r="3.7" fill="url(#pb)" stroke="#1d3d63" stroke-width="1.2"/>
<circle cx="680.1" cy="426.4" r="3.7" fill="url(#pg)" stroke="#1d3d63" stroke-width="1.2"/>
<circle cx="680" cy="434.6" r="3.7" fill="url(#pb)" stroke="#1d3d63" stroke-width="1.2"/>
<circle cx="679.7" cy="442.6" r="3.7" fill="url(#pg)" stroke="#1d3d63" stroke-width="1.2"/>
<circle cx="680.4" cy="451.1" r="3.7" fill="url(#pb)" stroke="#1d3d63" stroke-width="1.2"/>
<circle cx="680.3" cy="459.1" r="3.7" fill="url(#pg)" stroke="#1d3d63" stroke-width="1.2"/>
<circle cx="680.1" cy="467.7" r="3.7" fill="url(#pb)" stroke="#1d3d63" stroke-width="1.2"/>
<circle cx="679.9" cy="476" r="3.7" fill="url(#pg)" stroke="#1d3d63" stroke-width="1.2"/>
<circle cx="680.1" cy="484.6" r="3.7" fill="url(#pb)" stroke="#1d3d63" stroke-width="1.2"/>
<circle cx="680.2" cy="492.5" r="3.7" fill="url(#pg)" stroke="#1d3d63" stroke-width="1.2"/>
<circle cx="679.8" cy="500.6" r="3.7" fill="url(#pb)" stroke="#1d3d63" stroke-width="1.2"/>
<circle cx="680.3" cy="508.8" r="3.7" fill="url(#pg)" stroke="#1d3d63" stroke-width="1.2"/>
<circle cx="679.8" cy="517.2" r="3.7" fill="url(#pb)" stroke="#1d3d63" stroke-width="1.2"/>
<circle cx="680.1" cy="526" r="3.7" fill="url(#pg)" stroke="#1d3d63" stroke-width="1.2"/>
<circle cx="680.2" cy="534.3" r="3.7" fill="url(#pg)" stroke="#1d3d63" stroke-width="1.2"/>
<circle cx="679.8" cy="541.9" r="3.7" fill="url(#pg)" stroke="#1d3d63" stroke-width="1.2"/>
<circle cx="680.3" cy="550.5" r="3.7" fill="url(#pb)" stroke="#1d3d63" stroke-width="1.2"/>
<circle cx="680.3" cy="558.8" r="3.7" fill="url(#pb)" stroke="#1d3d63" stroke-width="1.2"/>
<circle cx="680.1" cy="567" r="3.7" fill="url(#pb)" stroke="#1d3d63" stroke-width="1.2"/>
<circle cx="675.8" cy="573" r="3.7" fill="url(#pg)" stroke="#1d3d63" stroke-width="1.2"/>
<circle cx="668.9" cy="576.4" r="3.6" fill="url(#pb)" stroke="#1d3d63" stroke-width="1.2"/>
<circle cx="661.8" cy="580.3" r="3.5" fill="url(#pb)" stroke="#1d3d63" stroke-width="1.2"/>
<circle cx="654.9" cy="584.5" r="3.3" fill="url(#pg)" stroke="#1d3d63" stroke-width="1.2"/>
<circle cx="648.9" cy="588.2" r="3.2" fill="url(#pg)" stroke="#1d3d63" stroke-width="1.2"/>
<circle cx="642.6" cy="591.5" r="3.1" fill="url(#pg)" stroke="#1d3d63" stroke-width="1.2"/>
<circle cx="636.5" cy="594.4" r="3" fill="url(#pb)" stroke="#1d3d63" stroke-width="1.2"/>
<circle cx="631.3" cy="598.3" r="2.9" fill="url(#pb)" stroke="#1d3d63" stroke-width="1.2"/>
<circle cx="625.2" cy="601.4" r="2.8" fill="url(#pb)" stroke="#1d3d63" stroke-width="1.2"/>
<circle cx="620.1" cy="603.9" r="2.8" fill="url(#pg)" stroke="#1d3d63" stroke-width="1.2"/>
<circle cx="614.5" cy="607.1" r="2.7" fill="url(#pg)" stroke="#1d3d63" stroke-width="1.2"/>
<circle cx="608.9" cy="609.7" r="2.7" fill="url(#pg)" stroke="#1d3d63" stroke-width="1.2"/>
<circle cx="603.3" cy="611.8" r="2.7" fill="url(#pg)" stroke="#1d3d63" stroke-width="1.2"/>
<circle cx="598.2" cy="614.2" r="2.7" fill="url(#pg)" stroke="#1d3d63" stroke-width="1.2"/>
<circle cx="592.5" cy="617.2" r="2.7" fill="url(#pg)" stroke="#1d3d63" stroke-width="1.2"/>
<circle cx="587.3" cy="619.7" r="2.7" fill="url(#pg)" stroke="#1d3d63" stroke-width="1.2"/>
<circle cx="581.7" cy="621.9" r="2.7" fill="url(#pg)" stroke="#1d3d63" stroke-width="1.2"/>
<circle cx="576.5" cy="624.7" r="2.7" fill="url(#pg)" stroke="#1d3d63" stroke-width="1.2"/>
<circle cx="571.7" cy="627.6" r="2.7" fill="url(#pg)" stroke="#1d3d63" stroke-width="1.2"/>
<circle cx="566.2" cy="630.4" r="2.7" fill="url(#pg)" stroke="#1d3d63" stroke-width="1.2"/>
<circle cx="561.1" cy="633.7" r="2.7" fill="url(#pg)" stroke="#1d3d63" stroke-width="1.2"/>
<circle cx="555.9" cy="636.6" r="2.7" fill="url(#pg)" stroke="#1d3d63" stroke-width="1.2"/>
<circle cx="550.6" cy="640.4" r="2.7" fill="url(#pb)" stroke="#1d3d63" stroke-width="1.2"/>
<circle cx="545.9" cy="643.3" r="2.7" fill="url(#pg)" stroke="#1d3d63" stroke-width="1.2"/>
<circle cx="540.8" cy="646.7" r="2.7" fill="url(#pg)" stroke="#1d3d63" stroke-width="1.2"/>
<circle cx="536" cy="650" r="2.7" fill="url(#pg)" stroke="#1d3d63" stroke-width="1.2"/>
<circle cx="531.4" cy="653.7" r="2.7" fill="url(#pg)" stroke="#1d3d63" stroke-width="1.2"/>
<circle cx="526.1" cy="657.3" r="2.7" fill="url(#pg)" stroke="#1d3d63" stroke-width="1.2"/>
<circle cx="521" cy="660.3" r="2.8" fill="url(#pg)" stroke="#1d3d63" stroke-width="1.2"/>
<circle cx="516.5" cy="663.6" r="2.8" fill="url(#pg)" stroke="#1d3d63" stroke-width="1.2"/>
<circle cx="510.8" cy="666.9" r="2.8" fill="url(#pg)" stroke="#1d3d63" stroke-width="1.2"/>
<circle cx="504.8" cy="666.2" r="2.8" fill="url(#pg)" stroke="#1d3d63" stroke-width="1.2"/>
<circle cx="498.2" cy="666.6" r="2.9" fill="url(#pg)" stroke="#1d3d63" stroke-width="1.2"/>
<circle cx="491.9" cy="666.7" r="2.9" fill="url(#pb)" stroke="#1d3d63" stroke-width="1.2"/>
<circle cx="485.4" cy="666.7" r="2.9" fill="url(#pb)" stroke="#1d3d63" stroke-width="1.2"/>
<circle cx="479.2" cy="666.1" r="2.9" fill="url(#pg)" stroke="#1d3d63" stroke-width="1.2"/>
<circle cx="472.8" cy="666.1" r="2.9" fill="url(#pg)" stroke="#1d3d63" stroke-width="1.2"/>
<circle cx="466.6" cy="666.3" r="2.9" fill="url(#pg)" stroke="#1d3d63" stroke-width="1.2"/>
<circle cx="460.4" cy="666.6" r="2.9" fill="url(#pg)" stroke="#1d3d63" stroke-width="1.2"/>
<circle cx="453.5" cy="666.5" r="2.9" fill="url(#pg)" stroke="#1d3d63" stroke-width="1.2"/>
<circle cx="448.2" cy="663.4" r="2.9" fill="url(#pb)" stroke="#1d3d63" stroke-width="1.2"/>
<circle cx="442.8" cy="660.2" r="2.9" fill="url(#pb)" stroke="#1d3d63" stroke-width="1.2"/>
<circle cx="436.9" cy="657.5" r="2.9" fill="url(#pg)" stroke="#1d3d63" stroke-width="1.2"/>
<circle cx="431.1" cy="654.7" r="2.8" fill="url(#pg)" stroke="#1d3d63" stroke-width="1.2"/>
<circle cx="425.6" cy="651.6" r="2.8" fill="url(#pb)" stroke="#1d3d63" stroke-width="1.2"/>
<circle cx="420.3" cy="648.4" r="2.8" fill="url(#pg)" stroke="#1d3d63" stroke-width="1.2"/>
<circle cx="414.6" cy="645.3" r="2.8" fill="url(#pb)" stroke="#1d3d63" stroke-width="1.2"/>
<circle cx="408.9" cy="642.9" r="2.9" fill="url(#pb)" stroke="#1d3d63" stroke-width="1.2"/>
<circle cx="403.4" cy="639.8" r="2.9" fill="url(#pg)" stroke="#1d3d63" stroke-width="1.2"/>
<circle cx="397.6" cy="636.7" r="2.9" fill="url(#pg)" stroke="#1d3d63" stroke-width="1.2"/>
<circle cx="392.2" cy="633.6" r="2.9" fill="url(#pg)" stroke="#1d3d63" stroke-width="1.2"/>
<circle cx="386.4" cy="630.2" r="3" fill="url(#pb)" stroke="#1d3d63" stroke-width="1.2"/>
<circle cx="380.6" cy="627.2" r="3" fill="url(#pg)" stroke="#1d3d63" stroke-width="1.2"/>
<circle cx="374.5" cy="624.5" r="3.1" fill="url(#pg)" stroke="#1d3d63" stroke-width="1.2"/>
<circle cx="368.5" cy="621" r="3.2" fill="url(#pg)" stroke="#1d3d63" stroke-width="1.2"/>
<circle cx="362.8" cy="618" r="3.3" fill="url(#pg)" stroke="#1d3d63" stroke-width="1.2"/>
<circle cx="356.5" cy="614.6" r="3.3" fill="url(#pg)" stroke="#1d3d63" stroke-width="1.2"/>
<circle cx="349.4" cy="610.7" r="3.4" fill="url(#pb)" stroke="#1d3d63" stroke-width="1.2"/>
<circle cx="342.6" cy="607.4" r="3.5" fill="url(#pg)" stroke="#1d3d63" stroke-width="1.2"/>
<circle cx="336.1" cy="603.6" r="3.6" fill="url(#pg)" stroke="#1d3d63" stroke-width="1.2"/>
<circle cx="328.6" cy="600.4" r="3.7" fill="url(#pg)" stroke="#1d3d63" stroke-width="1.2"/>
<circle cx="321.3" cy="596.8" r="3.7" fill="url(#pg)" stroke="#1d3d63" stroke-width="1.2"/>
<circle cx="318.5" cy="590.6" r="3.7" fill="url(#pb)" stroke="#1d3d63" stroke-width="1.2"/>
<circle cx="318.4" cy="582.2" r="3.7" fill="url(#pg)" stroke="#1d3d63" stroke-width="1.2"/>
<circle cx="318.2" cy="574.5" r="3.7" fill="url(#pg)" stroke="#1d3d63" stroke-width="1.2"/>
<circle cx="318.8" cy="566" r="3.7" fill="url(#pb)" stroke="#1d3d63" stroke-width="1.2"/>
<circle cx="318.3" cy="557.2" r="3.7" fill="url(#pg)" stroke="#1d3d63" stroke-width="1.2"/>
<circle cx="318.5" cy="549" r="3.7" fill="url(#pg)" stroke="#1d3d63" stroke-width="1.2"/>
<circle cx="318.8" cy="540.9" r="3.7" fill="url(#pb)" stroke="#1d3d63" stroke-width="1.2"/>
<circle cx="318.6" cy="532.5" r="3.7" fill="url(#pg)" stroke="#1d3d63" stroke-width="1.2"/>
<circle cx="319.2" cy="524.1" r="3.7" fill="url(#pg)" stroke="#1d3d63" stroke-width="1.2"/>
<circle cx="319.5" cy="516.1" r="3.7" fill="url(#pg)" stroke="#1d3d63" stroke-width="1.2"/>
<circle cx="319.5" cy="507.6" r="3.7" fill="url(#pb)" stroke="#1d3d63" stroke-width="1.2"/>
<circle cx="319.3" cy="499.6" r="3.7" fill="url(#pg)" stroke="#1d3d63" stroke-width="1.2"/>
<circle cx="319.3" cy="490.8" r="3.7" fill="url(#pg)" stroke="#1d3d63" stroke-width="1.2"/>
<circle cx="319.8" cy="483.1" r="3.7" fill="url(#pg)" stroke="#1d3d63" stroke-width="1.2"/>
<circle cx="319.4" cy="474.2" r="3.7" fill="url(#pg)" stroke="#1d3d63" stroke-width="1.2"/>
<circle cx="319.9" cy="466.4" r="3.7" fill="url(#pb)" stroke="#1d3d63" stroke-width="1.2"/>
<circle cx="319.3" cy="457.8" r="3.7" fill="url(#pb)" stroke="#1d3d63" stroke-width="1.2"/>
<circle cx="319.4" cy="449.9" r="3.7" fill="url(#pb)" stroke="#1d3d63" stroke-width="1.2"/>
<circle cx="319.5" cy="441.7" r="3.7" fill="url(#pb)" stroke="#1d3d63" stroke-width="1.2"/>
<circle cx="320" cy="432.7" r="3.7" fill="url(#pb)" stroke="#1d3d63" stroke-width="1.2"/>
<circle cx="319.9" cy="424.7" r="3.7" fill="url(#pb)" stroke="#1d3d63" stroke-width="1.2"/>
<circle cx="320" cy="416.7" r="3.7" fill="url(#pg)" stroke="#1d3d63" stroke-width="1.2"/>
<circle cx="319.6" cy="407.8" r="3.7" fill="url(#pg)" stroke="#1d3d63" stroke-width="1.2"/>
<circle cx="320.2" cy="399.8" r="3.7" fill="url(#pb)" stroke="#1d3d63" stroke-width="1.2"/>
<circle cx="320.1" cy="391.7" r="3.7" fill="url(#pg)" stroke="#1d3d63" stroke-width="1.2"/>
<circle cx="320" cy="383.5" r="3.7" fill="url(#pg)" stroke="#1d3d63" stroke-width="1.2"/>
<circle cx="319.9" cy="374.9" r="3.7" fill="url(#pg)" stroke="#1d3d63" stroke-width="1.2"/>
<circle cx="319.4" cy="366.8" r="3.7" fill="url(#pg)" stroke="#1d3d63" stroke-width="1.2"/>
<circle cx="319.7" cy="358.4" r="3.7" fill="url(#pg)" stroke="#1d3d63" stroke-width="1.2"/>
<circle cx="320" cy="349.8" r="3.7" fill="url(#pg)" stroke="#1d3d63" stroke-width="1.2"/>
<circle cx="319.8" cy="341.4" r="3.7" fill="url(#pb)" stroke="#1d3d63" stroke-width="1.2"/>
<circle cx="319.7" cy="333.7" r="3.7" fill="url(#pg)" stroke="#1d3d63" stroke-width="1.2"/>
<circle cx="319.3" cy="325.2" r="3.7" fill="url(#pb)" stroke="#1d3d63" stroke-width="1.2"/>
<circle cx="326.9" cy="319.9" r="3.7" fill="url(#pg)" stroke="#1d3d63" stroke-width="1.2"/>
<circle cx="328.3" cy="311.6" r="3.7" fill="url(#pg)" stroke="#1d3d63" stroke-width="1.2"/>
<circle cx="332.1" cy="304.7" r="3.6" fill="url(#pg)" stroke="#1d3d63" stroke-width="1.2"/>
<circle cx="337.9" cy="298.9" r="3.5" fill="url(#pg)" stroke="#1d3d63" stroke-width="1.2"/>
<circle cx="344.2" cy="294.2" r="3.4" fill="url(#pg)" stroke="#1d3d63" stroke-width="1.2"/>
<circle cx="351.1" cy="291" r="3.3" fill="url(#pg)" stroke="#1d3d63" stroke-width="1.2"/>
<circle cx="357.4" cy="287.5" r="3.2" fill="url(#pg)" stroke="#1d3d63" stroke-width="1.2"/>
<circle cx="364.2" cy="285" r="3.2" fill="url(#pg)" stroke="#1d3d63" stroke-width="1.2"/>
<circle cx="371.1" cy="282.6" r="3.1" fill="url(#pg)" stroke="#1d3d63" stroke-width="1.2"/>
<circle cx="377.1" cy="280.8" r="3" fill="url(#pg)" stroke="#1d3d63" stroke-width="1.2"/>
<circle cx="383.2" cy="278.3" r="2.9" fill="url(#pg)" stroke="#1d3d63" stroke-width="1.2"/>
<circle cx="389.5" cy="276.7" r="2.8" fill="url(#pg)" stroke="#1d3d63" stroke-width="1.2"/>
<circle cx="395.8" cy="275.2" r="2.8" fill="url(#pg)" stroke="#1d3d63" stroke-width="1.2"/>
<circle cx="401.5" cy="274" r="2.7" fill="url(#pg)" stroke="#1d3d63" stroke-width="1.2"/>
<circle cx="407.8" cy="273" r="2.7" fill="url(#pg)" stroke="#1d3d63" stroke-width="1.2"/>
<circle cx="414" cy="272.7" r="2.7" fill="url(#pg)" stroke="#1d3d63" stroke-width="1.2"/>
<circle cx="419.4" cy="271.8" r="2.7" fill="url(#pg)" stroke="#1d3d63" stroke-width="1.2"/>
<circle cx="425.6" cy="271.4" r="2.7" fill="url(#pg)" stroke="#1d3d63" stroke-width="1.2"/>
<circle cx="431.3" cy="271.3" r="2.7" fill="url(#pg)" stroke="#1d3d63" stroke-width="1.2"/>
<circle cx="437.4" cy="271.5" r="2.7" fill="url(#pg)" stroke="#1d3d63" stroke-width="1.2"/>
<circle cx="443.6" cy="271.1" r="2.7" fill="url(#pb)" stroke="#1d3d63" stroke-width="1.2"/>
<circle cx="574.7" cy="271.9" r="2.7" fill="url(#pg)" stroke="#1d3d63" stroke-width="1.2"/>
<circle cx="580.7" cy="271.8" r="2.7" fill="url(#pg)" stroke="#1d3d63" stroke-width="1.2"/>
<circle cx="586.4" cy="271.9" r="2.7" fill="url(#pg)" stroke="#1d3d63" stroke-width="1.2"/>
<circle cx="593.1" cy="272.9" r="2.7" fill="url(#pg)" stroke="#1d3d63" stroke-width="1.2"/>
<circle cx="598.4" cy="273.5" r="2.7" fill="url(#pb)" stroke="#1d3d63" stroke-width="1.2"/>
<circle cx="605" cy="274.1" r="2.7" fill="url(#pg)" stroke="#1d3d63" stroke-width="1.2"/>
<circle cx="610.2" cy="275" r="2.7" fill="url(#pg)" stroke="#1d3d63" stroke-width="1.2"/>
<circle cx="616.3" cy="276.1" r="2.7" fill="url(#pb)" stroke="#1d3d63" stroke-width="1.2"/>
<circle cx="622.2" cy="277.5" r="2.8" fill="url(#pg)" stroke="#1d3d63" stroke-width="1.2"/>
<circle cx="628.3" cy="279.9" r="2.8" fill="url(#pg)" stroke="#1d3d63" stroke-width="1.2"/>
<circle cx="633.9" cy="282.4" r="2.9" fill="url(#pg)" stroke="#1d3d63" stroke-width="1.2"/>
<circle cx="639.7" cy="284.5" r="3" fill="url(#pg)" stroke="#1d3d63" stroke-width="1.2"/>
<circle cx="645.2" cy="287.3" r="3" fill="url(#pb)" stroke="#1d3d63" stroke-width="1.2"/>
<circle cx="650.9" cy="291.1" r="3.1" fill="url(#pg)" stroke="#1d3d63" stroke-width="1.2"/>
<circle cx="657.3" cy="294.7" r="3.2" fill="url(#pg)" stroke="#1d3d63" stroke-width="1.2"/>
<circle cx="662.1" cy="299.8" r="3.4" fill="url(#pg)" stroke="#1d3d63" stroke-width="1.2"/>
<circle cx="667.5" cy="305.6" r="3.5" fill="url(#pg)" stroke="#1d3d63" stroke-width="1.2"/>
<circle cx="671.4" cy="311.9" r="3.6" fill="url(#pg)" stroke="#1d3d63" stroke-width="1.2"/>
<circle cx="673.8" cy="319.5" r="3.7" fill="url(#pg)" stroke="#1d3d63" stroke-width="1.2"/>
<circle cx="673" cy="327.2" r="3.7" fill="url(#pg)" stroke="#1d3d63" stroke-width="1.2"/>
<circle cx="673.4" cy="335.6" r="3.7" fill="url(#pg)" stroke="#1d3d63" stroke-width="1.2"/>
<circle cx="673" cy="344.1" r="3.7" fill="url(#pg)" stroke="#1d3d63" stroke-width="1.2"/>
<circle cx="672.9" cy="352.7" r="3.7" fill="url(#pg)" stroke="#1d3d63" stroke-width="1.2"/>
<circle cx="672.8" cy="360.3" r="3.7" fill="url(#pg)" stroke="#1d3d63" stroke-width="1.2"/>
<circle cx="673" cy="369.1" r="3.7" fill="url(#pg)" stroke="#1d3d63" stroke-width="1.2"/>
<circle cx="673.2" cy="377.5" r="3.7" fill="url(#pg)" stroke="#1d3d63" stroke-width="1.2"/>
<circle cx="673.3" cy="385.9" r="3.7" fill="url(#pg)" stroke="#1d3d63" stroke-width="1.2"/>
<circle cx="672.9" cy="393.9" r="3.7" fill="url(#pg)" stroke="#1d3d63" stroke-width="1.2"/>
<circle cx="672.6" cy="402" r="3.7" fill="url(#pg)" stroke="#1d3d63" stroke-width="1.2"/>
<circle cx="673" cy="410.2" r="3.7" fill="url(#pg)" stroke="#1d3d63" stroke-width="1.2"/>
<circle cx="673" cy="418.5" r="3.7" fill="url(#pg)" stroke="#1d3d63" stroke-width="1.2"/>
<circle cx="672.8" cy="427.5" r="3.7" fill="url(#pg)" stroke="#1d3d63" stroke-width="1.2"/>
<circle cx="672.5" cy="435" r="3.7" fill="url(#pg)" stroke="#1d3d63" stroke-width="1.2"/>
<circle cx="672.8" cy="443.4" r="3.7" fill="url(#pg)" stroke="#1d3d63" stroke-width="1.2"/>
<circle cx="673" cy="451.6" r="3.7" fill="url(#pg)" stroke="#1d3d63" stroke-width="1.2"/>
<circle cx="673.1" cy="460.6" r="3.7" fill="url(#pg)" stroke="#1d3d63" stroke-width="1.2"/>
<circle cx="673" cy="468.5" r="3.7" fill="url(#pg)" stroke="#1d3d63" stroke-width="1.2"/>
<circle cx="672.6" cy="477" r="3.7" fill="url(#pg)" stroke="#1d3d63" stroke-width="1.2"/>
<circle cx="672.8" cy="485.1" r="3.7" fill="url(#pg)" stroke="#1d3d63" stroke-width="1.2"/>
<circle cx="672.7" cy="493.4" r="3.7" fill="url(#pg)" stroke="#1d3d63" stroke-width="1.2"/>
<circle cx="672.9" cy="502.1" r="3.7" fill="url(#pg)" stroke="#1d3d63" stroke-width="1.2"/>
<circle cx="673.1" cy="509.8" r="3.7" fill="url(#pg)" stroke="#1d3d63" stroke-width="1.2"/>
<circle cx="672.6" cy="518.3" r="3.7" fill="url(#pg)" stroke="#1d3d63" stroke-width="1.2"/>
<circle cx="672.9" cy="526.6" r="3.7" fill="url(#pg)" stroke="#1d3d63" stroke-width="1.2"/>
<circle cx="672.6" cy="534.7" r="3.7" fill="url(#pg)" stroke="#1d3d63" stroke-width="1.2"/>
<circle cx="672.7" cy="543.3" r="3.7" fill="url(#pg)" stroke="#1d3d63" stroke-width="1.2"/>
<circle cx="673.2" cy="551.9" r="3.7" fill="url(#pg)" stroke="#1d3d63" stroke-width="1.2"/>
<circle cx="673.2" cy="560.3" r="3.7" fill="url(#pg)" stroke="#1d3d63" stroke-width="1.2"/>
<circle cx="673.6" cy="568.3" r="3.7" fill="url(#pg)" stroke="#1d3d63" stroke-width="1.2"/>
<circle cx="668" cy="572.5" r="3.7" fill="url(#pg)" stroke="#1d3d63" stroke-width="1.2"/>
<circle cx="660.6" cy="576.7" r="3.6" fill="url(#pg)" stroke="#1d3d63" stroke-width="1.2"/>
<circle cx="653.4" cy="580.5" r="3.4" fill="url(#pg)" stroke="#1d3d63" stroke-width="1.2"/>
<circle cx="647.3" cy="584.2" r="3.3" fill="url(#pg)" stroke="#1d3d63" stroke-width="1.2"/>
<circle cx="640.7" cy="587.6" r="3.2" fill="url(#pg)" stroke="#1d3d63" stroke-width="1.2"/>
<circle cx="634.4" cy="591.5" r="3.1" fill="url(#pg)" stroke="#1d3d63" stroke-width="1.2"/>
<circle cx="628.2" cy="594.3" r="2.9" fill="url(#pg)" stroke="#1d3d63" stroke-width="1.2"/>
<circle cx="623" cy="597.7" r="2.9" fill="url(#pg)" stroke="#1d3d63" stroke-width="1.2"/>
<circle cx="617" cy="600.8" r="2.8" fill="url(#pg)" stroke="#1d3d63" stroke-width="1.2"/>
<circle cx="611.7" cy="603.4" r="2.7" fill="url(#pg)" stroke="#1d3d63" stroke-width="1.2"/>
<circle cx="606.2" cy="605.9" r="2.7" fill="url(#pg)" stroke="#1d3d63" stroke-width="1.2"/>
<circle cx="600.8" cy="608.2" r="2.7" fill="url(#pg)" stroke="#1d3d63" stroke-width="1.2"/>
<circle cx="595" cy="610.4" r="2.7" fill="url(#pg)" stroke="#1d3d63" stroke-width="1.2"/>
<circle cx="590.1" cy="613.1" r="2.7" fill="url(#pg)" stroke="#1d3d63" stroke-width="1.2"/>
<circle cx="584.1" cy="615.8" r="2.7" fill="url(#pg)" stroke="#1d3d63" stroke-width="1.2"/>
<circle cx="578.8" cy="617.7" r="2.7" fill="url(#pg)" stroke="#1d3d63" stroke-width="1.2"/>
<circle cx="573.6" cy="620.5" r="2.7" fill="url(#pb)" stroke="#1d3d63" stroke-width="1.2"/>
<circle cx="568.3" cy="623.5" r="2.7" fill="url(#pg)" stroke="#1d3d63" stroke-width="1.2"/>
<circle cx="562.9" cy="626.5" r="2.7" fill="url(#pg)" stroke="#1d3d63" stroke-width="1.2"/>
<circle cx="557.7" cy="629.5" r="2.7" fill="url(#pg)" stroke="#1d3d63" stroke-width="1.2"/>
<circle cx="553" cy="632.3" r="2.7" fill="url(#pg)" stroke="#1d3d63" stroke-width="1.2"/>
<circle cx="547.9" cy="635.7" r="2.7" fill="url(#pg)" stroke="#1d3d63" stroke-width="1.2"/>
<circle cx="543" cy="639.7" r="2.7" fill="url(#pg)" stroke="#1d3d63" stroke-width="1.2"/>
<circle cx="538.2" cy="643.1" r="2.7" fill="url(#pg)" stroke="#1d3d63" stroke-width="1.2"/>
<circle cx="533.6" cy="646.1" r="2.7" fill="url(#pg)" stroke="#1d3d63" stroke-width="1.2"/>
<circle cx="528.9" cy="650.1" r="2.7" fill="url(#pg)" stroke="#1d3d63" stroke-width="1.2"/>
<circle cx="523.3" cy="653.6" r="2.7" fill="url(#pg)" stroke="#1d3d63" stroke-width="1.2"/>
<circle cx="518.5" cy="656.4" r="2.8" fill="url(#pg)" stroke="#1d3d63" stroke-width="1.2"/>
<circle cx="513.8" cy="660.2" r="2.8" fill="url(#pg)" stroke="#1d3d63" stroke-width="1.2"/>
<circle cx="507.7" cy="660.7" r="2.8" fill="url(#pg)" stroke="#1d3d63" stroke-width="1.2"/>
<circle cx="501.5" cy="660.6" r="2.8" fill="url(#pg)" stroke="#1d3d63" stroke-width="1.2"/>
<circle cx="494.7" cy="660.7" r="2.9" fill="url(#pg)" stroke="#1d3d63" stroke-width="1.2"/>
<circle cx="488.2" cy="660.8" r="2.9" fill="url(#pg)" stroke="#1d3d63" stroke-width="1.2"/>
<circle cx="482" cy="660.6" r="2.9" fill="url(#pg)" stroke="#1d3d63" stroke-width="1.2"/>
<circle cx="476.1" cy="660.7" r="2.9" fill="url(#pg)" stroke="#1d3d63" stroke-width="1.2"/>
<circle cx="469.8" cy="661" r="2.9" fill="url(#pg)" stroke="#1d3d63" stroke-width="1.2"/>
<circle cx="463.4" cy="661" r="2.9" fill="url(#pg)" stroke="#1d3d63" stroke-width="1.2"/>
<circle cx="457" cy="661.5" r="2.9" fill="url(#pg)" stroke="#1d3d63" stroke-width="1.2"/>
<circle cx="450.6" cy="659.2" r="2.9" fill="url(#pg)" stroke="#1d3d63" stroke-width="1.2"/>
<circle cx="445.3" cy="656" r="2.9" fill="url(#pg)" stroke="#1d3d63" stroke-width="1.2"/>
<circle cx="439.9" cy="653" r="2.9" fill="url(#pg)" stroke="#1d3d63" stroke-width="1.2"/>
<circle cx="433.8" cy="649.6" r="2.8" fill="url(#pg)" stroke="#1d3d63" stroke-width="1.2"/>
<circle cx="428.8" cy="647.1" r="2.8" fill="url(#pg)" stroke="#1d3d63" stroke-width="1.2"/>
<circle cx="423.2" cy="643.5" r="2.8" fill="url(#pg)" stroke="#1d3d63" stroke-width="1.2"/>
<circle cx="417.6" cy="640.6" r="2.8" fill="url(#pg)" stroke="#1d3d63" stroke-width="1.2"/>
<circle cx="412" cy="638.2" r="2.9" fill="url(#pg)" stroke="#1d3d63" stroke-width="1.2"/>
<circle cx="406.1" cy="635.3" r="2.9" fill="url(#pg)" stroke="#1d3d63" stroke-width="1.2"/>
<circle cx="400.9" cy="631.8" r="2.9" fill="url(#pg)" stroke="#1d3d63" stroke-width="1.2"/>
<circle cx="394.8" cy="628.9" r="3" fill="url(#pg)" stroke="#1d3d63" stroke-width="1.2"/>
<circle cx="389.6" cy="625.9" r="3" fill="url(#pg)" stroke="#1d3d63" stroke-width="1.2"/>
<circle cx="383.1" cy="622.4" r="3.1" fill="url(#pg)" stroke="#1d3d63" stroke-width="1.2"/>
<circle cx="377.2" cy="619.8" r="3.1" fill="url(#pg)" stroke="#1d3d63" stroke-width="1.2"/>
<circle cx="371.1" cy="616.3" r="3.2" fill="url(#pg)" stroke="#1d3d63" stroke-width="1.2"/>
<circle cx="364.9" cy="613.1" r="3.3" fill="url(#pg)" stroke="#1d3d63" stroke-width="1.2"/>
<circle cx="358.6" cy="609.3" r="3.4" fill="url(#pg)" stroke="#1d3d63" stroke-width="1.2"/>
<circle cx="352.4" cy="606.1" r="3.5" fill="url(#pg)" stroke="#1d3d63" stroke-width="1.2"/>
<circle cx="345.4" cy="602.7" r="3.6" fill="url(#pg)" stroke="#1d3d63" stroke-width="1.2"/>
<circle cx="338.4" cy="598.6" r="3.7" fill="url(#pg)" stroke="#1d3d63" stroke-width="1.2"/>
<circle cx="330.4" cy="595.5" r="3.7" fill="url(#pg)" stroke="#1d3d63" stroke-width="1.2"/>
<circle cx="325.2" cy="591.5" r="3.7" fill="url(#pg)" stroke="#1d3d63" stroke-width="1.2"/>
<circle cx="325.6" cy="582.5" r="3.7" fill="url(#pg)" stroke="#1d3d63" stroke-width="1.2"/>
<circle cx="325.2" cy="574.8" r="3.7" fill="url(#pg)" stroke="#1d3d63" stroke-width="1.2"/>
<circle cx="325.8" cy="566.2" r="3.7" fill="url(#pg)" stroke="#1d3d63" stroke-width="1.2"/>
<circle cx="325.7" cy="557.7" r="3.7" fill="url(#pg)" stroke="#1d3d63" stroke-width="1.2"/>
<circle cx="326.2" cy="549.6" r="3.7" fill="url(#pg)" stroke="#1d3d63" stroke-width="1.2"/>
<circle cx="326.3" cy="541.5" r="3.7" fill="url(#pg)" stroke="#1d3d63" stroke-width="1.2"/>
<circle cx="325.8" cy="532.9" r="3.7" fill="url(#pg)" stroke="#1d3d63" stroke-width="1.2"/>
<circle cx="326" cy="525.1" r="3.7" fill="url(#pg)" stroke="#1d3d63" stroke-width="1.2"/>
<circle cx="326.4" cy="516.1" r="3.7" fill="url(#pg)" stroke="#1d3d63" stroke-width="1.2"/>
<circle cx="326.2" cy="508.1" r="3.7" fill="url(#pg)" stroke="#1d3d63" stroke-width="1.2"/>
<circle cx="326.5" cy="499.9" r="3.7" fill="url(#pg)" stroke="#1d3d63" stroke-width="1.2"/>
<circle cx="326.6" cy="491.5" r="3.7" fill="url(#pg)" stroke="#1d3d63" stroke-width="1.2"/>
<circle cx="326.3" cy="483.3" r="3.7" fill="url(#pg)" stroke="#1d3d63" stroke-width="1.2"/>
<circle cx="326.7" cy="474.6" r="3.7" fill="url(#pg)" stroke="#1d3d63" stroke-width="1.2"/>
<circle cx="326.8" cy="467.1" r="3.7" fill="url(#pg)" stroke="#1d3d63" stroke-width="1.2"/>
<circle cx="326.6" cy="458.1" r="3.7" fill="url(#pb)" stroke="#1d3d63" stroke-width="1.2"/>
<circle cx="327.1" cy="449.9" r="3.7" fill="url(#pg)" stroke="#1d3d63" stroke-width="1.2"/>
<circle cx="326.8" cy="441.8" r="3.7" fill="url(#pg)" stroke="#1d3d63" stroke-width="1.2"/>
<circle cx="326.9" cy="433.5" r="3.7" fill="url(#pg)" stroke="#1d3d63" stroke-width="1.2"/>
<circle cx="327.1" cy="425.5" r="3.7" fill="url(#pg)" stroke="#1d3d63" stroke-width="1.2"/>
<circle cx="327.5" cy="416.5" r="3.7" fill="url(#pg)" stroke="#1d3d63" stroke-width="1.2"/>
<circle cx="327.1" cy="408.8" r="3.7" fill="url(#pg)" stroke="#1d3d63" stroke-width="1.2"/>
<circle cx="327.4" cy="400.5" r="3.7" fill="url(#pg)" stroke="#1d3d63" stroke-width="1.2"/>
<circle cx="327.2" cy="392.1" r="3.7" fill="url(#pg)" stroke="#1d3d63" stroke-width="1.2"/>
<circle cx="327" cy="383.5" r="3.7" fill="url(#pg)" stroke="#1d3d63" stroke-width="1.2"/>
<circle cx="327.3" cy="375.7" r="3.7" fill="url(#pg)" stroke="#1d3d63" stroke-width="1.2"/>
<circle cx="327.4" cy="367.2" r="3.7" fill="url(#pg)" stroke="#1d3d63" stroke-width="1.2"/>
<circle cx="326.8" cy="359" r="3.7" fill="url(#pg)" stroke="#1d3d63" stroke-width="1.2"/>
<circle cx="327.1" cy="350.5" r="3.7" fill="url(#pg)" stroke="#1d3d63" stroke-width="1.2"/>
<circle cx="327" cy="342.1" r="3.7" fill="url(#pg)" stroke="#1d3d63" stroke-width="1.2"/>
<circle cx="326.9" cy="333.8" r="3.7" fill="url(#pg)" stroke="#1d3d63" stroke-width="1.2"/>
<circle cx="326.4" cy="325.5" r="3.7" fill="url(#pg)" stroke="#1d3d63" stroke-width="1.2"/>
<circle cx="334" cy="317.6" r="3.7" fill="url(#pg)" stroke="#1d3d63" stroke-width="1.2"/>
<circle cx="337" cy="309.5" r="3.7" fill="url(#pg)" stroke="#1d3d63" stroke-width="1.2"/>
<circle cx="341.8" cy="303" r="3.6" fill="url(#pg)" stroke="#1d3d63" stroke-width="1.2"/>
<circle cx="347.9" cy="297.8" r="3.5" fill="url(#pg)" stroke="#1d3d63" stroke-width="1.2"/>
<circle cx="354.2" cy="294.4" r="3.4" fill="url(#pg)" stroke="#1d3d63" stroke-width="1.2"/>
<circle cx="361.2" cy="290.9" r="3.3" fill="url(#pg)" stroke="#1d3d63" stroke-width="1.2"/>
<circle cx="368" cy="288" r="3.2" fill="url(#pg)" stroke="#1d3d63" stroke-width="1.2"/>
<circle cx="374.3" cy="285.5" r="3.1" fill="url(#pg)" stroke="#1d3d63" stroke-width="1.2"/>
<circle cx="380.9" cy="283.4" r="3" fill="url(#pg)" stroke="#1d3d63" stroke-width="1.2"/>
<circle cx="387.5" cy="281.5" r="2.9" fill="url(#pg)" stroke="#1d3d63" stroke-width="1.2"/>
<circle cx="393.9" cy="279.4" r="2.8" fill="url(#pg)" stroke="#1d3d63" stroke-width="1.2"/>
<circle cx="400" cy="278.2" r="2.8" fill="url(#pg)" stroke="#1d3d63" stroke-width="1.2"/>
<circle cx="405.4" cy="276.8" r="2.7" fill="url(#pg)" stroke="#1d3d63" stroke-width="1.2"/>
<circle cx="411.8" cy="276.7" r="2.7" fill="url(#pg)" stroke="#1d3d63" stroke-width="1.2"/>
<circle cx="417.6" cy="276" r="2.7" fill="url(#pg)" stroke="#1d3d63" stroke-width="1.2"/>
<circle cx="602.4" cy="277.4" r="2.7" fill="url(#pg)" stroke="#1d3d63" stroke-width="1.2"/>
<circle cx="608" cy="278.1" r="2.7" fill="url(#pg)" stroke="#1d3d63" stroke-width="1.2"/>
<circle cx="614.5" cy="279.2" r="2.7" fill="url(#pg)" stroke="#1d3d63" stroke-width="1.2"/>
<circle cx="619.9" cy="280.7" r="2.8" fill="url(#pg)" stroke="#1d3d63" stroke-width="1.2"/>
<circle cx="625.6" cy="282.9" r="2.8" fill="url(#pg)" stroke="#1d3d63" stroke-width="1.2"/>
<circle cx="631.8" cy="285.3" r="2.9" fill="url(#pg)" stroke="#1d3d63" stroke-width="1.2"/>
<circle cx="637.4" cy="288" r="3" fill="url(#pg)" stroke="#1d3d63" stroke-width="1.2"/>
<circle cx="643.4" cy="291.7" r="3.1" fill="url(#pg)" stroke="#1d3d63" stroke-width="1.2"/>
<circle cx="649.3" cy="294.8" r="3.2" fill="url(#pg)" stroke="#1d3d63" stroke-width="1.2"/>
<circle cx="654.7" cy="300" r="3.3" fill="url(#pg)" stroke="#1d3d63" stroke-width="1.2"/>
<circle cx="659.5" cy="304.9" r="3.5" fill="url(#pg)" stroke="#1d3d63" stroke-width="1.2"/>
<circle cx="664.2" cy="311.8" r="3.6" fill="url(#pg)" stroke="#1d3d63" stroke-width="1.2"/>
<circle cx="666.4" cy="318.6" r="3.7" fill="url(#pg)" stroke="#1d3d63" stroke-width="1.2"/>
<circle cx="665.7" cy="327.1" r="3.7" fill="url(#pg)" stroke="#1d3d63" stroke-width="1.2"/>
<circle cx="666.2" cy="335.4" r="3.7" fill="url(#pg)" stroke="#1d3d63" stroke-width="1.2"/>
<circle cx="666.2" cy="343.4" r="3.7" fill="url(#pg)" stroke="#1d3d63" stroke-width="1.2"/>
<circle cx="665.6" cy="352.1" r="3.7" fill="url(#pg)" stroke="#1d3d63" stroke-width="1.2"/>
<circle cx="665.9" cy="360.2" r="3.7" fill="url(#pg)" stroke="#1d3d63" stroke-width="1.2"/>
<circle cx="665.9" cy="368.4" r="3.7" fill="url(#pg)" stroke="#1d3d63" stroke-width="1.2"/>
<circle cx="665.3" cy="376.8" r="3.7" fill="url(#pg)" stroke="#1d3d63" stroke-width="1.2"/>
<circle cx="665.3" cy="385.2" r="3.7" fill="url(#pg)" stroke="#1d3d63" stroke-width="1.2"/>
<circle cx="665.5" cy="393.4" r="3.7" fill="url(#pg)" stroke="#1d3d63" stroke-width="1.2"/>
<circle cx="665.7" cy="401.5" r="3.7" fill="url(#pg)" stroke="#1d3d63" stroke-width="1.2"/>
<circle cx="665.6" cy="409.6" r="3.7" fill="url(#pg)" stroke="#1d3d63" stroke-width="1.2"/>
<circle cx="665.9" cy="418.4" r="3.7" fill="url(#pg)" stroke="#1d3d63" stroke-width="1.2"/>
<circle cx="666" cy="426.3" r="3.7" fill="url(#pg)" stroke="#1d3d63" stroke-width="1.2"/>
<circle cx="665.7" cy="435.1" r="3.7" fill="url(#pg)" stroke="#1d3d63" stroke-width="1.2"/>
<circle cx="665.4" cy="442.9" r="3.7" fill="url(#pg)" stroke="#1d3d63" stroke-width="1.2"/>
<circle cx="665.3" cy="451.2" r="3.7" fill="url(#pg)" stroke="#1d3d63" stroke-width="1.2"/>
<circle cx="665.7" cy="459.5" r="3.7" fill="url(#pg)" stroke="#1d3d63" stroke-width="1.2"/>
<circle cx="665.8" cy="468.1" r="3.7" fill="url(#pg)" stroke="#1d3d63" stroke-width="1.2"/>
<circle cx="665.5" cy="476.5" r="3.7" fill="url(#pg)" stroke="#1d3d63" stroke-width="1.2"/>
<circle cx="665.6" cy="484.9" r="3.7" fill="url(#pg)" stroke="#1d3d63" stroke-width="1.2"/>
<circle cx="665.6" cy="492.9" r="3.7" fill="url(#pb)" stroke="#1d3d63" stroke-width="1.2"/>
<circle cx="665.7" cy="501.1" r="3.7" fill="url(#pg)" stroke="#1d3d63" stroke-width="1.2"/>
<circle cx="665.7" cy="509.8" r="3.7" fill="url(#pg)" stroke="#1d3d63" stroke-width="1.2"/>
<circle cx="665.7" cy="517.8" r="3.7" fill="url(#pg)" stroke="#1d3d63" stroke-width="1.2"/>
<circle cx="665.7" cy="526.6" r="3.7" fill="url(#pg)" stroke="#1d3d63" stroke-width="1.2"/>
<circle cx="665.5" cy="534.3" r="3.7" fill="url(#pg)" stroke="#1d3d63" stroke-width="1.2"/>
<circle cx="665.5" cy="543.2" r="3.7" fill="url(#pg)" stroke="#1d3d63" stroke-width="1.2"/>
<circle cx="665.2" cy="550.7" r="3.7" fill="url(#pg)" stroke="#1d3d63" stroke-width="1.2"/>
<circle cx="665.6" cy="559.6" r="3.7" fill="url(#pg)" stroke="#1d3d63" stroke-width="1.2"/>
<circle cx="666.2" cy="567.6" r="3.7" fill="url(#pg)" stroke="#1d3d63" stroke-width="1.2"/>
<circle cx="661" cy="572.2" r="3.7" fill="url(#pg)" stroke="#1d3d63" stroke-width="1.2"/>
<circle cx="653.5" cy="575.7" r="3.6" fill="url(#pg)" stroke="#1d3d63" stroke-width="1.2"/>
<circle cx="646" cy="579.6" r="3.4" fill="url(#pg)" stroke="#1d3d63" stroke-width="1.2"/>
<circle cx="639.4" cy="583.5" r="3.3" fill="url(#pg)" stroke="#1d3d63" stroke-width="1.2"/>
<circle cx="633.5" cy="586.8" r="3.1" fill="url(#pg)" stroke="#1d3d63" stroke-width="1.2"/>
<circle cx="627.8" cy="590.3" r="3" fill="url(#pg)" stroke="#1d3d63" stroke-width="1.2"/>
<circle cx="621.2" cy="593.5" r="2.9" fill="url(#pg)" stroke="#1d3d63" stroke-width="1.2"/>
<circle cx="616" cy="597.1" r="2.8" fill="url(#pg)" stroke="#1d3d63" stroke-width="1.2"/>
<circle cx="609.9" cy="599.2" r="2.8" fill="url(#pg)" stroke="#1d3d63" stroke-width="1.2"/>
<circle cx="604.9" cy="601.9" r="2.7" fill="url(#pg)" stroke="#1d3d63" stroke-width="1.2"/>
<circle cx="599.5" cy="604.5" r="2.7" fill="url(#pg)" stroke="#1d3d63" stroke-width="1.2"/>
<circle cx="593.6" cy="606.5" r="2.7" fill="url(#pg)" stroke="#1d3d63" stroke-width="1.2"/>
<circle cx="588.2" cy="608.9" r="2.7" fill="url(#pg)" stroke="#1d3d63" stroke-width="1.2"/>
<circle cx="540.9" cy="635" r="2.7" fill="url(#pg)" stroke="#1d3d63" stroke-width="1.2"/>
<circle cx="535.9" cy="638.5" r="2.7" fill="url(#pg)" stroke="#1d3d63" stroke-width="1.2"/>
<circle cx="531.1" cy="642" r="2.7" fill="url(#pg)" stroke="#1d3d63" stroke-width="1.2"/>
<circle cx="526.6" cy="645.8" r="2.7" fill="url(#pg)" stroke="#1d3d63" stroke-width="1.2"/>
<circle cx="521.4" cy="649" r="2.7" fill="url(#pg)" stroke="#1d3d63" stroke-width="1.2"/>
<circle cx="516.6" cy="652.7" r="2.8" fill="url(#pg)" stroke="#1d3d63" stroke-width="1.2"/>
<circle cx="511.9" cy="655.7" r="2.8" fill="url(#pg)" stroke="#1d3d63" stroke-width="1.2"/>
<circle cx="505" cy="655.2" r="2.8" fill="url(#pg)" stroke="#1d3d63" stroke-width="1.2"/>
<circle cx="498.8" cy="655.3" r="2.9" fill="url(#pg)" stroke="#1d3d63" stroke-width="1.2"/>
<circle cx="492.4" cy="655" r="2.9" fill="url(#pg)" stroke="#1d3d63" stroke-width="1.2"/>
<circle cx="486.5" cy="655.3" r="2.9" fill="url(#pg)" stroke="#1d3d63" stroke-width="1.2"/>
<circle cx="479.7" cy="655.6" r="2.9" fill="url(#pg)" stroke="#1d3d63" stroke-width="1.2"/>
<circle cx="473.3" cy="655.3" r="2.9" fill="url(#pg)" stroke="#1d3d63" stroke-width="1.2"/>
<circle cx="466.8" cy="655.7" r="2.9" fill="url(#pg)" stroke="#1d3d63" stroke-width="1.2"/>
<circle cx="461" cy="655.4" r="2.9" fill="url(#pg)" stroke="#1d3d63" stroke-width="1.2"/>
<circle cx="454.7" cy="655.2" r="2.9" fill="url(#pg)" stroke="#1d3d63" stroke-width="1.2"/>
<circle cx="448.9" cy="651.4" r="2.9" fill="url(#pg)" stroke="#1d3d63" stroke-width="1.2"/>
<circle cx="443.4" cy="648.8" r="2.9" fill="url(#pg)" stroke="#1d3d63" stroke-width="1.2"/>
<circle cx="437.6" cy="645.6" r="2.9" fill="url(#pg)" stroke="#1d3d63" stroke-width="1.2"/>
<circle cx="432.4" cy="642.5" r="2.8" fill="url(#pg)" stroke="#1d3d63" stroke-width="1.2"/>
<circle cx="426.8" cy="639.9" r="2.8" fill="url(#pg)" stroke="#1d3d63" stroke-width="1.2"/>
<circle cx="421" cy="636.9" r="2.8" fill="url(#pg)" stroke="#1d3d63" stroke-width="1.2"/>
<circle cx="415.5" cy="633.9" r="2.9" fill="url(#pg)" stroke="#1d3d63" stroke-width="1.2"/>
<circle cx="410.4" cy="630.4" r="2.9" fill="url(#pg)" stroke="#1d3d63" stroke-width="1.2"/>
<circle cx="404.7" cy="628.1" r="2.9" fill="url(#pg)" stroke="#1d3d63" stroke-width="1.2"/>
<circle cx="398.6" cy="624.3" r="3" fill="url(#pg)" stroke="#1d3d63" stroke-width="1.2"/>
<circle cx="392.7" cy="622" r="3" fill="url(#pg)" stroke="#1d3d63" stroke-width="1.2"/>
<circle cx="386.7" cy="618.8" r="3.1" fill="url(#pg)" stroke="#1d3d63" stroke-width="1.2"/>
<circle cx="380.8" cy="615.5" r="3.1" fill="url(#pg)" stroke="#1d3d63" stroke-width="1.2"/>
<circle cx="374.6" cy="611.8" r="3.2" fill="url(#pg)" stroke="#1d3d63" stroke-width="1.2"/>
<circle cx="368.8" cy="608.4" r="3.3" fill="url(#pg)" stroke="#1d3d63" stroke-width="1.2"/>
<circle cx="362" cy="605.6" r="3.4" fill="url(#pg)" stroke="#1d3d63" stroke-width="1.2"/>
<circle cx="355.6" cy="602" r="3.5" fill="url(#pg)" stroke="#1d3d63" stroke-width="1.2"/>
<circle cx="348.8" cy="597.8" r="3.7" fill="url(#pg)" stroke="#1d3d63" stroke-width="1.2"/>
<circle cx="340.8" cy="595.2" r="3.7" fill="url(#pb)" stroke="#1d3d63" stroke-width="1.2"/>
<circle cx="333.5" cy="591.7" r="3.7" fill="url(#pg)" stroke="#1d3d63" stroke-width="1.2"/>
<circle cx="332.3" cy="584.4" r="3.7" fill="url(#pg)" stroke="#1d3d63" stroke-width="1.2"/>
<circle cx="332.4" cy="576" r="3.7" fill="url(#pg)" stroke="#1d3d63" stroke-width="1.2"/>
<circle cx="332.3" cy="568.4" r="3.7" fill="url(#pg)" stroke="#1d3d63" stroke-width="1.2"/>
<circle cx="332.7" cy="560" r="3.7" fill="url(#pg)" stroke="#1d3d63" stroke-width="1.2"/>
<circle cx="332.7" cy="551.4" r="3.7" fill="url(#pg)" stroke="#1d3d63" stroke-width="1.2"/>
<circle cx="332.8" cy="543" r="3.7" fill="url(#pg)" stroke="#1d3d63" stroke-width="1.2"/>
<circle cx="333" cy="534.9" r="3.7" fill="url(#pg)" stroke="#1d3d63" stroke-width="1.2"/>
<circle cx="333.1" cy="526.7" r="3.7" fill="url(#pg)" stroke="#1d3d63" stroke-width="1.2"/>
<circle cx="333.5" cy="517.9" r="3.7" fill="url(#pg)" stroke="#1d3d63" stroke-width="1.2"/>
<circle cx="333.5" cy="509.9" r="3.7" fill="url(#pg)" stroke="#1d3d63" stroke-width="1.2"/>
<circle cx="334.1" cy="501.5" r="3.7" fill="url(#pg)" stroke="#1d3d63" stroke-width="1.2"/>
<circle cx="333.6" cy="493.7" r="3.7" fill="url(#pg)" stroke="#1d3d63" stroke-width="1.2"/>
<circle cx="334.2" cy="485.2" r="3.7" fill="url(#pg)" stroke="#1d3d63" stroke-width="1.2"/>
<circle cx="333.8" cy="476.4" r="3.7" fill="url(#pg)" stroke="#1d3d63" stroke-width="1.2"/>
<circle cx="333.9" cy="468.1" r="3.7" fill="url(#pg)" stroke="#1d3d63" stroke-width="1.2"/>
<circle cx="333.8" cy="460.1" r="3.7" fill="url(#pg)" stroke="#1d3d63" stroke-width="1.2"/>
<circle cx="334.2" cy="451.9" r="3.7" fill="url(#pg)" stroke="#1d3d63" stroke-width="1.2"/>
<circle cx="334.2" cy="443.1" r="3.7" fill="url(#pg)" stroke="#1d3d63" stroke-width="1.2"/>
<circle cx="334.5" cy="435.3" r="3.7" fill="url(#pg)" stroke="#1d3d63" stroke-width="1.2"/>
<circle cx="334.4" cy="426.9" r="3.7" fill="url(#pg)" stroke="#1d3d63" stroke-width="1.2"/>
<circle cx="334.5" cy="419" r="3.7" fill="url(#pg)" stroke="#1d3d63" stroke-width="1.2"/>
<circle cx="334.7" cy="410.5" r="3.7" fill="url(#pg)" stroke="#1d3d63" stroke-width="1.2"/>
<circle cx="334.3" cy="401.9" r="3.7" fill="url(#pg)" stroke="#1d3d63" stroke-width="1.2"/>
<circle cx="334.3" cy="394.1" r="3.7" fill="url(#pg)" stroke="#1d3d63" stroke-width="1.2"/>
<circle cx="334.3" cy="385.3" r="3.7" fill="url(#pg)" stroke="#1d3d63" stroke-width="1.2"/>
<circle cx="334.3" cy="376.8" r="3.7" fill="url(#pg)" stroke="#1d3d63" stroke-width="1.2"/>
<circle cx="334.7" cy="368.4" r="3.7" fill="url(#pg)" stroke="#1d3d63" stroke-width="1.2"/>
<circle cx="334.4" cy="360.8" r="3.7" fill="url(#pg)" stroke="#1d3d63" stroke-width="1.2"/>
<circle cx="334" cy="352.3" r="3.7" fill="url(#pg)" stroke="#1d3d63" stroke-width="1.2"/>
<circle cx="334.1" cy="343.7" r="3.7" fill="url(#pg)" stroke="#1d3d63" stroke-width="1.2"/>
<circle cx="333.9" cy="335.3" r="3.7" fill="url(#pg)" stroke="#1d3d63" stroke-width="1.2"/>
<circle cx="334.3" cy="327.5" r="3.7" fill="url(#pg)" stroke="#1d3d63" stroke-width="1.2"/>
<circle cx="341.2" cy="321.3" r="3.7" fill="url(#pg)" stroke="#1d3d63" stroke-width="1.2"/>
<circle cx="659.5" cy="319.3" r="3.7" fill="url(#pb)" stroke="#1d3d63" stroke-width="1.2"/>
<circle cx="658.8" cy="327.6" r="3.7" fill="url(#pg)" stroke="#1d3d63" stroke-width="1.2"/>
<circle cx="658.5" cy="336.3" r="3.7" fill="url(#pg)" stroke="#1d3d63" stroke-width="1.2"/>
<circle cx="658.2" cy="344.4" r="3.7" fill="url(#pg)" stroke="#1d3d63" stroke-width="1.2"/>
<circle cx="658.8" cy="352.5" r="3.7" fill="url(#pg)" stroke="#1d3d63" stroke-width="1.2"/>
<circle cx="658.6" cy="361.2" r="3.7" fill="url(#pg)" stroke="#1d3d63" stroke-width="1.2"/>
<circle cx="658.2" cy="369.2" r="3.7" fill="url(#pg)" stroke="#1d3d63" stroke-width="1.2"/>
<circle cx="658.6" cy="377.3" r="3.7" fill="url(#pg)" stroke="#1d3d63" stroke-width="1.2"/>
<circle cx="658.6" cy="385.6" r="3.7" fill="url(#pg)" stroke="#1d3d63" stroke-width="1.2"/>
<circle cx="658.4" cy="394.1" r="3.7" fill="url(#pg)" stroke="#1d3d63" stroke-width="1.2"/>
<circle cx="658.5" cy="402.1" r="3.7" fill="url(#pg)" stroke="#1d3d63" stroke-width="1.2"/>
<circle cx="658.4" cy="410.6" r="3.7" fill="url(#pg)" stroke="#1d3d63" stroke-width="1.2"/>
<circle cx="658.1" cy="419" r="3.7" fill="url(#pg)" stroke="#1d3d63" stroke-width="1.2"/>
<circle cx="658.1" cy="427.5" r="3.7" fill="url(#pg)" stroke="#1d3d63" stroke-width="1.2"/>
<circle cx="658.2" cy="435.7" r="3.7" fill="url(#pg)" stroke="#1d3d63" stroke-width="1.2"/>
<circle cx="658.3" cy="443.8" r="3.7" fill="url(#pg)" stroke="#1d3d63" stroke-width="1.2"/>
<circle cx="658" cy="451.8" r="3.7" fill="url(#pg)" stroke="#1d3d63" stroke-width="1.2"/>
<circle cx="658.6" cy="460.4" r="3.7" fill="url(#pg)" stroke="#1d3d63" stroke-width="1.2"/>
<circle cx="658.2" cy="468.7" r="3.7" fill="url(#pg)" stroke="#1d3d63" stroke-width="1.2"/>
<circle cx="658.5" cy="476.8" r="3.7" fill="url(#pg)" stroke="#1d3d63" stroke-width="1.2"/>
<circle cx="657.9" cy="485.5" r="3.7" fill="url(#pg)" stroke="#1d3d63" stroke-width="1.2"/>
<circle cx="658.2" cy="493.7" r="3.7" fill="url(#pg)" stroke="#1d3d63" stroke-width="1.2"/>
<circle cx="658.5" cy="502.2" r="3.7" fill="url(#pg)" stroke="#1d3d63" stroke-width="1.2"/>
<circle cx="658.5" cy="509.8" r="3.7" fill="url(#pg)" stroke="#1d3d63" stroke-width="1.2"/>
<circle cx="658.1" cy="518.7" r="3.7" fill="url(#pg)" stroke="#1d3d63" stroke-width="1.2"/>
<circle cx="658.5" cy="526.5" r="3.7" fill="url(#pg)" stroke="#1d3d63" stroke-width="1.2"/>
<circle cx="657.9" cy="534.9" r="3.7" fill="url(#pg)" stroke="#1d3d63" stroke-width="1.2"/>
<circle cx="657.9" cy="543.3" r="3.7" fill="url(#pg)" stroke="#1d3d63" stroke-width="1.2"/>
<circle cx="658.5" cy="551.7" r="3.7" fill="url(#pg)" stroke="#1d3d63" stroke-width="1.2"/>
<circle cx="658.3" cy="559.6" r="3.7" fill="url(#pg)" stroke="#1d3d63" stroke-width="1.2"/>
<circle cx="658.7" cy="568.7" r="3.7" fill="url(#pg)" stroke="#1d3d63" stroke-width="1.2"/>
<circle cx="343.4" cy="590.9" r="3.7" fill="url(#pg)" stroke="#1d3d63" stroke-width="1.2"/>
<circle cx="339.2" cy="585.8" r="3.7" fill="url(#pg)" stroke="#1d3d63" stroke-width="1.2"/>
<circle cx="339.6" cy="577" r="3.7" fill="url(#pg)" stroke="#1d3d63" stroke-width="1.2"/>
<circle cx="339.8" cy="568.9" r="3.7" fill="url(#pg)" stroke="#1d3d63" stroke-width="1.2"/>
<circle cx="339.8" cy="560.5" r="3.7" fill="url(#pg)" stroke="#1d3d63" stroke-width="1.2"/>
<circle cx="339.9" cy="552.3" r="3.7" fill="url(#pg)" stroke="#1d3d63" stroke-width="1.2"/>
<circle cx="340.1" cy="543.7" r="3.7" fill="url(#pg)" stroke="#1d3d63" stroke-width="1.2"/>
<circle cx="340.1" cy="535.8" r="3.7" fill="url(#pg)" stroke="#1d3d63" stroke-width="1.2"/>
<circle cx="340.2" cy="527.2" r="3.7" fill="url(#pg)" stroke="#1d3d63" stroke-width="1.2"/>
<circle cx="340.8" cy="519" r="3.7" fill="url(#pg)" stroke="#1d3d63" stroke-width="1.2"/>
<circle cx="340.7" cy="510.7" r="3.7" fill="url(#pb)" stroke="#1d3d63" stroke-width="1.2"/>
<circle cx="341.2" cy="502.3" r="3.7" fill="url(#pg)" stroke="#1d3d63" stroke-width="1.2"/>
<circle cx="341.2" cy="494.6" r="3.7" fill="url(#pg)" stroke="#1d3d63" stroke-width="1.2"/>
<circle cx="340.9" cy="485.9" r="3.7" fill="url(#pg)" stroke="#1d3d63" stroke-width="1.2"/>
</g>
<path d="M343.6,322 L344,317.6 L344.8,313.2 L346.6,309.2 L349.3,305.6 L352.5,302.5 L356.1,299.9 L359.9,297.5 L363.8,295.4 L367.9,293.6 L372,292 L376.2,290.5 L380.4,289 L384.6,287.6 L388.9,286.2 L393.1,284.8 L397.3,283.4 L401.6,282.1 L405.9,280.9 L410.2,279.7 L414.5,278.6 L418.8,277.6 L423.2,276.7 L427.5,275.8 L431.9,275.1 L436.3,274.4 L440.8,273.8 L445.2,273.2 L449.6,272.7 L454,272.2 L458.5,271.8 L462.9,271.4 L467.3,271 L471.8,270.7 L476.2,270.3 L480.7,270.1 L485.1,269.9 L489.5,269.7 L494,269.5 L498.5,269.5 L502.9,269.4 L507.4,269.4 L511.8,269.5 L516.3,269.6 L520.7,269.7 L525.2,269.9 L529.6,270.1 L534.1,270.3 L538.5,270.5 L543,270.8 L547.4,271.1 L551.8,271.4 L556.3,271.8 L560.7,272.2 L565.2,272.6 L569.6,273.1 L574,273.6 L578.4,274.3 L582.8,275 L587.2,275.8 L591.5,276.7 L595.9,277.8 L600.2,278.9 L604.4,280.2 L608.7,281.6 L612.9,283 L617.1,284.5 L621.2,286.2 L625.3,287.9 L629.4,289.8 L633.4,291.7 L637.3,293.8 L641.1,296.2 L644.7,298.8 L648,301.7 L650.9,305.1 L653,309 L654.5,313.2 L655.4,317.6 L655.6,322 L655.6,557.5 Q655.6,569.5 645.1,575.2 L511.9,648.5 L457.3,648.5 L356,594.8 Q343.6,588.2 343.6,574.2 Z" fill="#c2cad2"/>
<path d="M353.4,324 L353.9,319.8 L355.1,315.8 L357.2,312.2 L359.7,308.9 L362.5,305.7 L365.5,302.9 L368.8,300.3 L372.2,297.8 L375.8,295.6 L379.5,293.7 L383.4,292.1 L387.3,290.7 L391.3,289.4 L395.4,288.2 L399.4,287.1 L403.5,286.1 L407.6,285.2 L411.6,284.3 L415.8,283.4 L419.9,282.6 L424,281.9 L428.1,281.3 L432.3,280.7 L436.5,280.2 L440.6,279.7 L444.8,279.3 L449,279 L453.2,278.6 L457.3,278.3 L461.5,278 L465.7,277.8 L469.9,277.5 L474.1,277.2 L478.3,277 L482.4,276.8 L486.6,276.7 L490.8,276.5 L495,276.4 L499.2,276.4 L503.4,276.4 L507.6,276.4 L511.8,276.5 L516,276.6 L520.2,276.8 L524.3,276.9 L528.5,277.1 L532.7,277.4 L536.9,277.6 L541.1,277.9 L545.3,278.2 L549.5,278.5 L553.6,278.8 L557.8,279.1 L562,279.5 L566.2,279.9 L570.3,280.3 L574.5,280.8 L578.7,281.3 L582.8,281.9 L587,282.5 L591.1,283.3 L595.2,284.1 L599.3,285.1 L603.3,286.3 L607.3,287.6 L611.2,289 L615.1,290.6 L618.9,292.3 L622.6,294.2 L626.3,296.4 L629.7,298.7 L633,301.3 L636.1,304.1 L639.1,307.1 L641.7,310.3 L643.9,313.9 L645.6,317.8 L646.6,321.8 L646.8,326 L646.8,553.5 Q646.8,565.5 636.3,571.2 L511.9,639 L459.2,639 L368.4,590.9 Q353.4,582.9 353.4,565.9 Z" fill="url(#gcav)"/>
<g clip-path="url(#cb4)"><path d="M351.2,720 L351.2,586.9 A149.6,71.1 0 0 1 650.4,586.9 L650.4,720 Z" fill="#b8c3cc"/><path d="M351.2,586.9 A149.6,71.1 0 0 1 650.4,586.9" fill="none" stroke="#1a3c62" stroke-width="2.2"/></g>
<path d="M252.6,313 L253.4,306 L255.4,299.3 L258.8,293.2 L263.4,288 L268.8,283.5 L274.6,279.6 L280.1,275.3 L285.9,271.3 L291.9,267.7 L298,264.3 L304.2,260.9 L310.4,257.6 L316.7,254.6 L323,251.6 L329.5,248.9 L336,246.3 L342.5,243.8 L349.2,241.7 L355.9,239.6 L362.6,237.5 L369.2,235.1 L375.8,232.9 L382.6,231.1 L389.5,229.8 L396.4,228.6 L403.3,227.6 L410.3,226.7 L417.2,225.8 L424.2,225.1 L431.2,224.4 L438.2,223.8 L445.1,223.4 L452.1,223 L459.1,222.6 L466.1,222.2 L473.1,221.9 L480.1,221.6 L487.1,221.4 L494.2,221.2 L501.2,221.1 L508.2,221.2 L515.2,221.4 L522.2,221.7 L529.2,222 L536.2,222.5 L543.2,223 L550.1,223.5 L557.1,224.1 L564.1,224.8 L571.1,225.5 L578,226.2 L585,227 L592,227.8 L598.9,228.7 L605.8,229.8 L612.7,231.1 L619.6,232.6 L626.3,234.6 L633,236.7 L639.7,238.7 L646.5,240.4 L653.3,242.1 L660.1,243.7 L666.9,245.5 L673.6,247.6 L680.2,250 L686.6,252.7 L692.9,255.7 L699.1,259 L705.2,262.5 L711.2,266.2 L717,270.1 L722.5,274.3 L727.8,279 L732.7,284 L737.1,289.4 L740.7,295.4 L742.9,302 L743.7,309 L743.7,576.8 Q743.7,584.8 736.9,589 L511.9,728.5 L449.7,728.5 L260.5,626.3 Q252.6,622.1 252.6,613.1 Z" fill="none" stroke="#1a3c62" stroke-width="2.6" stroke-linejoin="round"/>
<path d="M269,311.4 L270.2,305 L272.3,298.9 L275.5,293.3 L279.7,288.3 L284.7,284.3 L289.9,280.4 L295.2,276.7 L300.8,273.3 L306.4,270.2 L312.2,267.2 L318,264.4 L323.9,261.6 L329.8,259 L335.8,256.4 L341.8,253.9 L347.8,251.4 L353.8,249.1 L360,247.1 L366.2,245.5 L372.6,244.1 L378.9,242.8 L385.3,241.6 L391.7,240.5 L398.1,239.5 L404.5,238.5 L410.9,237.6 L417.4,236.8 L423.8,236.1 L430.2,235.5 L436.7,234.9 L443.2,234.5 L449.7,234.2 L456.1,233.9 L462.6,233.7 L469.1,233.4 L475.6,233.2 L482,233 L488.5,232.9 L495,232.9 L501.5,232.9 L508,232.9 L514.5,233.1 L520.9,233.2 L527.4,233.4 L533.9,233.6 L540.4,233.8 L546.8,234.1 L553.3,234.5 L559.8,234.9 L566.2,235.4 L572.7,236.1 L579.1,236.9 L585.5,237.8 L591.9,238.9 L598.3,240.1 L604.6,241.5 L611,242.9 L617.3,244.4 L623.6,246 L629.8,247.6 L636.1,249.4 L642.3,251.2 L648.5,253.1 L654.6,255.2 L660.7,257.4 L666.8,259.8 L672.7,262.3 L678.6,265 L684.4,267.9 L690.1,271 L695.7,274.3 L701.1,277.9 L706.3,281.8 L711.3,285.9 L716.1,290.2 L720.6,294.8 L724.6,300 L727.5,305.7 L729,312 L729,572.6 Q729,581.6 721.3,586.3 L511.9,714 L448,714 L279.6,623 Q269,617.3 269,605.3 Z" fill="none" stroke="#1a3c62" stroke-width="2.0" stroke-linejoin="round"/>
<path d="M279,313.8 L280.3,307.7 L282.5,301.9 L285.9,296.8 L290,292.1 L294.6,288 L299.6,284.2 L304.8,280.9 L310.1,277.7 L315.5,274.7 L321.1,272 L326.7,269.3 L332.4,266.9 L338.1,264.6 L343.9,262.4 L349.7,260.3 L355.6,258.3 L361.5,256.5 L367.5,254.9 L373.5,253.5 L379.6,252.1 L385.6,250.8 L391.7,249.5 L397.7,248.3 L403.8,247.1 L409.9,246.1 L416,245.1 L422.2,244.2 L428.3,243.5 L434.5,242.9 L440.7,242.4 L446.9,242 L453,241.7 L459.2,241.5 L465.4,241.2 L471.6,240.9 L477.8,240.7 L484,240.5 L490.2,240.4 L496.4,240.3 L502.6,240.4 L508.7,240.4 L514.9,240.6 L521.1,240.8 L527.3,241 L533.5,241.2 L539.7,241.5 L545.9,241.9 L552.1,242.3 L558.2,242.7 L564.4,243.2 L570.6,243.9 L576.7,244.6 L582.9,245.4 L589,246.3 L595.1,247.3 L601.2,248.4 L607.3,249.6 L613.3,250.8 L619.4,252.1 L625.4,253.5 L631.4,255.1 L637.4,256.7 L643.3,258.5 L649.2,260.5 L655,262.7 L660.7,265 L666.4,267.4 L672,270.1 L677.6,272.8 L683.1,275.7 L688.4,278.8 L693.7,282.1 L698.7,285.7 L703.6,289.5 L708.2,293.6 L712.6,297.9 L716.7,302.6 L719.8,308 L720.9,314 L720.9,560.1 Q720.9,572.1 710.6,578.3 L511.9,697.5 L446,697.5 L294.8,615.9 Q279,607.3 279,589.3 Z" fill="none" stroke="#1a3c62" stroke-width="2.0" stroke-linejoin="round"/>
<path d="M343.6,322 L344,317.6 L344.8,313.2 L346.6,309.2 L349.3,305.6 L352.5,302.5 L356.1,299.9 L359.9,297.5 L363.8,295.4 L367.9,293.6 L372,292 L376.2,290.5 L380.4,289 L384.6,287.6 L388.9,286.2 L393.1,284.8 L397.3,283.4 L401.6,282.1 L405.9,280.9 L410.2,279.7 L414.5,278.6 L418.8,277.6 L423.2,276.7 L427.5,275.8 L431.9,275.1 L436.3,274.4 L440.8,273.8 L445.2,273.2 L449.6,272.7 L454,272.2 L458.5,271.8 L462.9,271.4 L467.3,271 L471.8,270.7 L476.2,270.3 L480.7,270.1 L485.1,269.9 L489.5,269.7 L494,269.5 L498.5,269.5 L502.9,269.4 L507.4,269.4 L511.8,269.5 L516.3,269.6 L520.7,269.7 L525.2,269.9 L529.6,270.1 L534.1,270.3 L538.5,270.5 L543,270.8 L547.4,271.1 L551.8,271.4 L556.3,271.8 L560.7,272.2 L565.2,272.6 L569.6,273.1 L574,273.6 L578.4,274.3 L582.8,275 L587.2,275.8 L591.5,276.7 L595.9,277.8 L600.2,278.9 L604.4,280.2 L608.7,281.6 L612.9,283 L617.1,284.5 L621.2,286.2 L625.3,287.9 L629.4,289.8 L633.4,291.7 L637.3,293.8 L641.1,296.2 L644.7,298.8 L648,301.7 L650.9,305.1 L653,309 L654.5,313.2 L655.4,317.6 L655.6,322 L655.6,557.5 Q655.6,569.5 645.1,575.2 L511.9,648.5 L457.3,648.5 L356,594.8 Q343.6,588.2 343.6,574.2 Z" fill="none" stroke="#1a3c62" stroke-width="2.0" stroke-linejoin="round"/>
<path d="M353.4,324 L353.9,319.8 L355.1,315.8 L357.2,312.2 L359.7,308.9 L362.5,305.7 L365.5,302.9 L368.8,300.3 L372.2,297.8 L375.8,295.6 L379.5,293.7 L383.4,292.1 L387.3,290.7 L391.3,289.4 L395.4,288.2 L399.4,287.1 L403.5,286.1 L407.6,285.2 L411.6,284.3 L415.8,283.4 L419.9,282.6 L424,281.9 L428.1,281.3 L432.3,280.7 L436.5,280.2 L440.6,279.7 L444.8,279.3 L449,279 L453.2,278.6 L457.3,278.3 L461.5,278 L465.7,277.8 L469.9,277.5 L474.1,277.2 L478.3,277 L482.4,276.8 L486.6,276.7 L490.8,276.5 L495,276.4 L499.2,276.4 L503.4,276.4 L507.6,276.4 L511.8,276.5 L516,276.6 L520.2,276.8 L524.3,276.9 L528.5,277.1 L532.7,277.4 L536.9,277.6 L541.1,277.9 L545.3,278.2 L549.5,278.5 L553.6,278.8 L557.8,279.1 L562,279.5 L566.2,279.9 L570.3,280.3 L574.5,280.8 L578.7,281.3 L582.8,281.9 L587,282.5 L591.1,283.3 L595.2,284.1 L599.3,285.1 L603.3,286.3 L607.3,287.6 L611.2,289 L615.1,290.6 L618.9,292.3 L622.6,294.2 L626.3,296.4 L629.7,298.7 L633,301.3 L636.1,304.1 L639.1,307.1 L641.7,310.3 L643.9,313.9 L645.6,317.8 L646.6,321.8 L646.8,326 L646.8,553.5 Q646.8,565.5 636.3,571.2 L511.9,639 L459.2,639 L368.4,590.9 Q353.4,582.9 353.4,565.9 Z" fill="none" stroke="#1a3c62" stroke-width="2.0" stroke-linejoin="round"/>
<line x1="256.4" y1="622.5" x2="270.4" y2="616.2" stroke="#1a3c62" stroke-width="1.6"/>
<line x1="727.9" y1="579.2" x2="743.1" y2="583.9" stroke="#1a3c62" stroke-width="1.6"/>
<line x1="252.3" y1="323" x2="353.5" y2="323" stroke="#1a3c62" stroke-width="2.2"/>
<line x1="646.8" y1="321.3" x2="744.35" y2="307.2" stroke="#1a3c62" stroke-width="2.2"/>
<line x1="511.9" y1="136.7" x2="511.9" y2="180.5" stroke="#1a3c62" stroke-width="2.2"/>
<line x1="511.9" y1="187.5" x2="511.9" y2="194" stroke="#1a3c62" stroke-width="2.2"/>
<line x1="511.9" y1="200.4" x2="511.9" y2="305" stroke="#1a3c62" stroke-width="2.2"/>
<line x1="511.9" y1="312" x2="511.9" y2="317" stroke="#1a3c62" stroke-width="2.2"/>
<line x1="511.9" y1="324.8" x2="511.9" y2="620" stroke="#1a3c62" stroke-width="2.2" stroke-dasharray="38 8 6 8"/>
<line x1="511.9" y1="620" x2="511.9" y2="731" stroke="#1a3c62" stroke-width="2.2"/>
<line x1="511.9" y1="738" x2="511.9" y2="906" stroke="#1a3c62" stroke-width="2.2" stroke-dasharray="38 8 6 8"/>
<path d="M626.3,622.5 L655,593 L830.6,616.6 L645,780 Z" fill="#ffffff" fill-opacity="0.42"/>
<line x1="655" y1="593" x2="830.6" y2="616.6" stroke="#1a3c62" stroke-width="2.2"/>
<line x1="626.3" y1="622.5" x2="645" y2="790" stroke="#1a3c62" stroke-width="2.2"/>
<circle cx="643.5" cy="611.5" r="19" fill="#ffffff" fill-opacity="0.4" stroke="#1a3c62" stroke-width="2.4"/>
<circle cx="805" cy="775" r="159.5" fill="#e3eaf1"/>
<g clip-path="url(#bigc)">
<path d="M660,745 L672,725 L695,712 L718,702 L748,692 L787,680 L828,685 L868,700 L905,708 L926,725 L930,760 L933,800 L930,860 L900,940 L700,940 L660,860 Z" fill="#8a9097"/>
<g>
<circle cx="758.8" cy="693.7" r="11.7" fill="url(#sb)" stroke="#1b3556" stroke-width="1.7"/>
<circle cx="777.7" cy="685.2" r="13.1" fill="url(#sg)" stroke="#1b3556" stroke-width="1.7"/>
<circle cx="791" cy="689.4" r="11.6" fill="url(#sg)" stroke="#1b3556" stroke-width="1.7"/>
<circle cx="811.1" cy="688.2" r="11.4" fill="url(#sb)" stroke="#1b3556" stroke-width="1.7"/>
<circle cx="824.5" cy="693" r="11.7" fill="url(#sg)" stroke="#1b3556" stroke-width="1.7"/>
<circle cx="705.8" cy="711.6" r="12" fill="url(#sg)" stroke="#1b3556" stroke-width="1.7"/>
<circle cx="718" cy="706.2" r="12.9" fill="url(#sb)" stroke="#1b3556" stroke-width="1.7"/>
<circle cx="744.2" cy="705.3" r="14" fill="url(#sg)" stroke="#1b3556" stroke-width="1.7"/>
<circle cx="760.2" cy="703.6" r="12.2" fill="url(#sg)" stroke="#1b3556" stroke-width="1.7"/>
<circle cx="777.6" cy="710.3" r="11.4" fill="url(#sg)" stroke="#1b3556" stroke-width="1.7"/>
<circle cx="788.6" cy="706.9" r="12.7" fill="url(#sg)" stroke="#1b3556" stroke-width="1.7"/>
<circle cx="811.6" cy="704.8" r="12.3" fill="url(#sg)" stroke="#1b3556" stroke-width="1.7"/>
<circle cx="820" cy="704" r="12" fill="url(#sb)" stroke="#1b3556" stroke-width="1.7"/>
<circle cx="845.9" cy="706.8" r="12.4" fill="url(#sb)" stroke="#1b3556" stroke-width="1.7"/>
<circle cx="862.6" cy="705.4" r="13.4" fill="url(#sg)" stroke="#1b3556" stroke-width="1.7"/>
<circle cx="876.9" cy="709.4" r="12.5" fill="url(#sb)" stroke="#1b3556" stroke-width="1.7"/>
<circle cx="689.3" cy="722.2" r="12.5" fill="url(#sg)" stroke="#1b3556" stroke-width="1.7"/>
<circle cx="701.4" cy="724.3" r="12.4" fill="url(#sb)" stroke="#1b3556" stroke-width="1.7"/>
<circle cx="718.2" cy="724.6" r="12.5" fill="url(#sg)" stroke="#1b3556" stroke-width="1.7"/>
<circle cx="742.3" cy="724.2" r="12.7" fill="url(#sg)" stroke="#1b3556" stroke-width="1.7"/>
<circle cx="758.2" cy="721.5" r="12.7" fill="url(#sb)" stroke="#1b3556" stroke-width="1.7"/>
<circle cx="770.9" cy="728.9" r="13.2" fill="url(#sb)" stroke="#1b3556" stroke-width="1.7"/>
<circle cx="788.9" cy="723.4" r="11.8" fill="url(#sg)" stroke="#1b3556" stroke-width="1.7"/>
<circle cx="803.2" cy="721.5" r="13.6" fill="url(#sg)" stroke="#1b3556" stroke-width="1.7"/>
<circle cx="826.9" cy="721.5" r="11.2" fill="url(#sg)" stroke="#1b3556" stroke-width="1.7"/>
<circle cx="843.8" cy="724" r="12.6" fill="url(#sg)" stroke="#1b3556" stroke-width="1.7"/>
<circle cx="856.7" cy="723.9" r="13.8" fill="url(#sg)" stroke="#1b3556" stroke-width="1.7"/>
<circle cx="878.3" cy="721.5" r="11.6" fill="url(#sg)" stroke="#1b3556" stroke-width="1.7"/>
<circle cx="888.9" cy="728.4" r="12.1" fill="url(#sg)" stroke="#1b3556" stroke-width="1.7"/>
<circle cx="905" cy="719.6" r="11.6" fill="url(#sg)" stroke="#1b3556" stroke-width="1.7"/>
<circle cx="672.1" cy="737" r="13.3" fill="url(#sb)" stroke="#1b3556" stroke-width="1.7"/>
<circle cx="688.8" cy="739.9" r="13.8" fill="url(#sg)" stroke="#1b3556" stroke-width="1.7"/>
<circle cx="709.8" cy="740.2" r="12.1" fill="url(#sg)" stroke="#1b3556" stroke-width="1.7"/>
<circle cx="718.6" cy="738.8" r="11.7" fill="url(#sg)" stroke="#1b3556" stroke-width="1.7"/>
<circle cx="740.4" cy="740.4" r="11.1" fill="url(#sg)" stroke="#1b3556" stroke-width="1.7"/>
<circle cx="761.2" cy="737.3" r="12.1" fill="url(#sb)" stroke="#1b3556" stroke-width="1.7"/>
<circle cx="770.1" cy="740.1" r="13.4" fill="url(#sg)" stroke="#1b3556" stroke-width="1.7"/>
<circle cx="786.7" cy="745.3" r="13.1" fill="url(#sg)" stroke="#1b3556" stroke-width="1.7"/>
<circle cx="807.8" cy="738.5" r="13.7" fill="url(#sb)" stroke="#1b3556" stroke-width="1.7"/>
<circle cx="820.7" cy="741.2" r="11.6" fill="url(#sg)" stroke="#1b3556" stroke-width="1.7"/>
<circle cx="844.4" cy="743.1" r="11.6" fill="url(#sg)" stroke="#1b3556" stroke-width="1.7"/>
<circle cx="858.3" cy="739.9" r="13" fill="url(#sb)" stroke="#1b3556" stroke-width="1.7"/>
<circle cx="874.4" cy="740.4" r="11.2" fill="url(#sg)" stroke="#1b3556" stroke-width="1.7"/>
<circle cx="897.5" cy="741" r="12.7" fill="url(#sb)" stroke="#1b3556" stroke-width="1.7"/>
<circle cx="910.7" cy="744" r="11.8" fill="url(#sg)" stroke="#1b3556" stroke-width="1.7"/>
<circle cx="675.2" cy="757" r="13.4" fill="url(#sg)" stroke="#1b3556" stroke-width="1.7"/>
<circle cx="694" cy="762.6" r="13" fill="url(#sg)" stroke="#1b3556" stroke-width="1.7"/>
<circle cx="707.6" cy="754.9" r="12.1" fill="url(#sg)" stroke="#1b3556" stroke-width="1.7"/>
<circle cx="718.7" cy="754.6" r="11.5" fill="url(#sb)" stroke="#1b3556" stroke-width="1.7"/>
<circle cx="737.4" cy="761.3" r="11" fill="url(#sg)" stroke="#1b3556" stroke-width="1.7"/>
<circle cx="752.6" cy="762.3" r="13.5" fill="url(#sg)" stroke="#1b3556" stroke-width="1.7"/>
<circle cx="778.3" cy="755.3" r="11.8" fill="url(#sg)" stroke="#1b3556" stroke-width="1.7"/>
<circle cx="788" cy="762.7" r="12.1" fill="url(#sg)" stroke="#1b3556" stroke-width="1.7"/>
<circle cx="808.7" cy="755.8" r="13.2" fill="url(#sb)" stroke="#1b3556" stroke-width="1.7"/>
<circle cx="826" cy="753.8" r="13.4" fill="url(#sb)" stroke="#1b3556" stroke-width="1.7"/>
<circle cx="841.9" cy="759.5" r="11.8" fill="url(#sg)" stroke="#1b3556" stroke-width="1.7"/>
<circle cx="859.2" cy="753.7" r="12.8" fill="url(#sg)" stroke="#1b3556" stroke-width="1.7"/>
<circle cx="873.5" cy="762" r="12.8" fill="url(#sg)" stroke="#1b3556" stroke-width="1.7"/>
<circle cx="895" cy="763" r="13.7" fill="url(#sb)" stroke="#1b3556" stroke-width="1.7"/>
<circle cx="908.3" cy="758.8" r="12.8" fill="url(#sg)" stroke="#1b3556" stroke-width="1.7"/>
<circle cx="928.9" cy="758.2" r="12.6" fill="url(#sb)" stroke="#1b3556" stroke-width="1.7"/>
<circle cx="667.4" cy="772.9" r="11.8" fill="url(#sg)" stroke="#1b3556" stroke-width="1.7"/>
<circle cx="691.9" cy="779.6" r="13.7" fill="url(#sg)" stroke="#1b3556" stroke-width="1.7"/>
<circle cx="701.7" cy="773.5" r="12.6" fill="url(#sg)" stroke="#1b3556" stroke-width="1.7"/>
<circle cx="725.3" cy="777.4" r="13.7" fill="url(#sg)" stroke="#1b3556" stroke-width="1.7"/>
<circle cx="737.4" cy="779.1" r="13.7" fill="url(#sg)" stroke="#1b3556" stroke-width="1.7"/>
<circle cx="754.1" cy="776.6" r="13.5" fill="url(#sb)" stroke="#1b3556" stroke-width="1.7"/>
<circle cx="769.2" cy="771.9" r="12.3" fill="url(#sg)" stroke="#1b3556" stroke-width="1.7"/>
<circle cx="793.8" cy="775.6" r="12.6" fill="url(#sg)" stroke="#1b3556" stroke-width="1.7"/>
<circle cx="809.5" cy="775.8" r="13.8" fill="url(#sg)" stroke="#1b3556" stroke-width="1.7"/>
<circle cx="821.2" cy="773.5" r="12" fill="url(#sg)" stroke="#1b3556" stroke-width="1.7"/>
<circle cx="838.7" cy="777.1" r="13.5" fill="url(#sg)" stroke="#1b3556" stroke-width="1.7"/>
<circle cx="863.1" cy="770.9" r="11.9" fill="url(#sg)" stroke="#1b3556" stroke-width="1.7"/>
<circle cx="875.2" cy="772.2" r="13.2" fill="url(#sb)" stroke="#1b3556" stroke-width="1.7"/>
<circle cx="890.3" cy="771.6" r="12.6" fill="url(#sg)" stroke="#1b3556" stroke-width="1.7"/>
<circle cx="914.4" cy="778.5" r="13.5" fill="url(#sg)" stroke="#1b3556" stroke-width="1.7"/>
<circle cx="929.9" cy="773.9" r="12.4" fill="url(#sg)" stroke="#1b3556" stroke-width="1.7"/>
<circle cx="667.1" cy="789.2" r="12.4" fill="url(#sg)" stroke="#1b3556" stroke-width="1.7"/>
<circle cx="686.8" cy="794.4" r="12.1" fill="url(#sg)" stroke="#1b3556" stroke-width="1.7"/>
<circle cx="703.3" cy="792.3" r="14" fill="url(#sg)" stroke="#1b3556" stroke-width="1.7"/>
<circle cx="726.4" cy="794.7" r="12.8" fill="url(#sg)" stroke="#1b3556" stroke-width="1.7"/>
<circle cx="740.2" cy="788" r="12.7" fill="url(#sb)" stroke="#1b3556" stroke-width="1.7"/>
<circle cx="759.3" cy="791.7" r="12.3" fill="url(#sb)" stroke="#1b3556" stroke-width="1.7"/>
<circle cx="769.1" cy="789" r="13.9" fill="url(#sb)" stroke="#1b3556" stroke-width="1.7"/>
<circle cx="794.3" cy="792.3" r="11.1" fill="url(#sg)" stroke="#1b3556" stroke-width="1.7"/>
<circle cx="809.3" cy="787.9" r="12.4" fill="url(#sb)" stroke="#1b3556" stroke-width="1.7"/>
<circle cx="820.6" cy="787.5" r="11.3" fill="url(#sb)" stroke="#1b3556" stroke-width="1.7"/>
<circle cx="845.9" cy="788.6" r="13.5" fill="url(#sg)" stroke="#1b3556" stroke-width="1.7"/>
<circle cx="859.4" cy="794.6" r="11.4" fill="url(#sg)" stroke="#1b3556" stroke-width="1.7"/>
<circle cx="879.7" cy="790.5" r="13.4" fill="url(#sg)" stroke="#1b3556" stroke-width="1.7"/>
<circle cx="897.4" cy="791" r="13.5" fill="url(#sg)" stroke="#1b3556" stroke-width="1.7"/>
<circle cx="908.4" cy="788.5" r="12.2" fill="url(#sg)" stroke="#1b3556" stroke-width="1.7"/>
<circle cx="924.4" cy="791.2" r="13" fill="url(#sg)" stroke="#1b3556" stroke-width="1.7"/>
<circle cx="669.9" cy="813.3" r="11.9" fill="url(#sg)" stroke="#1b3556" stroke-width="1.7"/>
<circle cx="687.8" cy="809.2" r="12.8" fill="url(#sg)" stroke="#1b3556" stroke-width="1.7"/>
<circle cx="707.8" cy="804.2" r="13.8" fill="url(#sg)" stroke="#1b3556" stroke-width="1.7"/>
<circle cx="722.5" cy="808.5" r="11.8" fill="url(#sb)" stroke="#1b3556" stroke-width="1.7"/>
<circle cx="739.5" cy="805" r="12.1" fill="url(#sg)" stroke="#1b3556" stroke-width="1.7"/>
<circle cx="755.6" cy="805" r="13.7" fill="url(#sg)" stroke="#1b3556" stroke-width="1.7"/>
<circle cx="776.3" cy="808.2" r="12.5" fill="url(#sb)" stroke="#1b3556" stroke-width="1.7"/>
<circle cx="786.2" cy="808.9" r="12.4" fill="url(#sg)" stroke="#1b3556" stroke-width="1.7"/>
<circle cx="803" cy="804.1" r="12.5" fill="url(#sg)" stroke="#1b3556" stroke-width="1.7"/>
<circle cx="823.3" cy="805.2" r="12.1" fill="url(#sb)" stroke="#1b3556" stroke-width="1.7"/>
<circle cx="845.2" cy="811.6" r="11" fill="url(#sg)" stroke="#1b3556" stroke-width="1.7"/>
<circle cx="858.9" cy="812.1" r="12.7" fill="url(#sb)" stroke="#1b3556" stroke-width="1.7"/>
<circle cx="877.9" cy="804.7" r="13.9" fill="url(#sg)" stroke="#1b3556" stroke-width="1.7"/>
<circle cx="894" cy="806.6" r="13.7" fill="url(#sb)" stroke="#1b3556" stroke-width="1.7"/>
<circle cx="908.4" cy="808.9" r="11.2" fill="url(#sb)" stroke="#1b3556" stroke-width="1.7"/>
<circle cx="928.4" cy="806.3" r="13.5" fill="url(#sg)" stroke="#1b3556" stroke-width="1.7"/>
<circle cx="675.1" cy="823.6" r="12" fill="url(#sg)" stroke="#1b3556" stroke-width="1.7"/>
<circle cx="685.3" cy="821.1" r="12.8" fill="url(#sb)" stroke="#1b3556" stroke-width="1.7"/>
<circle cx="702.4" cy="829.3" r="12.5" fill="url(#sg)" stroke="#1b3556" stroke-width="1.7"/>
<circle cx="724.6" cy="823.1" r="13.4" fill="url(#sg)" stroke="#1b3556" stroke-width="1.7"/>
<circle cx="740" cy="822.3" r="11.8" fill="url(#sg)" stroke="#1b3556" stroke-width="1.7"/>
<circle cx="759.2" cy="825.6" r="12.7" fill="url(#sb)" stroke="#1b3556" stroke-width="1.7"/>
<circle cx="773" cy="821.2" r="12.7" fill="url(#sb)" stroke="#1b3556" stroke-width="1.7"/>
<circle cx="786.4" cy="825.6" r="13" fill="url(#sg)" stroke="#1b3556" stroke-width="1.7"/>
<circle cx="804" cy="826.1" r="11.2" fill="url(#sg)" stroke="#1b3556" stroke-width="1.7"/>
<circle cx="823.4" cy="822.8" r="12.5" fill="url(#sb)" stroke="#1b3556" stroke-width="1.7"/>
<circle cx="839.2" cy="830.9" r="12" fill="url(#sb)" stroke="#1b3556" stroke-width="1.7"/>
<circle cx="859.2" cy="828.8" r="13.6" fill="url(#sb)" stroke="#1b3556" stroke-width="1.7"/>
<circle cx="872.5" cy="829.9" r="11.4" fill="url(#sb)" stroke="#1b3556" stroke-width="1.7"/>
<circle cx="888.5" cy="824" r="11.4" fill="url(#sb)" stroke="#1b3556" stroke-width="1.7"/>
<circle cx="908.1" cy="826.7" r="11.7" fill="url(#sg)" stroke="#1b3556" stroke-width="1.7"/>
<circle cx="931" cy="827" r="12.5" fill="url(#sb)" stroke="#1b3556" stroke-width="1.7"/>
<circle cx="668.1" cy="839.6" r="12.1" fill="url(#sb)" stroke="#1b3556" stroke-width="1.7"/>
<circle cx="688.8" cy="843.4" r="11.9" fill="url(#sg)" stroke="#1b3556" stroke-width="1.7"/>
<circle cx="707.1" cy="841.4" r="12.8" fill="url(#sb)" stroke="#1b3556" stroke-width="1.7"/>
<circle cx="721.5" cy="842.6" r="11.4" fill="url(#sg)" stroke="#1b3556" stroke-width="1.7"/>
<circle cx="735.4" cy="838.6" r="11.3" fill="url(#sb)" stroke="#1b3556" stroke-width="1.7"/>
<circle cx="759.3" cy="843.9" r="13.4" fill="url(#sg)" stroke="#1b3556" stroke-width="1.7"/>
<circle cx="772.5" cy="843.8" r="13.6" fill="url(#sg)" stroke="#1b3556" stroke-width="1.7"/>
<circle cx="787.3" cy="838.4" r="11.1" fill="url(#sb)" stroke="#1b3556" stroke-width="1.7"/>
<circle cx="811.9" cy="839.5" r="13.4" fill="url(#sg)" stroke="#1b3556" stroke-width="1.7"/>
<circle cx="828.4" cy="845" r="12.4" fill="url(#sg)" stroke="#1b3556" stroke-width="1.7"/>
<circle cx="839.2" cy="847.3" r="11.8" fill="url(#sg)" stroke="#1b3556" stroke-width="1.7"/>
<circle cx="861.7" cy="843.8" r="12.6" fill="url(#sg)" stroke="#1b3556" stroke-width="1.7"/>
<circle cx="872.1" cy="839.1" r="13.9" fill="url(#sb)" stroke="#1b3556" stroke-width="1.7"/>
<circle cx="894.1" cy="843.6" r="11.7" fill="url(#sg)" stroke="#1b3556" stroke-width="1.7"/>
<circle cx="910.8" cy="838.1" r="11.1" fill="url(#sg)" stroke="#1b3556" stroke-width="1.7"/>
<circle cx="927.9" cy="847.3" r="12.4" fill="url(#sg)" stroke="#1b3556" stroke-width="1.7"/>
<circle cx="670.8" cy="861.8" r="12.3" fill="url(#sg)" stroke="#1b3556" stroke-width="1.7"/>
<circle cx="692.6" cy="858.9" r="11.3" fill="url(#sb)" stroke="#1b3556" stroke-width="1.7"/>
<circle cx="701.3" cy="860.2" r="12.1" fill="url(#sg)" stroke="#1b3556" stroke-width="1.7"/>
<circle cx="725.3" cy="863.4" r="13.9" fill="url(#sb)" stroke="#1b3556" stroke-width="1.7"/>
<circle cx="743.2" cy="864.4" r="12.2" fill="url(#sg)" stroke="#1b3556" stroke-width="1.7"/>
<circle cx="752.3" cy="859.5" r="11.2" fill="url(#sg)" stroke="#1b3556" stroke-width="1.7"/>
<circle cx="773.1" cy="859.1" r="13.3" fill="url(#sg)" stroke="#1b3556" stroke-width="1.7"/>
<circle cx="793.1" cy="855.2" r="13.2" fill="url(#sb)" stroke="#1b3556" stroke-width="1.7"/>
<circle cx="803.1" cy="858.5" r="12.9" fill="url(#sg)" stroke="#1b3556" stroke-width="1.7"/>
<circle cx="828.1" cy="864.7" r="13.4" fill="url(#sb)" stroke="#1b3556" stroke-width="1.7"/>
<circle cx="844.8" cy="864.4" r="13.9" fill="url(#sg)" stroke="#1b3556" stroke-width="1.7"/>
<circle cx="860.5" cy="855.9" r="13.7" fill="url(#sg)" stroke="#1b3556" stroke-width="1.7"/>
<circle cx="873.9" cy="860.7" r="11.7" fill="url(#sg)" stroke="#1b3556" stroke-width="1.7"/>
<circle cx="891.5" cy="861.7" r="12.6" fill="url(#sb)" stroke="#1b3556" stroke-width="1.7"/>
<circle cx="911.2" cy="862.2" r="11" fill="url(#sb)" stroke="#1b3556" stroke-width="1.7"/>
<circle cx="670.9" cy="873.3" r="13.9" fill="url(#sg)" stroke="#1b3556" stroke-width="1.7"/>
<circle cx="693" cy="881.8" r="12.4" fill="url(#sg)" stroke="#1b3556" stroke-width="1.7"/>
<circle cx="705.6" cy="877.4" r="13.4" fill="url(#sb)" stroke="#1b3556" stroke-width="1.7"/>
<circle cx="720.4" cy="872.3" r="13.9" fill="url(#sg)" stroke="#1b3556" stroke-width="1.7"/>
<circle cx="744.6" cy="880.9" r="13.7" fill="url(#sg)" stroke="#1b3556" stroke-width="1.7"/>
<circle cx="754" cy="878" r="12.3" fill="url(#sb)" stroke="#1b3556" stroke-width="1.7"/>
<circle cx="770.9" cy="876.7" r="13.7" fill="url(#sg)" stroke="#1b3556" stroke-width="1.7"/>
<circle cx="795.3" cy="879.5" r="11.4" fill="url(#sb)" stroke="#1b3556" stroke-width="1.7"/>
<circle cx="804.8" cy="872.7" r="12.8" fill="url(#sg)" stroke="#1b3556" stroke-width="1.7"/>
<circle cx="820.5" cy="875.9" r="11.5" fill="url(#sb)" stroke="#1b3556" stroke-width="1.7"/>
<circle cx="839.8" cy="874.4" r="12.7" fill="url(#sg)" stroke="#1b3556" stroke-width="1.7"/>
<circle cx="862.5" cy="880.2" r="13.8" fill="url(#sg)" stroke="#1b3556" stroke-width="1.7"/>
<circle cx="871.6" cy="879.5" r="12.2" fill="url(#sg)" stroke="#1b3556" stroke-width="1.7"/>
<circle cx="893.3" cy="875.2" r="11.6" fill="url(#sb)" stroke="#1b3556" stroke-width="1.7"/>
<circle cx="912.3" cy="874.6" r="13" fill="url(#sg)" stroke="#1b3556" stroke-width="1.7"/>
<circle cx="693.2" cy="889.8" r="12.3" fill="url(#sg)" stroke="#1b3556" stroke-width="1.7"/>
<circle cx="701.2" cy="895.2" r="12.4" fill="url(#sg)" stroke="#1b3556" stroke-width="1.7"/>
<circle cx="726.3" cy="895.2" r="11.7" fill="url(#sb)" stroke="#1b3556" stroke-width="1.7"/>
<circle cx="744.2" cy="895.9" r="11.4" fill="url(#sb)" stroke="#1b3556" stroke-width="1.7"/>
<circle cx="752" cy="891.9" r="12.3" fill="url(#sg)" stroke="#1b3556" stroke-width="1.7"/>
<circle cx="776.9" cy="894.6" r="12.9" fill="url(#sg)" stroke="#1b3556" stroke-width="1.7"/>
<circle cx="793.3" cy="890.9" r="13.7" fill="url(#sb)" stroke="#1b3556" stroke-width="1.7"/>
<circle cx="812.1" cy="898.5" r="13.3" fill="url(#sg)" stroke="#1b3556" stroke-width="1.7"/>
<circle cx="829.1" cy="897.1" r="12.4" fill="url(#sg)" stroke="#1b3556" stroke-width="1.7"/>
<circle cx="846.7" cy="891.1" r="11.5" fill="url(#sg)" stroke="#1b3556" stroke-width="1.7"/>
<circle cx="862.6" cy="891.7" r="11.6" fill="url(#sb)" stroke="#1b3556" stroke-width="1.7"/>
<circle cx="876.7" cy="894.7" r="12.8" fill="url(#sb)" stroke="#1b3556" stroke-width="1.7"/>
<circle cx="895.8" cy="891.6" r="12.1" fill="url(#sb)" stroke="#1b3556" stroke-width="1.7"/>
<circle cx="913.4" cy="894.4" r="12" fill="url(#sb)" stroke="#1b3556" stroke-width="1.7"/>
<circle cx="709.5" cy="910.3" r="11.6" fill="url(#sg)" stroke="#1b3556" stroke-width="1.7"/>
<circle cx="720.4" cy="907.6" r="12.7" fill="url(#sg)" stroke="#1b3556" stroke-width="1.7"/>
<circle cx="744.8" cy="914" r="11.1" fill="url(#sg)" stroke="#1b3556" stroke-width="1.7"/>
<circle cx="757.6" cy="913.1" r="14" fill="url(#sg)" stroke="#1b3556" stroke-width="1.7"/>
<circle cx="773.7" cy="906.1" r="12.3" fill="url(#sb)" stroke="#1b3556" stroke-width="1.7"/>
<circle cx="786.6" cy="911.3" r="13.9" fill="url(#sb)" stroke="#1b3556" stroke-width="1.7"/>
<circle cx="803.2" cy="909.1" r="11.6" fill="url(#sb)" stroke="#1b3556" stroke-width="1.7"/>
<circle cx="828" cy="908.7" r="12.2" fill="url(#sb)" stroke="#1b3556" stroke-width="1.7"/>
<circle cx="837.3" cy="907.7" r="13.4" fill="url(#sg)" stroke="#1b3556" stroke-width="1.7"/>
<circle cx="856.4" cy="915.1" r="13.2" fill="url(#sb)" stroke="#1b3556" stroke-width="1.7"/>
<circle cx="878.8" cy="911.1" r="11.6" fill="url(#sb)" stroke="#1b3556" stroke-width="1.7"/>
<circle cx="893.5" cy="913.3" r="13" fill="url(#sb)" stroke="#1b3556" stroke-width="1.7"/>
<circle cx="905.6" cy="907.6" r="13.6" fill="url(#sb)" stroke="#1b3556" stroke-width="1.7"/>
<circle cx="702.3" cy="927.7" r="13.7" fill="url(#sg)" stroke="#1b3556" stroke-width="1.7"/>
<circle cx="725.6" cy="930" r="12.1" fill="url(#sb)" stroke="#1b3556" stroke-width="1.7"/>
<circle cx="744.2" cy="925.1" r="11.8" fill="url(#sg)" stroke="#1b3556" stroke-width="1.7"/>
<circle cx="754" cy="927" r="13.2" fill="url(#sb)" stroke="#1b3556" stroke-width="1.7"/>
<circle cx="775.6" cy="928.4" r="13.8" fill="url(#sg)" stroke="#1b3556" stroke-width="1.7"/>
<circle cx="793" cy="926.8" r="13.8" fill="url(#sg)" stroke="#1b3556" stroke-width="1.7"/>
<circle cx="805.5" cy="924.1" r="12.4" fill="url(#sb)" stroke="#1b3556" stroke-width="1.7"/>
<circle cx="822.9" cy="932" r="13.4" fill="url(#sg)" stroke="#1b3556" stroke-width="1.7"/>
<circle cx="843" cy="929.6" r="11.4" fill="url(#sb)" stroke="#1b3556" stroke-width="1.7"/>
<circle cx="860.3" cy="931.7" r="11.9" fill="url(#sg)" stroke="#1b3556" stroke-width="1.7"/>
<circle cx="876.4" cy="931.6" r="11.4" fill="url(#sg)" stroke="#1b3556" stroke-width="1.7"/>
<circle cx="889" cy="932.9" r="13.3" fill="url(#sg)" stroke="#1b3556" stroke-width="1.7"/>
</g>
<circle cx="786.9" cy="681.3" r="15.4" fill="url(#sb)" stroke="#1b3556" stroke-width="1.9"/>
<circle cx="827.5" cy="686" r="15.4" fill="url(#sg)" stroke="#1b3556" stroke-width="1.9"/>
<circle cx="771" cy="690" r="12.1" fill="url(#sg)" stroke="#1b3556" stroke-width="1.9"/>
<circle cx="747.8" cy="693.8" r="15.4" fill="url(#sb)" stroke="#1b3556" stroke-width="1.9"/>
<circle cx="790" cy="696.9" r="15.4" fill="url(#sb)" stroke="#1b3556" stroke-width="1.9"/>
<circle cx="827.5" cy="700" r="15.4" fill="url(#sb)" stroke="#1b3556" stroke-width="1.9"/>
<circle cx="872.8" cy="703" r="15.4" fill="url(#sg)" stroke="#1b3556" stroke-width="1.9"/>
<circle cx="713.4" cy="704.7" r="15.4" fill="url(#sb)" stroke="#1b3556" stroke-width="1.9"/>
<circle cx="752.5" cy="709.4" r="15.4" fill="url(#sg)" stroke="#1b3556" stroke-width="1.9"/>
<circle cx="913.4" cy="712.5" r="15.4" fill="url(#sg)" stroke="#1b3556" stroke-width="1.9"/>
<circle cx="799.4" cy="712.5" r="15.4" fill="url(#sb)" stroke="#1b3556" stroke-width="1.9"/>
<circle cx="719.7" cy="715.6" r="15.4" fill="url(#sg)" stroke="#1b3556" stroke-width="1.9"/>
<circle cx="840" cy="715.6" r="15.4" fill="url(#sg)" stroke="#1b3556" stroke-width="1.9"/>
<circle cx="758.8" cy="717.2" r="15.4" fill="url(#sb)" stroke="#1b3556" stroke-width="1.9"/>
<circle cx="883.8" cy="717.2" r="15.4" fill="url(#sb)" stroke="#1b3556" stroke-width="1.9"/>
<circle cx="676" cy="721.9" r="17.1" fill="url(#sb)" stroke="#1b3556" stroke-width="1.9"/>
<circle cx="802.5" cy="728" r="15.4" fill="url(#sg)" stroke="#1b3556" stroke-width="1.9"/>
<circle cx="886.9" cy="729.7" r="16.5" fill="url(#sb)" stroke="#1b3556" stroke-width="1.9"/>
<circle cx="691.6" cy="729.7" r="11" fill="url(#sg)" stroke="#1b3556" stroke-width="1.9"/>
<circle cx="922.8" cy="731.3" r="16.5" fill="url(#sb)" stroke="#1b3556" stroke-width="1.9"/>
<circle cx="721.3" cy="734.4" r="16.5" fill="url(#sb)" stroke="#1b3556" stroke-width="1.9"/>
<circle cx="869.7" cy="739" r="11" fill="url(#sg)" stroke="#1b3556" stroke-width="1.9"/>
<circle cx="843" cy="740.6" r="16.5" fill="url(#sb)" stroke="#1b3556" stroke-width="1.9"/>
<circle cx="743" cy="740.6" r="11" fill="url(#sg)" stroke="#1b3556" stroke-width="1.9"/>
<circle cx="774.4" cy="746.9" r="16.5" fill="url(#sb)" stroke="#1b3556" stroke-width="1.9"/>
<circle cx="668" cy="750" r="11" fill="url(#sg)" stroke="#1b3556" stroke-width="1.9"/>
<circle cx="815" cy="757.8" r="16.5" fill="url(#sb)" stroke="#1b3556" stroke-width="1.9"/>
<circle cx="691.6" cy="759.4" r="16.5" fill="url(#sb)" stroke="#1b3556" stroke-width="1.9"/>
<circle cx="926" cy="759.4" r="11" fill="url(#sg)" stroke="#1b3556" stroke-width="1.9"/>
<circle cx="899.4" cy="762.5" r="16.5" fill="url(#sg)" stroke="#1b3556" stroke-width="1.9"/>
<circle cx="716.6" cy="764" r="11" fill="url(#sg)" stroke="#1b3556" stroke-width="1.9"/>
<circle cx="743" cy="767" r="16.5" fill="url(#sb)" stroke="#1b3556" stroke-width="1.9"/>
<circle cx="865" cy="767" r="16.5" fill="url(#sb)" stroke="#1b3556" stroke-width="1.9"/>
<circle cx="840" cy="767" r="11" fill="url(#sg)" stroke="#1b3556" stroke-width="1.9"/>
<circle cx="771" cy="773.4" r="11" fill="url(#sg)" stroke="#1b3556" stroke-width="1.9"/>
<circle cx="671" cy="778" r="11" fill="url(#sb)" stroke="#1b3556" stroke-width="1.9"/>
<circle cx="794.7" cy="779.7" r="16.5" fill="url(#sg)" stroke="#1b3556" stroke-width="1.9"/>
<circle cx="721" cy="787.5" r="16.5" fill="url(#sg)" stroke="#1b3556" stroke-width="1.9"/>
<circle cx="813.4" cy="787.5" r="11" fill="url(#sb)" stroke="#1b3556" stroke-width="1.9"/>
<circle cx="691.6" cy="787.5" r="11" fill="url(#sg)" stroke="#1b3556" stroke-width="1.9"/>
<circle cx="922.8" cy="789" r="16.5" fill="url(#sb)" stroke="#1b3556" stroke-width="1.9"/>
<circle cx="896" cy="792" r="11" fill="url(#sb)" stroke="#1b3556" stroke-width="1.9"/>
<circle cx="840" cy="793.8" r="16.5" fill="url(#sb)" stroke="#1b3556" stroke-width="1.9"/>
<circle cx="868" cy="795" r="11" fill="url(#sg)" stroke="#1b3556" stroke-width="1.9"/>
<circle cx="743" cy="797" r="11" fill="url(#sg)" stroke="#1b3556" stroke-width="1.9"/>
<circle cx="802.5" cy="797" r="11" fill="url(#sb)" stroke="#1b3556" stroke-width="1.9"/>
<circle cx="774.4" cy="803" r="16.5" fill="url(#sb)" stroke="#1b3556" stroke-width="1.9"/>
<circle cx="666.6" cy="806" r="16.5" fill="url(#sg)" stroke="#1b3556" stroke-width="1.9"/>
<circle cx="926" cy="815.6" r="11" fill="url(#sg)" stroke="#1b3556" stroke-width="1.9"/>
<circle cx="815" cy="817" r="16.5" fill="url(#sg)" stroke="#1b3556" stroke-width="1.9"/>
<circle cx="690" cy="817" r="16.5" fill="url(#sb)" stroke="#1b3556" stroke-width="1.9"/>
<circle cx="899.4" cy="821.9" r="16.5" fill="url(#sg)" stroke="#1b3556" stroke-width="1.9"/>
<circle cx="841.6" cy="823.4" r="11" fill="url(#sg)" stroke="#1b3556" stroke-width="1.9"/>
<circle cx="746" cy="828" r="16.5" fill="url(#sb)" stroke="#1b3556" stroke-width="1.9"/>
<circle cx="769.7" cy="831.3" r="11" fill="url(#sg)" stroke="#1b3556" stroke-width="1.9"/>
<circle cx="671" cy="836" r="11" fill="url(#sb)" stroke="#1b3556" stroke-width="1.9"/>
<circle cx="790" cy="837.5" r="16.5" fill="url(#sg)" stroke="#1b3556" stroke-width="1.9"/>
<circle cx="815" cy="843.8" r="11" fill="url(#sb)" stroke="#1b3556" stroke-width="1.9"/>
<circle cx="922.8" cy="845.3" r="16.5" fill="url(#sb)" stroke="#1b3556" stroke-width="1.9"/>
<circle cx="899.4" cy="846.9" r="11" fill="url(#sb)" stroke="#1b3556" stroke-width="1.9"/>
<circle cx="724.4" cy="848.4" r="16.5" fill="url(#sg)" stroke="#1b3556" stroke-width="1.9"/>
<circle cx="838.4" cy="850" r="16.5" fill="url(#sb)" stroke="#1b3556" stroke-width="1.9"/>
<circle cx="868" cy="851.6" r="11" fill="url(#sg)" stroke="#1b3556" stroke-width="1.9"/>
<circle cx="671" cy="853" r="11" fill="url(#sg)" stroke="#1b3556" stroke-width="1.9"/>
<circle cx="743" cy="856" r="11" fill="url(#sg)" stroke="#1b3556" stroke-width="1.9"/>
<circle cx="771" cy="857.8" r="16.5" fill="url(#sb)" stroke="#1b3556" stroke-width="1.9"/>
<circle cx="691.6" cy="868.8" r="16.5" fill="url(#sb)" stroke="#1b3556" stroke-width="1.9"/>
<circle cx="799.4" cy="868.8" r="11" fill="url(#sb)" stroke="#1b3556" stroke-width="1.9"/>
<circle cx="922.8" cy="870" r="11" fill="url(#sg)" stroke="#1b3556" stroke-width="1.9"/>
<circle cx="815" cy="875" r="16.5" fill="url(#sg)" stroke="#1b3556" stroke-width="1.9"/>
<circle cx="716.6" cy="876.6" r="11" fill="url(#sg)" stroke="#1b3556" stroke-width="1.9"/>
<circle cx="896" cy="878" r="16.5" fill="url(#sg)" stroke="#1b3556" stroke-width="1.9"/>
<circle cx="865" cy="879.7" r="16.5" fill="url(#sb)" stroke="#1b3556" stroke-width="1.9"/>
<circle cx="840" cy="881" r="11" fill="url(#sg)" stroke="#1b3556" stroke-width="1.9"/>
<circle cx="743" cy="882.8" r="16.5" fill="url(#sb)" stroke="#1b3556" stroke-width="1.9"/>
<circle cx="680" cy="890" r="12.1" fill="url(#sg)" stroke="#1b3556" stroke-width="1.9"/>
<circle cx="774.4" cy="890.6" r="11" fill="url(#sg)" stroke="#1b3556" stroke-width="1.9"/>
<circle cx="915" cy="895" r="11" fill="url(#sg)" stroke="#1b3556" stroke-width="1.9"/>
<circle cx="896" cy="897" r="11" fill="url(#sb)" stroke="#1b3556" stroke-width="1.9"/>
<circle cx="721.3" cy="900" r="16.5" fill="url(#sg)" stroke="#1b3556" stroke-width="1.9"/>
<circle cx="840" cy="900" r="16.5" fill="url(#sb)" stroke="#1b3556" stroke-width="1.9"/>
<circle cx="815" cy="903" r="11" fill="url(#sb)" stroke="#1b3556" stroke-width="1.9"/>
<circle cx="700" cy="905" r="13.2" fill="url(#sb)" stroke="#1b3556" stroke-width="1.9"/>
<circle cx="868" cy="906" r="11" fill="url(#sg)" stroke="#1b3556" stroke-width="1.9"/>
<circle cx="743" cy="907.8" r="11" fill="url(#sg)" stroke="#1b3556" stroke-width="1.9"/>
<circle cx="774.4" cy="914" r="16.5" fill="url(#sb)" stroke="#1b3556" stroke-width="1.9"/>
<circle cx="890" cy="915" r="12.1" fill="url(#sg)" stroke="#1b3556" stroke-width="1.9"/>
<circle cx="802.5" cy="918.8" r="11" fill="url(#sb)" stroke="#1b3556" stroke-width="1.9"/>
<circle cx="815" cy="925" r="16.5" fill="url(#sg)" stroke="#1b3556" stroke-width="1.9"/>
<circle cx="860" cy="925" r="14.3" fill="url(#sg)" stroke="#1b3556" stroke-width="1.9"/>
<circle cx="790" cy="930" r="12.1" fill="url(#sb)" stroke="#1b3556" stroke-width="1.9"/>
<circle cx="867.4" cy="824" r="15" fill="url(#sk)" stroke="#111" stroke-width="1.5"/>
<line x1="718.8" y1="814.4" x2="707.4" y2="839.6" stroke="#1b3556" stroke-width="3.6"/><line x1="714" y1="812.2" x2="702.6" y2="837.4" stroke="#1b3556" stroke-width="3.6"/><line x1="718.8" y1="814.4" x2="707.4" y2="839.6" stroke="#f0d830" stroke-width="1.8"/><line x1="714" y1="812.2" x2="702.6" y2="837.4" stroke="#f0d830" stroke-width="1.8"/>
<circle cx="716.4" cy="813.3" r="11.5" fill="url(#sy)" stroke="#1b3556" stroke-width="1.5"/>
<circle cx="705" cy="838.5" r="12" fill="url(#sr)" stroke="#1b3556" stroke-width="1.5"/>
</g>
<circle cx="805" cy="775" r="159.5" fill="none" stroke="#1a3c62" stroke-width="3"/>
<line x1="848.2" y1="648.8" x2="871.8" y2="665.2" stroke="#1b3556" stroke-width="3.6"/><line x1="845.2" y1="653" x2="868.8" y2="669.4" stroke="#1b3556" stroke-width="3.6"/><line x1="848.2" y1="648.8" x2="871.8" y2="665.2" stroke="#f0d830" stroke-width="1.8"/><line x1="845.2" y1="653" x2="868.8" y2="669.4" stroke="#f0d830" stroke-width="1.8"/>
<circle cx="846.7" cy="650.9" r="12" fill="url(#sr)" stroke="#1b3556" stroke-width="1.5"/>
<circle cx="870.3" cy="667.3" r="12" fill="url(#sy)" stroke="#1b3556" stroke-width="1.5"/>
<line x1="595" y1="224.4" x2="725.4" y2="162.2" stroke="#1a3c62" stroke-width="2"/>
<line x1="839.3" y1="262.8" x2="905.9" y2="230.6" stroke="#1a3c62" stroke-width="2"/>
<line x1="714.7" y1="169.3" x2="782.4" y2="194" stroke="#1a3c62" stroke-width="2"/>
<line x1="807.7" y1="203.3" x2="894.1" y2="234.4" stroke="#1a3c62" stroke-width="2"/>
<path d="M714.7,169.3 L734.4,170.6 L730.4,175 L730.7,181 Z" fill="#1a3c62" stroke-linejoin="miter"/>
<path d="M894.1,234.4 L874.4,233.1 L878.4,228.7 L878.1,222.8 Z" fill="#1a3c62" stroke-linejoin="miter"/>
<line x1="63.7" y1="250.2" x2="118.8" y2="271.6" stroke="#1a3c62" stroke-width="2"/>
<line x1="63.3" y1="684.2" x2="116" y2="712.3" stroke="#1a3c62" stroke-width="2"/>
<line x1="74.5" y1="256" x2="74.5" y2="457.6" stroke="#1a3c62" stroke-width="2"/>
<line x1="74.5" y1="491.8" x2="74.5" y2="687.7" stroke="#1a3c62" stroke-width="2"/>
<path d="M74.5,256 L80,275 L74.5,272.7 L69,275 Z" fill="#1a3c62" stroke-linejoin="miter"/>
<path d="M74.5,687.7 L69,668.7 L74.5,671 L80,668.7 Z" fill="#1a3c62" stroke-linejoin="miter"/>
<line x1="172" y1="320.7" x2="242.4" y2="324" stroke="#1a3c62" stroke-width="2"/>
<line x1="171.4" y1="566.7" x2="248.8" y2="606.8" stroke="#1a3c62" stroke-width="2"/>
<line x1="182.5" y1="323" x2="182.5" y2="422.5" stroke="#1a3c62" stroke-width="2"/>
<line x1="182.5" y1="456.6" x2="182.5" y2="570.8" stroke="#1a3c62" stroke-width="2"/>
<path d="M182.5,323 L188,342 L182.5,339.7 L177,342 Z" fill="#1a3c62" stroke-linejoin="miter"/>
<path d="M182.5,570.8 L177,551.8 L182.5,554.1 L188,551.8 Z" fill="#1a3c62" stroke-linejoin="miter"/>
<line x1="212.7" y1="603.3" x2="247" y2="621.2" stroke="#1a3c62" stroke-width="2"/>
<line x1="224.5" y1="550.5" x2="224.5" y2="592.7" stroke="#1a3c62" stroke-width="2"/>
<path d="M224.5,592.7 L219,573.7 L224.5,576 L230,573.7 Z" fill="#1a3c62" stroke-linejoin="miter"/>
<line x1="224.5" y1="611.2" x2="224.5" y2="653.4" stroke="#1a3c62" stroke-width="2"/>
<path d="M224.5,611.2 L230,630.2 L224.5,627.9 L219,630.2 Z" fill="#1a3c62" stroke-linejoin="miter"/>
<line x1="252.3" y1="633.2" x2="252.3" y2="700.8" stroke="#1a3c62" stroke-width="2"/>
<line x1="278.7" y1="616.5" x2="278.7" y2="714" stroke="#1a3c62" stroke-width="2"/>
<line x1="220.6" y1="671" x2="250.5" y2="686.8" stroke="#1a3c62" stroke-width="2"/>
<path d="M250.5,686.8 L231.1,682.8 L235.7,679 L236.3,673.1 Z" fill="#1a3c62" stroke-linejoin="miter"/>
<line x1="313" y1="719.3" x2="280.4" y2="702.6" stroke="#1a3c62" stroke-width="2"/>
<path d="M280.4,702.6 L299.8,706.4 L295.3,710.2 L294.8,716.2 Z" fill="#1a3c62" stroke-linejoin="miter"/>
<line x1="123" y1="726.4" x2="123" y2="782.6" stroke="#1a3c62" stroke-width="2"/>
<line x1="511.7" y1="915.9" x2="511.7" y2="995.6" stroke="#1a3c62" stroke-width="2"/>
<line x1="124.8" y1="770.3" x2="297.3" y2="864.2" stroke="#1a3c62" stroke-width="2"/>
<line x1="326.6" y1="880.6" x2="510.6" y2="982.3" stroke="#1a3c62" stroke-width="2"/>
<path d="M124.8,770.3 L144.1,774.6 L139.5,778.3 L138.9,784.2 Z" fill="#1a3c62" stroke-linejoin="miter"/>
<path d="M510.6,982.3 L491.3,977.9 L496,974.2 L496.6,968.3 Z" fill="#1a3c62" stroke-linejoin="miter"/>
<line x1="185" y1="221.2" x2="272.3" y2="271.4" stroke="#ffffff" stroke-width="5.6"/><path d="M285,278.8 L263.1,274.8 L269,269.5 L270.5,261.8 Z" fill="#1a3c62" stroke="#ffffff" stroke-width="2.6" stroke-linejoin="miter"/><line x1="185" y1="221.2" x2="272.3" y2="271.4" stroke="#1a3c62" stroke-width="2.6"/><path d="M285,278.8 L263.1,274.8 L269,269.5 L270.5,261.8 Z" fill="#1a3c62" stroke-linejoin="miter"/>
<line x1="861" y1="362" x2="735.9" y2="405.7" stroke="#ffffff" stroke-width="5.6"/><path d="M722,410.5 L739.4,396.5 L739.4,404.4 L744.3,410.7 Z" fill="#1a3c62" stroke="#ffffff" stroke-width="2.6" stroke-linejoin="miter"/><line x1="861" y1="362" x2="735.9" y2="405.7" stroke="#1a3c62" stroke-width="2.6"/><path d="M722,410.5 L739.4,396.5 L739.4,404.4 L744.3,410.7 Z" fill="#1a3c62" stroke-linejoin="miter"/>
<line x1="861" y1="453" x2="738.4" y2="496.1" stroke="#ffffff" stroke-width="5.6"/><path d="M724.5,501 L741.8,487 L741.9,494.9 L746.8,501.1 Z" fill="#1a3c62" stroke="#ffffff" stroke-width="2.6" stroke-linejoin="miter"/><line x1="861" y1="453" x2="738.4" y2="496.1" stroke="#1a3c62" stroke-width="2.6"/><path d="M724.5,501 L741.8,487 L741.9,494.9 L746.8,501.1 Z" fill="#1a3c62" stroke-linejoin="miter"/>
<line x1="861" y1="537.5" x2="755.5" y2="571" stroke="#ffffff" stroke-width="5.6"/><path d="M741.5,575.5 L759.2,562 L759.1,569.9 L763.8,576.3 Z" fill="#1a3c62" stroke="#ffffff" stroke-width="2.6" stroke-linejoin="miter"/><line x1="861" y1="537.5" x2="755.5" y2="571" stroke="#1a3c62" stroke-width="2.6"/><path d="M741.5,575.5 L759.2,562 L759.1,569.9 L763.8,576.3 Z" fill="#1a3c62" stroke-linejoin="miter"/>
<line x1="219.8" y1="860" x2="307" y2="785.8" stroke="#ffffff" stroke-width="5.6"/><path d="M318.2,776.3 L307.1,795.6 L304.1,788.3 L297.3,784.2 Z" fill="#1a3c62" stroke="#ffffff" stroke-width="2.6" stroke-linejoin="miter"/><line x1="219.8" y1="860" x2="307" y2="785.8" stroke="#1a3c62" stroke-width="2.6"/><path d="M318.2,776.3 L307.1,795.6 L304.1,788.3 L297.3,784.2 Z" fill="#1a3c62" stroke-linejoin="miter"/>
<line x1="897.5" y1="627.9" x2="880" y2="649" stroke="#1a3c62" stroke-width="2.6"/>
<path d="M874.6,655.8 L880.6,637.4 L884.6,643.6 L891.4,646.3 Z" fill="#1a3c62" stroke-linejoin="miter"/>
<line x1="666" y1="923" x2="697.9" y2="867.4" stroke="#ffffff" stroke-width="5.6"/><path d="M705.6,854 L701.6,877.1 L696,870.8 L687.7,869.1 Z" fill="#1a3c62" stroke="#ffffff" stroke-width="2.6" stroke-linejoin="miter"/><line x1="666" y1="923" x2="697.9" y2="867.4" stroke="#1a3c62" stroke-width="2.6"/><path d="M705.6,854 L701.6,877.1 L696,870.8 L687.7,869.1 Z" fill="#1a3c62" stroke-linejoin="miter"/>
<line x1="940" y1="920" x2="885" y2="843.5" stroke="#ffffff" stroke-width="5.6"/><path d="M876,831 L895.3,844.2 L887.3,846.7 L882.3,853.5 Z" fill="#1a3c62" stroke="#ffffff" stroke-width="2.6" stroke-linejoin="miter"/><line x1="940" y1="920" x2="885" y2="843.5" stroke="#1a3c62" stroke-width="2.6"/><path d="M876,831 L895.3,844.2 L887.3,846.7 L882.3,853.5 Z" fill="#1a3c62" stroke-linejoin="miter"/>
<text x="80.50" y="185.60" font-size="24.30" fill="#1c222b" stroke="#1c222b" stroke-width="0.35" textLength="184.01" lengthAdjust="spacingAndGlyphs">High-Density SiC</text>
<text x="79.80" y="210.30" font-size="24.30" fill="#1c222b" stroke="#1c222b" stroke-width="0.35" textLength="183.71" lengthAdjust="spacingAndGlyphs">Coating (100µm)</text>
<text x="871.40" y="345.40" font-size="24.30" fill="#1c222b" stroke="#1c222b" stroke-width="0.35" textLength="102.90" lengthAdjust="spacingAndGlyphs">Chemical</text>
<text x="872.00" y="370.10" font-size="24.30" fill="#1c222b" stroke="#1c222b" stroke-width="0.35" textLength="101.61" lengthAdjust="spacingAndGlyphs">Inertness</text>
<text x="872.00" y="394.30" font-size="24.30" fill="#1c222b" stroke="#1c222b" stroke-width="0.35" textLength="107.99" lengthAdjust="spacingAndGlyphs">Boundary</text>
<text x="871.70" y="438.90" font-size="24.30" fill="#1c222b" stroke="#1c222b" stroke-width="0.35" textLength="95.30" lengthAdjust="spacingAndGlyphs">Impurity</text>
<text x="871.70" y="463.10" font-size="24.30" fill="#1c222b" stroke="#1c222b" stroke-width="0.35" textLength="81.30" lengthAdjust="spacingAndGlyphs">Sealing</text>
<text x="871.70" y="488.10" font-size="24.30" fill="#1c222b" stroke="#1c222b" stroke-width="0.35" textLength="61.01" lengthAdjust="spacingAndGlyphs">Layer</text>
<text x="871.70" y="534.20" font-size="24.30" fill="#1c222b" stroke="#1c222b" stroke-width="0.35" textLength="101.59" lengthAdjust="spacingAndGlyphs">Hermetic</text>
<text x="871.70" y="558.40" font-size="24.30" fill="#1c222b" stroke="#1c222b" stroke-width="0.35" textLength="45.31" lengthAdjust="spacingAndGlyphs">Seal</text>
<text x="872.70" y="612.90" font-size="24.30" fill="#1c222b" stroke="#1c222b" stroke-width="0.35" textLength="105.40" lengthAdjust="spacingAndGlyphs">Corrosive</text>
<text x="905.70" y="637.70" font-size="24.30" fill="#1c222b" stroke="#1c222b" stroke-width="0.35" textLength="39.40" lengthAdjust="spacingAndGlyphs">Gas</text>
<text x="613.40" y="947.00" font-size="24.30" fill="#1c222b" stroke="#1c222b" stroke-width="0.35" textLength="105.30" lengthAdjust="spacingAndGlyphs">Corrosive</text>
<text x="646.60" y="971.60" font-size="24.30" fill="#1c222b" stroke="#1c222b" stroke-width="0.35" textLength="39.30" lengthAdjust="spacingAndGlyphs">Gas</text>
<text x="789.70" y="974.80" font-size="24.30" fill="#1c222b" stroke="#1c222b" stroke-width="0.35" textLength="34.31" lengthAdjust="spacingAndGlyphs">SiC</text>
<text x="893.40" y="945.80" font-size="24.30" fill="#1c222b" stroke="#1c222b" stroke-width="0.35" textLength="95.41" lengthAdjust="spacingAndGlyphs">Graphite</text>
<text x="893.90" y="971.60" font-size="24.30" fill="#1c222b" stroke="#1c222b" stroke-width="0.35" textLength="95.60" lengthAdjust="spacingAndGlyphs">Impurity</text>
<text x="115.00" y="868.00" font-size="24.30" fill="#1c222b" stroke="#1c222b" stroke-width="0.35" textLength="95.71" lengthAdjust="spacingAndGlyphs">Graphite</text>
<text x="110.30" y="892.60" font-size="24.30" fill="#1c222b" stroke="#1c222b" stroke-width="0.35" textLength="105.91" lengthAdjust="spacingAndGlyphs">Substrate</text>
<text x="117.10" y="918.60" font-size="24.30" fill="#1c222b" stroke="#1c222b" stroke-width="0.35" textLength="92.29" lengthAdjust="spacingAndGlyphs">(Porous)</text>
<text x="135.60" y="61.40" font-size="43.20" font-weight="bold" fill="#1c3a5e" stroke="#1c3a5e" stroke-width="0.60" textLength="753.91" lengthAdjust="spacingAndGlyphs">GRAPHITE SUSCEPTOR SiC COATING:</text>
<text x="121.90" y="105.20" font-size="39.80" fill="#1c3a5e" stroke="#1c3a5e" stroke-width="0.90" textLength="784.09" lengthAdjust="spacingAndGlyphs">TECHNICAL CROSS-SECTION &amp; PROPERTIES</text>
<text x="787.10" y="206.30" font-size="26.00" fill="#1c3a5e" stroke="#1c3a5e" stroke-width="0.35" textLength="15.00" lengthAdjust="spacingAndGlyphs">A</text>
<text x="67.30" y="484.00" font-size="26.00" fill="#1c3a5e" stroke="#1c3a5e" stroke-width="0.35" textLength="14.70" lengthAdjust="spacingAndGlyphs">D</text>
<text x="176.10" y="448.80" font-size="26.00" fill="#1c3a5e" stroke="#1c3a5e" stroke-width="0.35" textLength="12.70" lengthAdjust="spacingAndGlyphs">S</text>
<text x="258.00" y="704.40" font-size="26.00" fill="#1c3a5e" stroke="#1c3a5e" stroke-width="0.35" textLength="14.50" lengthAdjust="spacingAndGlyphs">A</text>
<text x="307.10" y="880.60" font-size="26.00" fill="#1c3a5e" stroke="#1c3a5e" stroke-width="0.35" textLength="10.70" lengthAdjust="spacingAndGlyphs">L</text>
</svg></body></html>
